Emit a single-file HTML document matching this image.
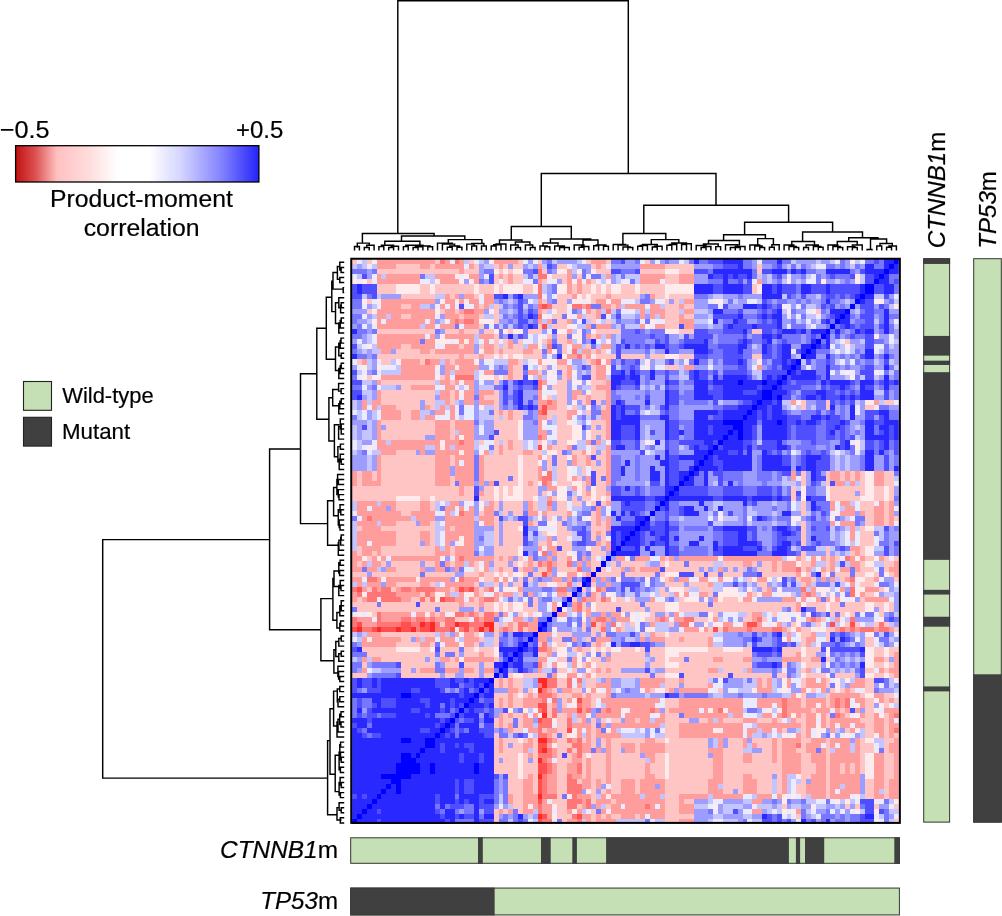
<!DOCTYPE html>
<html><head><meta charset="utf-8"><title>Correlation heatmap</title>
<style>
html,body{margin:0;padding:0;background:#fff;}
body{width:1002px;height:916px;overflow:hidden;}
svg text{font-family:"Liberation Sans",Arial,Helvetica,sans-serif;fill:#000;stroke:#000;stroke-width:0.2px;}
.i{font-style:italic;}
</style></head><body>
<svg width="1002" height="916" viewBox="0 0 1002 916" style="display:block">
<defs><linearGradient id="cb" x1="0" x2="1" y1="0" y2="0">
<stop offset="0" stop-color="#c21010"/><stop offset="0.08" stop-color="#dc5050"/><stop offset="0.17" stop-color="#ffc0c0"/><stop offset="0.30" stop-color="#ffdcdc"/>
<stop offset="0.42" stop-color="#ffffff"/><stop offset="0.55" stop-color="#ffffff"/><stop offset="0.68" stop-color="#d4d4ff"/><stop offset="0.85" stop-color="#8080ff"/><stop offset="1" stop-color="#2424f8"/>
</linearGradient></defs>
<rect width="1002" height="916" fill="#fff"/>
<svg x="352.1" y="258.5" width="546.70" height="565.60" viewBox="0 0 112 112" preserveAspectRatio="none" shape-rendering="crispEdges"><path fill="#ffc4c4" d="M0 0h1v1h-1zM3 0h1v1h-1zM17 0h1v1h-1zM24 0h1v1h-1zM34 0h1v1h-1zM38 0h1v1h-1zM48 0h1v1h-1zM52 0h1v1h-1zM60 0h1v1h-1zM9 1h5v1h-5zM16 1h1v1h-1zM25 1h1v1h-1zM29 1h1v1h-1zM31 1h1v1h-1zM33 1h2v1h-2zM42 1h2v1h-2zM49 1h1v1h-1zM51 1h1v1h-1zM64 1h6v1h-6zM83 1h1v1h-1zM5 2h17v1h-17zM23 2h3v1h-3zM30 2h1v1h-1zM32 2h1v1h-1zM39 2h1v1h-1zM50 2h3v1h-3zM59 2h5v1h-5zM67 2h3v1h-3zM83 2h1v1h-1zM29 3h1v1h-1zM31 3h1v1h-1zM33 3h2v1h-2zM41 3h3v1h-3zM46 3h1v1h-1zM64 3h3v1h-3zM3 4h1v1h-1zM29 4h1v1h-1zM31 4h1v1h-1zM33 4h2v1h-2zM39 4h1v1h-1zM43 4h1v1h-1zM49 4h1v1h-1zM64 4h3v1h-3zM5 5h4v1h-4zM14 5h2v1h-2zM17 5h8v1h-8zM26 5h3v1h-3zM30 5h1v1h-1zM35 5h2v1h-2zM45 5h1v1h-1zM47 5h2v1h-2zM50 5h1v1h-1zM52 5h1v1h-1zM55 5h3v1h-3zM59 5h5v1h-5zM82 5h1v1h-1zM5 6h4v1h-4zM14 6h2v1h-2zM17 6h8v1h-8zM26 6h3v1h-3zM30 6h1v1h-1zM35 6h2v1h-2zM45 6h1v1h-1zM47 6h2v1h-2zM50 6h1v1h-1zM52 6h1v1h-1zM55 6h3v1h-3zM59 6h5v1h-5zM82 6h1v1h-1zM10 7h7v1h-7zM20 7h1v1h-1zM25 7h1v1h-1zM42 7h3v1h-3zM47 7h1v1h-1zM49 7h3v1h-3zM53 7h6v1h-6zM62 7h2v1h-2zM65 7h5v1h-5zM3 8h1v1h-1zM39 8h1v1h-1zM42 8h2v1h-2zM49 8h1v1h-1zM64 8h1v1h-1zM66 8h1v1h-1zM10 9h2v1h-2zM26 9h1v1h-1zM29 9h1v1h-1zM41 9h3v1h-3zM53 9h1v1h-1zM64 9h3v1h-3zM68 9h2v1h-2zM3 10h1v1h-1zM18 10h1v1h-1zM21 10h1v1h-1zM29 10h1v1h-1zM39 10h1v1h-1zM42 10h2v1h-2zM49 10h1v1h-1zM64 10h3v1h-3zM95 10h1v1h-1zM10 11h2v1h-2zM22 11h1v1h-1zM26 11h1v1h-1zM29 11h1v1h-1zM41 11h2v1h-2zM48 11h2v1h-2zM64 11h3v1h-3zM68 11h2v1h-2zM29 12h1v1h-1zM42 12h2v1h-2zM49 12h1v1h-1zM52 12h1v1h-1zM64 12h3v1h-3zM26 13h1v1h-1zM38 13h1v1h-1zM41 13h3v1h-3zM64 13h3v1h-3zM5 14h12v1h-12zM19 14h3v1h-3zM23 14h3v1h-3zM27 14h2v1h-2zM32 14h1v1h-1zM36 14h3v1h-3zM50 14h5v1h-5zM67 14h3v1h-3zM82 14h2v1h-2zM29 15h1v1h-1zM40 15h1v1h-1zM42 15h2v1h-2zM49 15h1v1h-1zM29 16h1v1h-1zM31 16h1v1h-1zM34 16h1v1h-1zM39 16h1v1h-1zM42 16h2v1h-2zM101 16h1v1h-1zM10 17h2v1h-2zM22 17h1v1h-1zM26 17h1v1h-1zM29 17h1v1h-1zM31 17h1v1h-1zM33 17h2v1h-2zM43 17h1v1h-1zM48 17h1v1h-1zM9 18h5v1h-5zM16 18h1v1h-1zM29 18h1v1h-1zM31 18h4v1h-4zM37 18h2v1h-2zM43 18h1v1h-1zM49 18h1v1h-1zM51 18h1v1h-1zM5 19h17v1h-17zM23 19h3v1h-3zM27 19h2v1h-2zM30 19h1v1h-1zM32 19h1v1h-1zM35 19h4v1h-4zM47 19h1v1h-1zM50 19h4v1h-4zM55 19h5v1h-5zM61 19h3v1h-3zM67 19h3v1h-3zM82 19h2v1h-2zM1 20h1v1h-1zM6 20h2v1h-2zM14 20h1v1h-1zM20 20h1v1h-1zM34 20h1v1h-1zM48 20h1v1h-1zM33 21h2v1h-2zM39 21h1v1h-1zM42 21h2v1h-2zM49 21h1v1h-1zM64 21h3v1h-3zM33 22h2v1h-2zM38 22h1v1h-1zM43 22h1v1h-1zM49 22h1v1h-1zM3 23h1v1h-1zM18 23h1v1h-1zM29 23h1v1h-1zM31 23h1v1h-1zM33 23h2v1h-2zM43 23h1v1h-1zM49 23h1v1h-1zM6 24h11v1h-11zM20 24h1v1h-1zM29 24h1v1h-1zM42 24h2v1h-2zM49 24h3v1h-3zM10 25h2v1h-2zM41 25h3v1h-3zM49 25h1v1h-1zM6 26h11v1h-11zM20 26h1v1h-1zM29 26h1v1h-1zM42 26h2v1h-2zM49 26h3v1h-3zM6 27h11v1h-11zM20 27h1v1h-1zM27 27h3v1h-3zM40 27h1v1h-1zM42 27h2v1h-2zM46 27h2v1h-2zM49 27h3v1h-3zM6 28h8v1h-8zM15 28h2v1h-2zM20 28h1v1h-1zM29 28h1v1h-1zM42 28h2v1h-2zM47 28h1v1h-1zM50 28h1v1h-1zM92 28h1v1h-1zM97 28h1v1h-1zM109 28h2v1h-2zM9 29h5v1h-5zM16 29h1v1h-1zM29 29h1v1h-1zM42 29h2v1h-2zM45 29h1v1h-1zM51 29h1v1h-1zM92 29h1v1h-1zM97 29h1v1h-1zM105 29h2v1h-2zM10 30h2v1h-2zM29 30h1v1h-1zM31 30h1v1h-1zM33 30h2v1h-2zM40 30h4v1h-4zM48 30h1v1h-1zM10 31h2v1h-2zM29 31h1v1h-1zM31 31h1v1h-1zM33 31h2v1h-2zM40 31h1v1h-1zM42 31h2v1h-2zM6 32h11v1h-11zM20 32h1v1h-1zM29 32h5v1h-5zM42 32h2v1h-2zM49 32h3v1h-3zM7 33h10v1h-10zM20 33h1v1h-1zM29 33h5v1h-5zM42 33h3v1h-3zM49 33h1v1h-1zM51 33h1v1h-1zM6 34h11v1h-11zM20 34h1v1h-1zM30 34h4v1h-4zM42 34h3v1h-3zM49 34h3v1h-3zM6 35h9v1h-9zM20 35h1v1h-1zM29 35h5v1h-5zM42 35h3v1h-3zM49 35h1v1h-1zM51 35h1v1h-1zM26 36h1v1h-1zM29 36h1v1h-1zM31 36h1v1h-1zM33 36h2v1h-2zM38 36h1v1h-1zM42 36h2v1h-2zM29 37h1v1h-1zM31 37h1v1h-1zM33 37h2v1h-2zM41 37h3v1h-3zM49 37h1v1h-1zM9 38h4v1h-4zM29 38h1v1h-1zM31 38h4v1h-4zM37 38h2v1h-2zM42 38h1v1h-1zM45 38h2v1h-2zM49 38h1v1h-1zM51 38h1v1h-1zM6 39h11v1h-11zM20 39h1v1h-1zM27 39h7v1h-7zM35 39h3v1h-3zM40 39h1v1h-1zM42 39h2v1h-2zM46 39h2v1h-2zM50 39h2v1h-2zM6 40h11v1h-11zM20 40h1v1h-1zM27 40h7v1h-7zM35 40h3v1h-3zM40 40h1v1h-1zM42 40h2v1h-2zM46 40h2v1h-2zM49 40h1v1h-1zM51 40h1v1h-1zM6 41h11v1h-11zM27 41h7v1h-7zM35 41h3v1h-3zM40 41h1v1h-1zM42 41h2v1h-2zM47 41h1v1h-1zM49 41h3v1h-3zM1 42h1v1h-1zM4 42h1v1h-1zM6 42h11v1h-11zM27 42h7v1h-7zM35 42h3v1h-3zM42 42h2v1h-2zM47 42h1v1h-1zM50 42h2v1h-2zM92 42h1v1h-1zM97 42h1v1h-1zM100 42h1v1h-1zM102 42h1v1h-1zM104 42h1v1h-1zM109 42h2v1h-2zM1 43h1v1h-1zM4 43h1v1h-1zM6 43h11v1h-11zM20 43h1v1h-1zM27 43h5v1h-5zM33 43h1v1h-1zM35 43h3v1h-3zM42 43h2v1h-2zM46 43h1v1h-1zM50 43h1v1h-1zM92 43h1v1h-1zM97 43h1v1h-1zM100 43h1v1h-1zM102 43h1v1h-1zM104 43h1v1h-1zM109 43h2v1h-2zM1 44h1v1h-1zM6 44h11v1h-11zM20 44h1v1h-1zM30 44h4v1h-4zM35 44h1v1h-1zM37 44h1v1h-1zM42 44h3v1h-3zM47 44h1v1h-1zM50 44h2v1h-2zM92 44h1v1h-1zM97 44h1v1h-1zM104 44h1v1h-1zM109 44h2v1h-2zM0 45h22v1h-22zM23 45h2v1h-2zM27 45h2v1h-2zM30 45h1v1h-1zM32 45h1v1h-1zM35 45h3v1h-3zM47 45h1v1h-1zM50 45h2v1h-2zM90 45h1v1h-1zM98 45h7v1h-7zM107 45h2v1h-2zM110 45h1v1h-1zM0 46h22v1h-22zM23 46h2v1h-2zM27 46h2v1h-2zM30 46h1v1h-1zM32 46h1v1h-1zM35 46h3v1h-3zM39 46h1v1h-1zM47 46h1v1h-1zM50 46h2v1h-2zM90 46h1v1h-1zM98 46h5v1h-5zM104 46h1v1h-1zM107 46h2v1h-2zM110 46h1v1h-1zM0 47h9v1h-9zM14 47h2v1h-2zM17 47h8v1h-8zM26 47h3v1h-3zM30 47h1v1h-1zM35 47h2v1h-2zM41 47h1v1h-1zM45 47h1v1h-1zM47 47h2v1h-2zM50 47h1v1h-1zM52 47h1v1h-1zM90 47h1v1h-1zM98 47h6v1h-6zM107 47h2v1h-2zM110 47h1v1h-1zM9 48h5v1h-5zM16 48h1v1h-1zM29 48h1v1h-1zM31 48h4v1h-4zM37 48h1v1h-1zM42 48h2v1h-2zM45 48h2v1h-2zM49 48h1v1h-1zM51 48h1v1h-1zM92 48h1v1h-1zM104 48h3v1h-3zM109 48h1v1h-1zM9 49h5v1h-5zM16 49h1v1h-1zM29 49h1v1h-1zM31 49h4v1h-4zM37 49h1v1h-1zM42 49h2v1h-2zM92 49h1v1h-1zM104 49h3v1h-3zM109 49h1v1h-1zM10 50h2v1h-2zM26 50h1v1h-1zM31 50h1v1h-1zM33 50h2v1h-2zM40 50h4v1h-4zM49 50h1v1h-1zM92 50h1v1h-1zM105 50h2v1h-2zM109 50h1v1h-1zM29 51h1v1h-1zM40 51h1v1h-1zM43 51h1v1h-1zM49 51h1v1h-1zM105 51h2v1h-2zM109 51h1v1h-1zM111 51h1v1h-1zM9 52h4v1h-4zM16 52h1v1h-1zM29 52h1v1h-1zM31 52h4v1h-4zM37 52h1v1h-1zM42 52h1v1h-1zM49 52h1v1h-1zM51 52h1v1h-1zM92 52h1v1h-1zM105 52h2v1h-2zM109 52h1v1h-1zM1 53h1v1h-1zM6 53h11v1h-11zM20 53h1v1h-1zM29 53h1v1h-1zM31 53h3v1h-3zM42 53h2v1h-2zM49 53h3v1h-3zM92 53h1v1h-1zM104 53h1v1h-1zM9 54h5v1h-5zM16 54h1v1h-1zM29 54h1v1h-1zM31 54h4v1h-4zM39 54h1v1h-1zM42 54h3v1h-3zM49 54h1v1h-1zM51 54h1v1h-1zM92 54h1v1h-1zM104 54h3v1h-3zM9 55h5v1h-5zM16 55h1v1h-1zM29 55h1v1h-1zM31 55h4v1h-4zM42 55h2v1h-2zM49 55h1v1h-1zM51 55h1v1h-1zM92 55h1v1h-1zM104 55h3v1h-3zM9 56h5v1h-5zM16 56h1v1h-1zM29 56h1v1h-1zM31 56h4v1h-4zM38 56h2v1h-2zM42 56h3v1h-3zM51 56h1v1h-1zM92 56h1v1h-1zM104 56h3v1h-3zM1 57h1v1h-1zM6 57h11v1h-11zM20 57h1v1h-1zM29 57h5v1h-5zM43 57h2v1h-2zM49 57h2v1h-2zM97 57h1v1h-1zM104 57h1v1h-1zM1 58h1v1h-1zM4 58h1v1h-1zM6 58h11v1h-11zM20 58h1v1h-1zM29 58h5v1h-5zM42 58h2v1h-2zM49 58h3v1h-3zM92 58h1v1h-1zM97 58h1v1h-1zM102 58h1v1h-1zM104 58h1v1h-1zM3 59h1v1h-1zM29 59h1v1h-1zM31 59h1v1h-1zM34 59h1v1h-1zM42 59h2v1h-2zM49 59h1v1h-1zM64 59h1v1h-1zM92 59h1v1h-1zM97 59h1v1h-1zM99 59h1v1h-1zM105 59h2v1h-2zM109 59h1v1h-1zM111 59h1v1h-1zM1 60h1v1h-1zM6 60h1v1h-1zM8 60h6v1h-6zM15 60h2v1h-2zM20 60h1v1h-1zM25 60h1v1h-1zM29 60h3v1h-3zM33 60h1v1h-1zM35 60h1v1h-1zM37 60h1v1h-1zM42 60h2v1h-2zM49 60h2v1h-2zM53 60h1v1h-1zM55 60h5v1h-5zM63 60h1v1h-1zM65 60h3v1h-3zM69 60h5v1h-5zM76 60h4v1h-4zM82 60h1v1h-1zM84 60h2v1h-2zM87 60h1v1h-1zM92 60h2v1h-2zM97 60h1v1h-1zM104 60h1v1h-1zM109 60h2v1h-2zM9 61h5v1h-5zM25 61h1v1h-1zM29 61h1v1h-1zM31 61h2v1h-2zM34 61h1v1h-1zM38 61h2v1h-2zM42 61h4v1h-4zM49 61h1v1h-1zM51 61h1v1h-1zM53 61h2v1h-2zM58 61h1v1h-1zM64 61h7v1h-7zM72 61h1v1h-1zM77 61h1v1h-1zM79 61h1v1h-1zM83 61h3v1h-3zM87 61h1v1h-1zM92 61h1v1h-1zM97 61h1v1h-1zM104 61h3v1h-3zM109 61h1v1h-1zM0 62h3v1h-3zM4 62h10v1h-10zM15 62h6v1h-6zM23 62h3v1h-3zM27 62h2v1h-2zM30 62h1v1h-1zM32 62h1v1h-1zM35 62h1v1h-1zM37 62h2v1h-2zM47 62h1v1h-1zM50 62h5v1h-5zM56 62h6v1h-6zM63 62h1v1h-1zM70 62h2v1h-2zM73 62h2v1h-2zM76 62h4v1h-4zM84 62h7v1h-7zM93 62h1v1h-1zM96 62h1v1h-1zM99 62h3v1h-3zM103 62h2v1h-2zM107 62h1v1h-1zM110 62h1v1h-1zM27 63h2v1h-2zM34 63h1v1h-1zM36 63h1v1h-1zM64 63h1v1h-1zM81 63h1v1h-1zM91 63h1v1h-1zM94 63h1v1h-1zM100 63h1v1h-1zM105 63h2v1h-2zM111 63h1v1h-1zM9 64h5v1h-5zM16 64h1v1h-1zM25 64h1v1h-1zM29 64h1v1h-1zM31 64h1v1h-1zM33 64h2v1h-2zM38 64h2v1h-2zM42 64h2v1h-2zM46 64h1v1h-1zM49 64h1v1h-1zM64 64h4v1h-4zM69 64h4v1h-4zM83 64h2v1h-2zM92 64h1v1h-1zM104 64h3v1h-3zM3 65h1v1h-1zM8 65h1v1h-1zM20 65h1v1h-1zM26 65h1v1h-1zM47 65h1v1h-1zM63 65h1v1h-1zM68 65h1v1h-1zM71 65h3v1h-3zM84 65h1v1h-1zM108 65h1v1h-1zM14 66h1v1h-1zM26 66h1v1h-1zM30 66h1v1h-1zM34 66h1v1h-1zM44 66h1v1h-1zM50 66h1v1h-1zM63 66h2v1h-2zM73 66h1v1h-1zM82 66h1v1h-1zM105 66h2v1h-2zM1 67h1v1h-1zM12 67h2v1h-2zM15 67h1v1h-1zM25 67h1v1h-1zM37 67h1v1h-1zM45 67h1v1h-1zM50 67h1v1h-1zM54 67h2v1h-2zM57 67h1v1h-1zM67 67h1v1h-1zM76 67h3v1h-3zM104 67h1v1h-1zM0 68h5v1h-5zM6 68h7v1h-7zM14 68h8v1h-8zM23 68h3v1h-3zM27 68h2v1h-2zM30 68h1v1h-1zM32 68h1v1h-1zM35 68h1v1h-1zM37 68h1v1h-1zM47 68h1v1h-1zM50 68h9v1h-9zM60 68h4v1h-4zM67 68h6v1h-6zM74 68h17v1h-17zM93 68h4v1h-4zM98 68h2v1h-2zM101 68h4v1h-4zM107 68h2v1h-2zM110 68h1v1h-1zM1 69h16v1h-16zM18 69h4v1h-4zM25 69h1v1h-1zM27 69h2v1h-2zM30 69h1v1h-1zM32 69h1v1h-1zM35 69h3v1h-3zM47 69h1v1h-1zM50 69h4v1h-4zM55 69h5v1h-5zM61 69h3v1h-3zM67 69h21v1h-21zM90 69h1v1h-1zM95 69h2v1h-2zM98 69h7v1h-7zM108 69h1v1h-1zM110 69h1v1h-1zM4 70h1v1h-1zM17 70h1v1h-1zM26 70h1v1h-1zM34 70h1v1h-1zM36 70h1v1h-1zM61 70h1v1h-1zM64 70h1v1h-1zM74 70h1v1h-1zM81 70h1v1h-1zM86 70h1v1h-1zM98 70h1v1h-1zM100 70h1v1h-1zM102 70h1v1h-1zM108 70h1v1h-1zM21 71h3v1h-3zM60 71h2v1h-2zM70 71h3v1h-3zM80 71h2v1h-2zM84 71h1v1h-1zM96 71h1v1h-1zM18 72h1v1h-1zM29 72h1v1h-1zM31 72h1v1h-1zM33 72h1v1h-1zM47 72h1v1h-1zM50 72h1v1h-1zM55 72h1v1h-1zM57 72h1v1h-1zM65 72h1v1h-1zM90 72h1v1h-1zM95 72h1v1h-1zM101 72h1v1h-1zM103 72h1v1h-1zM107 72h1v1h-1zM109 72h1v1h-1zM29 73h1v1h-1zM33 73h1v1h-1zM35 73h1v1h-1zM47 73h1v1h-1zM49 73h2v1h-2zM55 73h1v1h-1zM73 73h1v1h-1zM75 73h1v1h-1zM89 73h1v1h-1zM92 73h2v1h-2zM97 73h2v1h-2zM111 73h1v1h-1zM6 74h11v1h-11zM25 74h1v1h-1zM29 74h1v1h-1zM42 74h3v1h-3zM49 74h1v1h-1zM51 74h1v1h-1zM59 74h1v1h-1zM62 74h2v1h-2zM65 74h9v1h-9zM92 74h2v1h-2zM97 74h1v1h-1zM10 75h2v1h-2zM26 75h1v1h-1zM29 75h1v1h-1zM41 75h2v1h-2zM48 75h1v1h-1zM64 75h3v1h-3zM68 75h5v1h-5zM92 75h1v1h-1zM97 75h1v1h-1zM105 75h2v1h-2zM9 76h5v1h-5zM16 76h1v1h-1zM25 76h1v1h-1zM29 76h1v1h-1zM38 76h1v1h-1zM42 76h2v1h-2zM49 76h1v1h-1zM51 76h1v1h-1zM64 76h9v1h-9zM92 76h1v1h-1zM105 76h2v1h-2zM2 77h7v1h-7zM14 77h2v1h-2zM18 77h4v1h-4zM23 77h2v1h-2zM26 77h3v1h-3zM41 77h1v1h-1zM45 77h1v1h-1zM47 77h2v1h-2zM50 77h1v1h-1zM52 77h1v1h-1zM55 77h3v1h-3zM59 77h1v1h-1zM61 77h3v1h-3zM73 77h3v1h-3zM80 77h2v1h-2zM88 77h4v1h-4zM93 77h3v1h-3zM107 77h2v1h-2zM110 77h2v1h-2zM3 78h14v1h-14zM18 78h1v1h-1zM21 78h1v1h-1zM23 78h3v1h-3zM27 78h2v1h-2zM38 78h2v1h-2zM47 78h1v1h-1zM51 78h1v1h-1zM53 78h7v1h-7zM61 78h3v1h-3zM67 78h15v1h-15zM88 78h3v1h-3zM93 78h2v1h-2zM107 78h2v1h-2zM110 78h1v1h-1zM6 79h9v1h-9zM16 79h1v1h-1zM20 79h1v1h-1zM29 79h1v1h-1zM42 79h2v1h-2zM49 79h2v1h-2zM53 79h7v1h-7zM62 79h2v1h-2zM65 79h3v1h-3zM69 79h5v1h-5zM76 79h4v1h-4zM92 79h2v1h-2zM97 79h1v1h-1zM109 79h1v1h-1zM2 80h1v1h-1zM10 80h7v1h-7zM19 80h3v1h-3zM23 80h3v1h-3zM27 80h2v1h-2zM39 80h1v1h-1zM47 80h1v1h-1zM50 80h10v1h-10zM61 80h3v1h-3zM67 80h15v1h-15zM88 80h1v1h-1zM93 80h3v1h-3zM107 80h2v1h-2zM110 80h1v1h-1zM10 81h2v1h-2zM13 81h1v1h-1zM25 81h1v1h-1zM42 81h2v1h-2zM45 81h1v1h-1zM49 81h1v1h-1zM51 81h1v1h-1zM53 81h2v1h-2zM64 81h9v1h-9zM76 81h4v1h-4zM92 81h1v1h-1zM105 81h2v1h-2zM109 81h1v1h-1zM0 82h3v1h-3zM10 82h8v1h-8zM19 82h2v1h-2zM23 82h3v1h-3zM27 82h2v1h-2zM32 82h1v1h-1zM35 82h5v1h-5zM47 82h1v1h-1zM50 82h11v1h-11zM62 82h2v1h-2zM68 82h9v1h-9zM78 82h8v1h-8zM87 82h2v1h-2zM93 82h4v1h-4zM99 82h4v1h-4zM107 82h2v1h-2zM110 82h1v1h-1zM29 83h1v1h-1zM31 83h1v1h-1zM33 83h2v1h-2zM42 83h2v1h-2zM48 83h2v1h-2zM64 83h3v1h-3zM68 83h5v1h-5zM84 83h1v1h-1zM92 83h1v1h-1zM97 83h1v1h-1zM105 83h2v1h-2zM29 84h1v1h-1zM31 84h1v1h-1zM33 84h2v1h-2zM42 84h2v1h-2zM48 84h2v1h-2zM64 84h3v1h-3zM68 84h5v1h-5zM84 84h1v1h-1zM92 84h1v1h-1zM97 84h1v1h-1zM105 84h2v1h-2zM34 85h1v1h-1zM36 85h1v1h-1zM41 85h1v1h-1zM45 85h2v1h-2zM61 85h1v1h-1zM64 85h1v1h-1zM75 85h1v1h-1zM94 85h1v1h-1zM98 85h1v1h-1zM100 85h1v1h-1zM102 85h1v1h-1zM105 85h2v1h-2zM29 86h3v1h-3zM33 86h1v1h-1zM35 86h1v1h-1zM37 86h1v1h-1zM42 86h3v1h-3zM47 86h1v1h-1zM49 86h3v1h-3zM92 86h1v1h-1zM97 86h1v1h-1zM104 86h1v1h-1zM109 86h2v1h-2zM29 87h1v1h-1zM31 87h1v1h-1zM33 87h2v1h-2zM43 87h1v1h-1zM49 87h1v1h-1zM64 87h3v1h-3zM92 87h1v1h-1zM97 87h1v1h-1zM105 87h2v1h-2zM109 87h1v1h-1zM111 87h1v1h-1zM29 88h1v1h-1zM31 88h1v1h-1zM33 88h2v1h-2zM40 88h1v1h-1zM43 88h1v1h-1zM49 88h1v1h-1zM64 88h3v1h-3zM92 88h1v1h-1zM97 88h1v1h-1zM105 88h2v1h-2zM109 88h1v1h-1zM40 89h1v1h-1zM64 89h1v1h-1zM94 89h1v1h-1zM100 89h1v1h-1zM105 89h2v1h-2zM31 90h1v1h-1zM33 90h2v1h-2zM40 90h1v1h-1zM42 90h2v1h-2zM64 90h3v1h-3zM92 90h1v1h-1zM97 90h1v1h-1zM101 90h1v1h-1zM105 90h2v1h-2zM109 90h1v1h-1zM29 91h1v1h-1zM31 91h2v1h-2zM34 91h1v1h-1zM42 91h2v1h-2zM46 91h1v1h-1zM49 91h1v1h-1zM51 91h1v1h-1zM53 91h2v1h-2zM58 91h1v1h-1zM64 91h5v1h-5zM71 91h2v1h-2zM76 91h4v1h-4zM83 91h3v1h-3zM87 91h1v1h-1zM91 91h2v1h-2zM97 91h1v1h-1zM104 91h3v1h-3zM109 91h1v1h-1zM29 92h1v1h-1zM31 92h1v1h-1zM34 92h1v1h-1zM42 92h2v1h-2zM49 92h1v1h-1zM64 92h3v1h-3zM92 92h1v1h-1zM97 92h1v1h-1zM105 92h2v1h-2zM109 92h1v1h-1zM33 93h2v1h-2zM39 93h1v1h-1zM42 93h2v1h-2zM49 93h1v1h-1zM64 93h3v1h-3zM88 93h1v1h-1zM92 93h1v1h-1zM101 93h1v1h-1zM105 93h2v1h-2zM109 93h1v1h-1zM29 94h1v1h-1zM41 94h1v1h-1zM43 94h1v1h-1zM49 94h1v1h-1zM64 94h3v1h-3zM92 94h1v1h-1zM105 94h2v1h-2zM109 94h1v1h-1zM111 94h1v1h-1zM29 95h1v1h-1zM31 95h3v1h-3zM35 95h1v1h-1zM37 95h1v1h-1zM42 95h2v1h-2zM47 95h1v1h-1zM49 95h1v1h-1zM51 95h1v1h-1zM53 95h7v1h-7zM62 95h2v1h-2zM65 95h8v1h-8zM77 95h3v1h-3zM82 95h4v1h-4zM87 95h1v1h-1zM92 95h2v1h-2zM97 95h1v1h-1zM104 95h1v1h-1zM109 95h2v1h-2zM29 96h1v1h-1zM31 96h1v1h-1zM33 96h2v1h-2zM37 96h1v1h-1zM42 96h3v1h-3zM49 96h1v1h-1zM51 96h1v1h-1zM53 96h2v1h-2zM58 96h1v1h-1zM64 96h9v1h-9zM77 96h3v1h-3zM83 96h3v1h-3zM87 96h1v1h-1zM92 96h1v1h-1zM97 96h1v1h-1zM104 96h3v1h-3zM109 96h1v1h-1zM29 97h1v1h-1zM31 97h4v1h-4zM37 97h1v1h-1zM42 97h2v1h-2zM45 97h1v1h-1zM53 97h2v1h-2zM58 97h1v1h-1zM64 97h9v1h-9zM76 97h4v1h-4zM84 97h2v1h-2zM87 97h1v1h-1zM91 97h2v1h-2zM97 97h1v1h-1zM104 97h3v1h-3zM109 97h1v1h-1zM29 98h5v1h-5zM35 98h1v1h-1zM37 98h1v1h-1zM42 98h1v1h-1zM44 98h1v1h-1zM47 98h1v1h-1zM49 98h3v1h-3zM53 98h6v1h-6zM62 98h2v1h-2zM65 98h8v1h-8zM76 98h4v1h-4zM82 98h4v1h-4zM87 98h1v1h-1zM92 98h2v1h-2zM97 98h1v1h-1zM104 98h1v1h-1zM109 98h2v1h-2zM29 99h1v1h-1zM31 99h3v1h-3zM35 99h1v1h-1zM37 99h1v1h-1zM42 99h3v1h-3zM47 99h1v1h-1zM49 99h3v1h-3zM53 99h7v1h-7zM62 99h2v1h-2zM65 99h9v1h-9zM76 99h4v1h-4zM82 99h4v1h-4zM87 99h1v1h-1zM92 99h2v1h-2zM97 99h1v1h-1zM104 99h1v1h-1zM109 99h2v1h-2zM29 100h5v1h-5zM35 100h3v1h-3zM42 100h2v1h-2zM47 100h1v1h-1zM49 100h3v1h-3zM53 100h7v1h-7zM61 100h3v1h-3zM65 100h9v1h-9zM76 100h12v1h-12zM92 100h3v1h-3zM97 100h1v1h-1zM100 100h1v1h-1zM102 100h1v1h-1zM104 100h1v1h-1zM109 100h2v1h-2zM29 101h5v1h-5zM35 101h3v1h-3zM42 101h2v1h-2zM47 101h1v1h-1zM49 101h3v1h-3zM53 101h7v1h-7zM61 101h3v1h-3zM65 101h9v1h-9zM76 101h12v1h-12zM92 101h3v1h-3zM97 101h1v1h-1zM100 101h1v1h-1zM102 101h1v1h-1zM104 101h1v1h-1zM109 101h2v1h-2zM32 102h2v1h-2zM35 102h1v1h-1zM37 102h1v1h-1zM42 102h2v1h-2zM47 102h1v1h-1zM49 102h3v1h-3zM53 102h7v1h-7zM62 102h2v1h-2zM65 102h9v1h-9zM76 102h4v1h-4zM82 102h4v1h-4zM87 102h1v1h-1zM92 102h2v1h-2zM97 102h1v1h-1zM109 102h2v1h-2zM32 103h3v1h-3zM37 103h1v1h-1zM42 103h2v1h-2zM46 103h1v1h-1zM49 103h1v1h-1zM51 103h1v1h-1zM53 103h2v1h-2zM58 103h1v1h-1zM64 103h9v1h-9zM76 103h4v1h-4zM83 103h3v1h-3zM87 103h1v1h-1zM92 103h1v1h-1zM97 103h1v1h-1zM105 103h2v1h-2zM109 103h1v1h-1zM32 104h3v1h-3zM37 104h1v1h-1zM42 104h2v1h-2zM49 104h1v1h-1zM53 104h2v1h-2zM58 104h1v1h-1zM64 104h9v1h-9zM76 104h4v1h-4zM83 104h3v1h-3zM87 104h1v1h-1zM91 104h2v1h-2zM97 104h1v1h-1zM105 104h2v1h-2zM109 104h1v1h-1zM32 105h3v1h-3zM37 105h1v1h-1zM42 105h2v1h-2zM49 105h1v1h-1zM51 105h1v1h-1zM53 105h2v1h-2zM58 105h1v1h-1zM64 105h9v1h-9zM76 105h2v1h-2zM79 105h1v1h-1zM83 105h3v1h-3zM87 105h1v1h-1zM91 105h2v1h-2zM97 105h1v1h-1zM105 105h2v1h-2zM109 105h1v1h-1zM33 106h2v1h-2zM42 106h1v1h-1zM49 106h1v1h-1zM64 106h3v1h-3zM92 106h1v1h-1zM97 106h1v1h-1zM105 106h2v1h-2zM109 106h1v1h-1zM33 107h2v1h-2zM41 107h3v1h-3zM49 107h1v1h-1zM53 107h1v1h-1zM64 107h3v1h-3zM68 107h2v1h-2zM33 108h2v1h-2zM42 108h2v1h-2zM46 108h1v1h-1zM52 108h1v1h-1zM64 108h3v1h-3zM88 108h1v1h-1zM101 108h1v1h-1zM103 108h1v1h-1zM107 108h1v1h-1zM111 108h1v1h-1zM29 109h1v1h-1zM31 109h1v1h-1zM34 109h1v1h-1zM42 109h2v1h-2zM49 109h1v1h-1zM64 109h3v1h-3zM29 110h1v1h-1zM42 110h3v1h-3zM49 110h1v1h-1zM51 110h1v1h-1zM53 110h2v1h-2zM58 110h1v1h-1zM64 110h6v1h-6zM91 110h1v1h-1zM29 111h1v1h-1zM43 111h1v1h-1zM49 111h1v1h-1zM64 111h3v1h-3zM111 111h1v1h-1z"/><path fill="#ebebff" d="M1 0h1v1h-1zM20 0h1v1h-1zM25 0h1v1h-1zM35 0h1v1h-1zM37 0h1v1h-1zM47 0h1v1h-1zM59 0h1v1h-1zM62 0h1v1h-1zM67 0h1v1h-1zM83 0h1v1h-1zM99 0h1v1h-1zM104 0h1v1h-1zM3 1h1v1h-1zM23 1h1v1h-1zM44 1h1v1h-1zM52 1h1v1h-1zM95 1h2v1h-2zM0 3h1v1h-1zM4 3h1v1h-1zM22 3h1v1h-1zM27 3h1v1h-1zM48 3h1v1h-1zM89 3h1v1h-1zM94 3h1v1h-1zM1 4h1v1h-1zM4 4h1v1h-1zM14 4h2v1h-2zM30 4h1v1h-1zM35 4h2v1h-2zM40 4h2v1h-2zM47 4h1v1h-1zM50 4h1v1h-1zM55 4h2v1h-2zM63 4h1v1h-1zM82 4h1v1h-1zM93 4h2v1h-2zM26 7h1v1h-1zM39 7h1v1h-1zM41 7h1v1h-1zM111 7h1v1h-1zM4 8h1v1h-1zM26 8h1v1h-1zM36 8h1v1h-1zM47 8h1v1h-1zM55 8h3v1h-3zM62 8h2v1h-2zM73 8h1v1h-1zM81 8h2v1h-2zM2 9h1v1h-1zM5 9h1v1h-1zM17 9h1v1h-1zM19 9h1v1h-1zM21 9h1v1h-1zM23 9h2v1h-2zM60 9h1v1h-1zM75 9h1v1h-1zM89 9h1v1h-1zM91 9h1v1h-1zM44 10h1v1h-1zM47 10h1v1h-1zM55 10h3v1h-3zM93 10h1v1h-1zM2 11h1v1h-1zM17 11h1v1h-1zM40 11h1v1h-1zM45 11h1v1h-1zM52 11h1v1h-1zM89 11h1v1h-1zM91 11h1v1h-1zM95 11h1v1h-1zM6 12h1v1h-1zM15 12h1v1h-1zM46 12h1v1h-1zM50 12h1v1h-1zM59 12h1v1h-1zM62 12h2v1h-2zM73 12h1v1h-1zM93 12h1v1h-1zM111 12h1v1h-1zM2 13h1v1h-1zM4 13h1v1h-1zM17 13h1v1h-1zM22 13h1v1h-1zM28 13h1v1h-1zM61 13h1v1h-1zM89 13h1v1h-1zM94 13h1v1h-1zM40 14h1v1h-1zM4 15h1v1h-1zM15 15h1v1h-1zM36 15h1v1h-1zM39 15h1v1h-1zM110 15h1v1h-1zM1 16h1v1h-1zM4 16h1v1h-1zM20 16h1v1h-1zM26 16h1v1h-1zM28 16h1v1h-1zM30 16h1v1h-1zM35 16h2v1h-2zM50 16h1v1h-1zM100 16h1v1h-1zM110 16h1v1h-1zM2 17h1v1h-1zM17 17h2v1h-2zM98 17h1v1h-1zM107 17h2v1h-2zM44 18h1v1h-1zM52 18h1v1h-1zM90 18h1v1h-1zM99 18h1v1h-1zM101 18h1v1h-1zM107 18h1v1h-1zM40 19h1v1h-1zM0 20h1v1h-1zM5 20h1v1h-1zM27 20h2v1h-2zM36 20h1v1h-1zM44 20h1v1h-1zM68 20h1v1h-1zM100 20h1v1h-1zM102 20h1v1h-1zM1 21h1v1h-1zM6 21h3v1h-3zM28 21h1v1h-1zM36 21h1v1h-1zM41 21h1v1h-1zM59 21h1v1h-1zM62 21h2v1h-2zM73 21h1v1h-1zM82 21h1v1h-1zM93 21h1v1h-1zM2 22h1v1h-1zM5 22h1v1h-1zM17 22h1v1h-1zM26 22h1v1h-1zM41 22h1v1h-1zM98 22h1v1h-1zM100 22h1v1h-1zM102 22h1v1h-1zM108 22h1v1h-1zM1 23h1v1h-1zM20 23h1v1h-1zM30 23h1v1h-1zM45 23h1v1h-1zM26 24h1v1h-1zM40 24h2v1h-2zM2 25h1v1h-1zM5 25h1v1h-1zM17 25h2v1h-2zM21 25h1v1h-1zM23 25h1v1h-1zM45 25h1v1h-1zM39 26h3v1h-3zM22 27h1v1h-1zM111 28h1v1h-1zM3 29h1v1h-1zM21 29h1v1h-1zM23 29h2v1h-2zM44 29h1v1h-1zM90 29h1v1h-1zM103 29h1v1h-1zM107 29h1v1h-1zM0 30h1v1h-1zM2 30h1v1h-1zM5 30h1v1h-1zM19 30h1v1h-1zM21 30h1v1h-1zM23 30h2v1h-2zM60 30h1v1h-1zM103 30h1v1h-1zM2 31h1v1h-1zM5 31h1v1h-1zM17 31h3v1h-3zM21 31h1v1h-1zM23 31h2v1h-2zM45 31h1v1h-1zM45 32h1v1h-1zM48 32h1v1h-1zM26 33h1v1h-1zM39 33h3v1h-3zM26 34h1v1h-1zM41 34h1v1h-1zM40 35h2v1h-2zM0 36h1v1h-1zM4 36h1v1h-1zM27 36h2v1h-2zM36 36h1v1h-1zM61 36h1v1h-1zM102 36h1v1h-1zM0 37h1v1h-1zM2 37h1v1h-1zM4 37h1v1h-1zM26 37h2v1h-2zM36 37h1v1h-1zM48 37h1v1h-1zM3 38h1v1h-1zM60 38h1v1h-1zM90 38h1v1h-1zM99 38h1v1h-1zM103 38h1v1h-1zM22 40h1v1h-1zM45 41h1v1h-1zM48 41h1v1h-1zM45 42h1v1h-1zM48 42h1v1h-1zM91 43h1v1h-1zM38 44h1v1h-1zM41 44h1v1h-1zM111 44h1v1h-1zM40 46h1v1h-1zM18 48h1v1h-1zM23 48h2v1h-2zM44 48h1v1h-1zM90 48h1v1h-1zM99 48h1v1h-1zM103 48h1v1h-1zM107 48h1v1h-1zM3 49h1v1h-1zM21 49h1v1h-1zM23 49h1v1h-1zM44 49h1v1h-1zM52 49h1v1h-1zM90 49h1v1h-1zM99 49h1v1h-1zM103 49h1v1h-1zM111 49h1v1h-1zM0 50h1v1h-1zM17 50h2v1h-2zM21 50h1v1h-1zM45 50h1v1h-1zM52 50h1v1h-1zM75 50h1v1h-1zM98 50h1v1h-1zM1 51h1v1h-1zM41 51h1v1h-1zM47 51h1v1h-1zM73 51h1v1h-1zM81 51h1v1h-1zM102 51h1v1h-1zM18 52h1v1h-1zM90 52h1v1h-1zM99 52h1v1h-1zM111 52h1v1h-1zM38 53h4v1h-4zM18 54h1v1h-1zM101 54h1v1h-1zM103 54h1v1h-1zM18 55h1v1h-1zM44 55h1v1h-1zM52 55h1v1h-1zM101 55h1v1h-1zM103 55h1v1h-1zM107 55h1v1h-1zM3 56h1v1h-1zM18 56h1v1h-1zM21 56h1v1h-1zM101 56h1v1h-1zM103 56h1v1h-1zM107 56h1v1h-1zM26 57h1v1h-1zM39 57h1v1h-1zM45 58h1v1h-1zM7 59h1v1h-1zM20 59h1v1h-1zM35 59h1v1h-1zM50 59h1v1h-1zM56 59h1v1h-1zM61 59h2v1h-2zM93 59h1v1h-1zM100 59h1v1h-1zM110 59h1v1h-1zM26 60h1v1h-1zM23 61h2v1h-2zM52 61h1v1h-1zM95 61h1v1h-1zM99 61h1v1h-1zM107 61h1v1h-1zM2 63h1v1h-1zM69 63h2v1h-2zM74 63h1v1h-1zM79 63h1v1h-1zM108 63h1v1h-1zM18 64h1v1h-1zM60 64h1v1h-1zM101 64h1v1h-1zM103 64h1v1h-1zM107 64h1v1h-1zM111 64h1v1h-1zM99 65h1v1h-1zM27 66h2v1h-2zM39 66h1v1h-1zM41 66h1v1h-1zM53 66h1v1h-1zM61 66h1v1h-1zM69 66h2v1h-2zM79 66h2v1h-2zM86 66h1v1h-1zM88 66h1v1h-1zM100 66h1v1h-1zM23 67h1v1h-1zM30 67h1v1h-1zM35 67h1v1h-1zM56 67h1v1h-1zM62 67h2v1h-2zM82 67h1v1h-1zM91 67h1v1h-1zM93 67h1v1h-1zM101 67h1v1h-1zM110 67h1v1h-1zM40 68h1v1h-1zM40 69h1v1h-1zM0 70h1v1h-1zM2 70h1v1h-1zM12 70h1v1h-1zM19 70h1v1h-1zM32 70h1v1h-1zM37 70h1v1h-1zM45 70h1v1h-1zM58 70h1v1h-1zM60 70h1v1h-1zM67 70h1v1h-1zM76 70h3v1h-3zM85 70h1v1h-1zM87 70h1v1h-1zM89 70h2v1h-2zM104 70h1v1h-1zM107 70h1v1h-1zM4 71h1v1h-1zM24 71h1v1h-1zM31 71h2v1h-2zM42 71h2v1h-2zM58 71h1v1h-1zM65 71h1v1h-1zM76 71h1v1h-1zM78 71h1v1h-1zM85 71h1v1h-1zM87 71h1v1h-1zM92 71h1v1h-1zM97 71h1v1h-1zM100 71h1v1h-1zM107 71h1v1h-1zM45 72h1v1h-1zM54 72h1v1h-1zM58 72h1v1h-1zM78 72h1v1h-1zM85 72h1v1h-1zM96 72h1v1h-1zM104 72h1v1h-1zM58 73h1v1h-1zM67 73h1v1h-1zM26 74h1v1h-1zM41 74h1v1h-1zM111 74h1v1h-1zM0 75h1v1h-1zM17 75h1v1h-1zM21 75h1v1h-1zM74 75h2v1h-2zM90 75h2v1h-2zM95 75h2v1h-2zM103 75h1v1h-1zM107 75h1v1h-1zM18 76h1v1h-1zM44 76h1v1h-1zM52 76h1v1h-1zM95 76h1v1h-1zM107 76h1v1h-1zM111 76h1v1h-1zM40 79h2v1h-2zM40 80h1v1h-1zM3 81h1v1h-1zM44 81h1v1h-1zM88 81h1v1h-1zM95 81h1v1h-1zM107 81h1v1h-1zM45 83h1v1h-1zM75 83h1v1h-1zM90 83h2v1h-2zM95 83h1v1h-1zM98 83h1v1h-1zM45 84h1v1h-1zM74 84h2v1h-2zM91 84h1v1h-1zM108 84h1v1h-1zM37 85h1v1h-1zM51 85h1v1h-1zM54 85h1v1h-1zM74 85h1v1h-1zM77 85h2v1h-2zM87 85h1v1h-1zM89 85h1v1h-1zM95 85h1v1h-1zM103 85h2v1h-2zM111 86h1v1h-1zM40 87h1v1h-1zM50 87h1v1h-1zM63 87h1v1h-1zM80 87h3v1h-3zM102 87h1v1h-1zM44 88h1v1h-1zM50 88h1v1h-1zM62 88h2v1h-2zM80 88h3v1h-3zM86 88h1v1h-1zM102 88h1v1h-1zM110 88h1v1h-1zM71 89h1v1h-1zM84 89h1v1h-1zM98 89h1v1h-1zM108 89h1v1h-1zM36 90h1v1h-1zM55 90h1v1h-1zM61 90h2v1h-2zM80 90h3v1h-3zM86 90h1v1h-1zM102 90h1v1h-1zM52 91h1v1h-1zM88 91h1v1h-1zM95 91h1v1h-1zM111 91h1v1h-1zM41 92h1v1h-1zM80 92h2v1h-2zM102 92h1v1h-1zM35 93h1v1h-1zM47 93h1v1h-1zM55 93h3v1h-3zM59 93h1v1h-1zM61 93h1v1h-1zM63 93h1v1h-1zM80 93h1v1h-1zM86 93h1v1h-1zM94 93h1v1h-1zM36 94h1v1h-1zM61 94h1v1h-1zM80 94h1v1h-1zM86 94h1v1h-1zM89 94h1v1h-1zM94 94h1v1h-1zM98 94h1v1h-1zM100 94h1v1h-1zM102 94h1v1h-1zM96 96h1v1h-1zM99 96h1v1h-1zM107 96h1v1h-1zM107 97h1v1h-1zM41 99h1v1h-1zM90 103h1v1h-1zM52 104h1v1h-1zM90 104h1v1h-1zM90 105h1v1h-1zM99 105h1v1h-1zM80 106h2v1h-2zM86 106h1v1h-1zM89 106h1v1h-1zM91 106h1v1h-1zM102 106h1v1h-1zM40 107h1v1h-1zM74 107h2v1h-2zM95 107h2v1h-2zM98 107h1v1h-1zM103 107h1v1h-1zM107 107h2v1h-2zM30 108h1v1h-1zM55 108h1v1h-1zM62 108h1v1h-1zM73 108h1v1h-1zM82 108h1v1h-1zM110 108h1v1h-1zM41 109h1v1h-1zM48 109h1v1h-1zM74 109h1v1h-1zM80 109h2v1h-2zM86 109h1v1h-1zM89 109h1v1h-1zM94 109h1v1h-1zM98 109h1v1h-1zM100 109h1v1h-1zM102 109h1v1h-1zM60 110h1v1h-1zM88 110h1v1h-1zM90 110h1v1h-1zM95 110h1v1h-1zM107 110h1v1h-1zM111 110h1v1h-1zM36 111h1v1h-1zM41 111h1v1h-1zM61 111h1v1h-1zM74 111h2v1h-2zM81 111h1v1h-1zM91 111h1v1h-1zM108 111h1v1h-1z"/><path fill="#c4c4ff" d="M2 0h1v1h-1zM23 0h1v1h-1zM26 0h1v1h-1zM41 0h1v1h-1zM46 0h1v1h-1zM68 0h1v1h-1zM90 0h1v1h-1zM95 0h1v1h-1zM98 0h1v1h-1zM103 0h1v1h-1zM0 1h1v1h-1zM2 1h1v1h-1zM4 1h1v1h-1zM27 1h2v1h-2zM36 1h1v1h-1zM39 1h1v1h-1zM45 1h1v1h-1zM89 1h1v1h-1zM91 1h1v1h-1zM94 1h1v1h-1zM102 1h1v1h-1zM45 2h1v1h-1zM1 3h1v1h-1zM6 3h1v1h-1zM15 3h2v1h-2zM35 3h1v1h-1zM37 3h1v1h-1zM51 3h1v1h-1zM54 3h1v1h-1zM56 3h3v1h-3zM83 3h1v1h-1zM85 3h1v1h-1zM93 3h1v1h-1zM104 3h1v1h-1zM16 4h1v1h-1zM51 4h1v1h-1zM54 4h1v1h-1zM58 4h1v1h-1zM85 4h1v1h-1zM88 4h1v1h-1zM91 4h1v1h-1zM99 4h1v1h-1zM104 4h1v1h-1zM39 5h1v1h-1zM39 6h1v1h-1zM2 7h1v1h-1zM5 7h1v1h-1zM17 7h2v1h-2zM74 7h2v1h-2zM88 7h1v1h-1zM95 7h1v1h-1zM107 7h2v1h-2zM32 8h1v1h-1zM37 8h1v1h-1zM58 8h1v1h-1zM67 8h1v1h-1zM76 8h1v1h-1zM78 8h1v1h-1zM83 8h1v1h-1zM101 8h1v1h-1zM111 8h1v1h-1zM4 9h1v1h-1zM14 9h2v1h-2zM28 9h1v1h-1zM30 9h1v1h-1zM35 9h1v1h-1zM55 9h1v1h-1zM63 9h1v1h-1zM93 9h2v1h-2zM110 9h1v1h-1zM32 10h1v1h-1zM40 10h1v1h-1zM51 10h1v1h-1zM53 10h1v1h-1zM58 10h1v1h-1zM60 10h1v1h-1zM67 10h1v1h-1zM70 10h3v1h-3zM88 10h1v1h-1zM103 10h1v1h-1zM4 11h1v1h-1zM7 11h1v1h-1zM27 11h2v1h-2zM30 11h1v1h-1zM47 11h1v1h-1zM55 11h3v1h-3zM62 11h1v1h-1zM73 11h1v1h-1zM93 11h2v1h-2zM3 12h1v1h-1zM18 12h1v1h-1zM39 12h1v1h-1zM48 12h1v1h-1zM51 12h1v1h-1zM53 12h1v1h-1zM70 12h3v1h-3zM91 12h1v1h-1zM95 12h1v1h-1zM107 12h1v1h-1zM14 13h1v1h-1zM30 13h1v1h-1zM32 13h1v1h-1zM40 13h1v1h-1zM46 13h2v1h-2zM54 13h1v1h-1zM56 13h3v1h-3zM73 13h1v1h-1zM93 13h1v1h-1zM111 13h1v1h-1zM45 14h1v1h-1zM3 15h1v1h-1zM25 15h1v1h-1zM37 15h1v1h-1zM51 15h1v1h-1zM54 15h1v1h-1zM67 15h1v1h-1zM3 16h1v1h-1zM25 16h1v1h-1zM37 16h1v1h-1zM45 16h1v1h-1zM51 16h1v1h-1zM54 16h1v1h-1zM99 16h1v1h-1zM104 16h1v1h-1zM111 16h1v1h-1zM1 17h1v1h-1zM4 17h1v1h-1zM30 17h1v1h-1zM35 17h1v1h-1zM39 17h1v1h-1zM47 17h1v1h-1zM50 17h1v1h-1zM82 17h1v1h-1zM100 17h1v1h-1zM102 17h1v1h-1zM110 17h1v1h-1zM2 18h1v1h-1zM4 18h2v1h-2zM46 18h1v1h-1zM61 18h1v1h-1zM98 18h1v1h-1zM100 18h1v1h-1zM102 18h1v1h-1zM108 18h1v1h-1zM91 19h1v1h-1zM3 20h1v1h-1zM8 20h1v1h-1zM18 20h1v1h-1zM29 20h3v1h-3zM35 20h1v1h-1zM47 20h1v1h-1zM59 20h1v1h-1zM62 20h2v1h-2zM66 20h1v1h-1zM73 20h1v1h-1zM82 20h1v1h-1zM92 20h1v1h-1zM99 20h1v1h-1zM107 20h1v1h-1zM110 20h1v1h-1zM3 21h1v1h-1zM9 21h1v1h-1zM37 21h1v1h-1zM45 21h1v1h-1zM54 21h1v1h-1zM67 21h1v1h-1zM111 21h1v1h-1zM1 22h1v1h-1zM6 22h4v1h-4zM20 22h1v1h-1zM25 22h1v1h-1zM47 22h1v1h-1zM67 22h1v1h-1zM82 22h2v1h-2zM110 22h1v1h-1zM25 23h1v1h-1zM37 23h1v1h-1zM39 23h1v1h-1zM52 23h1v1h-1zM67 23h2v1h-2zM83 23h1v1h-1zM101 23h1v1h-1zM104 23h1v1h-1zM107 23h1v1h-1zM2 24h2v1h-2zM17 24h1v1h-1zM6 25h3v1h-3zM22 25h1v1h-1zM26 25h3v1h-3zM47 25h2v1h-2zM59 25h1v1h-1zM61 25h1v1h-1zM63 25h1v1h-1zM2 26h2v1h-2zM17 26h1v1h-1zM107 26h2v1h-2zM3 27h1v1h-1zM41 27h1v1h-1zM0 28h1v1h-1zM3 28h1v1h-1zM17 28h2v1h-2zM21 28h1v1h-1zM75 28h1v1h-1zM88 28h2v1h-2zM103 28h1v1h-1zM108 28h1v1h-1zM0 29h1v1h-1zM5 29h1v1h-1zM17 29h1v1h-1zM19 29h1v1h-1zM27 29h2v1h-2zM46 29h1v1h-1zM61 29h1v1h-1zM89 29h1v1h-1zM91 29h1v1h-1zM94 29h1v1h-1zM1 30h1v1h-1zM4 30h1v1h-1zM14 30h2v1h-2zM26 30h2v1h-2zM35 30h1v1h-1zM47 30h1v1h-1zM59 30h1v1h-1zM61 30h2v1h-2zM1 31h1v1h-1zM4 31h1v1h-1zM14 31h1v1h-1zM22 31h1v1h-1zM26 31h3v1h-3zM30 31h1v1h-1zM41 31h1v1h-1zM48 31h1v1h-1zM50 31h1v1h-1zM3 32h1v1h-1zM26 32h1v1h-1zM41 32h1v1h-1zM46 32h1v1h-1zM0 33h1v1h-1zM3 33h1v1h-1zM60 33h1v1h-1zM103 33h1v1h-1zM0 34h1v1h-1zM2 34h2v1h-2zM21 34h1v1h-1zM60 34h1v1h-1zM0 35h1v1h-1zM2 35h2v1h-2zM60 35h1v1h-1zM103 35h1v1h-1zM1 36h1v1h-1zM7 36h1v1h-1zM25 36h1v1h-1zM30 36h1v1h-1zM35 36h1v1h-1zM37 36h1v1h-1zM40 36h1v1h-1zM46 36h2v1h-2zM51 36h1v1h-1zM59 36h1v1h-1zM63 36h1v1h-1zM83 36h1v1h-1zM104 36h1v1h-1zM1 37h1v1h-1zM15 37h2v1h-2zM20 37h1v1h-1zM25 37h1v1h-1zM35 37h1v1h-1zM37 37h1v1h-1zM46 37h2v1h-2zM50 37h2v1h-2zM59 37h1v1h-1zM62 37h2v1h-2zM67 37h1v1h-1zM104 37h1v1h-1zM0 38h1v1h-1zM4 38h2v1h-2zM28 38h1v1h-1zM39 38h1v1h-1zM61 38h1v1h-1zM91 38h1v1h-1zM98 38h1v1h-1zM100 38h1v1h-1zM3 39h1v1h-1zM99 39h1v1h-1zM101 39h1v1h-1zM3 40h1v1h-1zM99 40h1v1h-1zM101 40h1v1h-1zM3 41h1v1h-1zM41 41h1v1h-1zM46 41h1v1h-1zM99 41h1v1h-1zM101 41h1v1h-1zM41 42h1v1h-1zM46 42h1v1h-1zM41 43h1v1h-1zM88 43h1v1h-1zM111 43h1v1h-1zM60 44h1v1h-1zM74 44h1v1h-1zM88 44h3v1h-3zM96 44h1v1h-1zM101 44h1v1h-1zM103 44h1v1h-1zM44 45h1v1h-1zM91 45h1v1h-1zM45 46h1v1h-1zM38 47h2v1h-2zM0 48h1v1h-1zM5 48h1v1h-1zM17 48h1v1h-1zM19 48h1v1h-1zM27 48h1v1h-1zM38 48h2v1h-2zM74 48h2v1h-2zM86 48h1v1h-1zM91 48h1v1h-1zM102 48h1v1h-1zM0 49h1v1h-1zM17 49h1v1h-1zM38 49h2v1h-2zM45 49h2v1h-2zM74 49h1v1h-1zM81 49h1v1h-1zM91 49h1v1h-1zM100 49h1v1h-1zM20 50h1v1h-1zM30 50h1v1h-1zM73 50h1v1h-1zM81 50h2v1h-2zM86 50h1v1h-1zM93 50h1v1h-1zM12 51h1v1h-1zM25 51h1v1h-1zM32 51h1v1h-1zM37 51h1v1h-1zM45 51h1v1h-1zM51 51h1v1h-1zM67 51h1v1h-1zM76 51h3v1h-3zM101 51h1v1h-1zM0 52h1v1h-1zM5 52h1v1h-1zM17 52h1v1h-1zM45 52h1v1h-1zM74 52h2v1h-2zM81 52h1v1h-1zM86 52h1v1h-1zM91 52h1v1h-1zM0 53h1v1h-1zM17 53h2v1h-2zM98 53h1v1h-1zM101 53h1v1h-1zM103 53h1v1h-1zM107 53h2v1h-2zM0 54h1v1h-1zM17 54h1v1h-1zM27 54h2v1h-2zM36 54h1v1h-1zM38 54h1v1h-1zM45 54h1v1h-1zM98 54h1v1h-1zM100 54h1v1h-1zM108 54h1v1h-1zM0 55h1v1h-1zM17 55h1v1h-1zM27 55h2v1h-2zM36 55h1v1h-1zM38 55h2v1h-2zM45 55h2v1h-2zM98 55h1v1h-1zM100 55h1v1h-1zM108 55h1v1h-1zM0 56h1v1h-1zM17 56h1v1h-1zM27 56h2v1h-2zM100 56h1v1h-1zM102 56h1v1h-1zM0 57h1v1h-1zM18 57h1v1h-1zM90 57h1v1h-1zM95 57h2v1h-2zM98 57h1v1h-1zM107 57h2v1h-2zM26 58h1v1h-1zM99 58h1v1h-1zM101 58h1v1h-1zM51 59h1v1h-1zM88 59h1v1h-1zM3 60h1v1h-1zM23 60h1v1h-1zM52 60h1v1h-1zM60 60h1v1h-1zM74 60h2v1h-2zM95 60h2v1h-2zM99 60h1v1h-1zM101 60h1v1h-1zM107 60h2v1h-2zM5 61h1v1h-1zM28 61h1v1h-1zM74 61h1v1h-1zM80 61h1v1h-1zM94 61h1v1h-1zM80 63h1v1h-1zM86 63h1v1h-1zM99 63h1v1h-1zM0 64h1v1h-1zM2 64h1v1h-1zM17 64h1v1h-1zM27 64h2v1h-2zM36 64h1v1h-1zM45 64h1v1h-1zM74 64h2v1h-2zM81 64h1v1h-1zM86 64h1v1h-1zM89 64h1v1h-1zM91 64h1v1h-1zM94 64h1v1h-1zM98 64h1v1h-1zM100 64h1v1h-1zM56 65h1v1h-1zM62 65h1v1h-1zM69 65h2v1h-2zM74 65h2v1h-2zM79 65h1v1h-1zM82 65h1v1h-1zM93 65h1v1h-1zM98 65h1v1h-1zM111 65h1v1h-1zM20 66h2v1h-2zM33 66h1v1h-1zM38 66h1v1h-1zM47 66h1v1h-1zM56 66h2v1h-2zM59 66h2v1h-2zM62 66h1v1h-1zM65 66h1v1h-1zM90 66h1v1h-1zM95 66h1v1h-1zM97 66h1v1h-1zM109 66h2v1h-2zM31 67h1v1h-1zM33 67h1v1h-1zM41 67h2v1h-2zM66 67h1v1h-1zM44 69h1v1h-1zM44 70h1v1h-1zM68 70h3v1h-3zM79 70h2v1h-2zM84 70h1v1h-1zM111 70h1v1h-1zM30 71h1v1h-1zM35 71h1v1h-1zM75 71h1v1h-1zM98 71h1v1h-1zM101 71h1v1h-1zM30 72h1v1h-1zM56 72h1v1h-1zM62 72h3v1h-3zM73 72h1v1h-1zM88 72h1v1h-1zM94 72h1v1h-1zM99 72h1v1h-1zM105 72h2v1h-2zM110 72h1v1h-1zM45 73h1v1h-1zM56 73h2v1h-2zM62 73h3v1h-3zM0 74h1v1h-1zM2 74h1v1h-1zM17 74h1v1h-1zM19 74h1v1h-1zM60 74h1v1h-1zM74 74h2v1h-2zM88 74h1v1h-1zM90 74h1v1h-1zM95 74h2v1h-2zM103 74h1v1h-1zM108 74h1v1h-1zM1 75h1v1h-1zM14 75h1v1h-1zM22 75h1v1h-1zM27 75h2v1h-2zM47 75h1v1h-1zM56 75h2v1h-2zM110 75h1v1h-1zM27 76h2v1h-2zM40 76h1v1h-1zM74 76h2v1h-2zM81 76h1v1h-1zM91 76h1v1h-1zM94 76h1v1h-1zM102 76h1v1h-1zM108 76h1v1h-1zM44 78h2v1h-2zM0 79h1v1h-1zM3 79h1v1h-1zM17 79h1v1h-1zM60 79h1v1h-1zM98 79h1v1h-1zM101 79h1v1h-1zM103 79h1v1h-1zM44 80h1v1h-1zM91 80h1v1h-1zM4 81h2v1h-2zM39 81h2v1h-2zM61 81h1v1h-1zM75 81h1v1h-1zM80 81h1v1h-1zM91 81h1v1h-1zM94 81h1v1h-1zM98 81h1v1h-1zM100 81h1v1h-1zM102 81h1v1h-1zM91 82h1v1h-1zM35 83h2v1h-2zM47 83h1v1h-1zM50 83h1v1h-1zM55 83h3v1h-3zM73 83h1v1h-1zM80 83h1v1h-1zM82 83h1v1h-1zM86 83h1v1h-1zM100 83h1v1h-1zM102 83h1v1h-1zM110 83h1v1h-1zM35 84h2v1h-2zM47 84h1v1h-1zM55 84h3v1h-3zM63 84h1v1h-1zM80 84h3v1h-3zM86 84h1v1h-1zM100 84h1v1h-1zM110 84h1v1h-1zM53 85h1v1h-1zM79 85h3v1h-3zM86 85h1v1h-1zM111 85h1v1h-1zM60 86h1v1h-1zM74 86h2v1h-2zM88 86h2v1h-2zM95 86h2v1h-2zM51 88h1v1h-1zM111 88h1v1h-1zM36 89h1v1h-1zM80 89h1v1h-1zM86 89h1v1h-1zM45 90h1v1h-1zM77 90h1v1h-1zM83 90h1v1h-1zM45 91h1v1h-1zM61 91h1v1h-1zM74 91h1v1h-1zM89 91h1v1h-1zM37 92h1v1h-1zM63 92h1v1h-1zM82 92h1v1h-1zM54 93h1v1h-1zM58 93h1v1h-1zM83 93h1v1h-1zM91 93h1v1h-1zM99 93h1v1h-1zM104 93h1v1h-1zM32 94h1v1h-1zM37 94h1v1h-1zM47 94h1v1h-1zM55 94h5v1h-5zM62 94h2v1h-2zM82 94h2v1h-2zM85 94h1v1h-1zM87 94h1v1h-1zM104 94h1v1h-1zM74 95h1v1h-1zM107 95h2v1h-2zM74 96h1v1h-1zM81 96h1v1h-1zM102 96h1v1h-1zM108 96h1v1h-1zM36 97h1v1h-1zM80 97h2v1h-2zM98 97h1v1h-1zM102 97h1v1h-1zM60 99h1v1h-1zM89 102h2v1h-2zM86 103h1v1h-1zM89 103h1v1h-1zM91 103h1v1h-1zM75 104h1v1h-1zM86 104h1v1h-1zM89 104h1v1h-1zM100 104h1v1h-1zM86 105h1v1h-1zM89 105h1v1h-1zM108 105h1v1h-1zM30 106h1v1h-1zM50 106h1v1h-1zM59 106h1v1h-1zM63 106h1v1h-1zM73 106h1v1h-1zM82 106h1v1h-1zM93 106h1v1h-1zM104 106h1v1h-1zM30 107h1v1h-1zM73 107h1v1h-1zM80 107h2v1h-2zM93 107h2v1h-2zM100 107h1v1h-1zM102 107h1v1h-1zM110 107h1v1h-1zM32 108h1v1h-1zM51 108h1v1h-1zM70 108h3v1h-3zM76 108h4v1h-4zM83 108h3v1h-3zM87 108h1v1h-1zM90 108h2v1h-2zM95 108h2v1h-2zM99 108h1v1h-1zM37 109h1v1h-1zM47 109h1v1h-1zM76 109h2v1h-2zM85 109h1v1h-1zM87 109h1v1h-1zM93 109h1v1h-1zM104 109h1v1h-1zM110 109h2v1h-2zM36 110h1v1h-1zM74 110h2v1h-2zM80 110h2v1h-2zM89 110h1v1h-1zM94 110h1v1h-1zM108 110h1v1h-1zM32 111h1v1h-1zM37 111h1v1h-1zM47 111h1v1h-1zM54 111h6v1h-6zM62 111h2v1h-2zM73 111h1v1h-1zM76 111h3v1h-3zM82 111h2v1h-2zM110 111h1v1h-1z"/><path fill="#ffebeb" d="M4 0h1v1h-1zM28 0h1v1h-1zM102 0h1v1h-1zM29 2h1v1h-1zM31 2h1v1h-1zM33 2h2v1h-2zM42 2h2v1h-2zM46 2h1v1h-1zM49 2h1v1h-1zM64 2h3v1h-3zM21 3h1v1h-1zM23 3h1v1h-1zM40 3h1v1h-1zM103 3h1v1h-1zM0 4h1v1h-1zM2 4h1v1h-1zM17 4h1v1h-1zM22 4h1v1h-1zM24 4h1v1h-1zM45 4h1v1h-1zM52 4h1v1h-1zM89 4h1v1h-1zM96 4h1v1h-1zM103 4h1v1h-1zM9 5h5v1h-5zM16 5h1v1h-1zM25 5h1v1h-1zM29 5h1v1h-1zM31 5h4v1h-4zM37 5h1v1h-1zM42 5h2v1h-2zM49 5h1v1h-1zM51 5h1v1h-1zM53 5h2v1h-2zM58 5h1v1h-1zM64 5h6v1h-6zM83 5h1v1h-1zM9 6h5v1h-5zM16 6h1v1h-1zM25 6h1v1h-1zM29 6h1v1h-1zM31 6h4v1h-4zM37 6h1v1h-1zM42 6h2v1h-2zM49 6h1v1h-1zM51 6h1v1h-1zM53 6h2v1h-2zM58 6h1v1h-1zM64 6h6v1h-6zM83 6h1v1h-1zM46 7h1v1h-1zM48 7h1v1h-1zM64 7h1v1h-1zM2 8h1v1h-1zM5 8h1v1h-1zM18 8h1v1h-1zM21 8h1v1h-1zM23 8h1v1h-1zM45 8h2v1h-2zM48 8h1v1h-1zM52 8h1v1h-1zM74 8h2v1h-2zM107 8h2v1h-2zM44 9h1v1h-1zM88 9h1v1h-1zM111 9h1v1h-1zM4 10h1v1h-1zM17 10h1v1h-1zM28 10h1v1h-1zM41 10h1v1h-1zM89 10h1v1h-1zM94 10h1v1h-1zM39 11h1v1h-1zM44 11h1v1h-1zM4 12h1v1h-1zM19 12h1v1h-1zM26 12h3v1h-3zM61 12h1v1h-1zM44 13h2v1h-2zM60 13h1v1h-1zM29 14h1v1h-1zM31 14h1v1h-1zM33 14h2v1h-2zM42 14h2v1h-2zM46 14h1v1h-1zM49 14h1v1h-1zM64 14h3v1h-3zM18 15h1v1h-1zM38 15h1v1h-1zM45 15h2v1h-2zM107 15h1v1h-1zM17 16h3v1h-3zM21 16h1v1h-1zM23 16h1v1h-1zM38 16h1v1h-1zM46 16h1v1h-1zM52 16h1v1h-1zM3 17h1v1h-1zM38 17h1v1h-1zM44 17h1v1h-1zM101 17h1v1h-1zM26 18h1v1h-1zM41 18h1v1h-1zM29 19h1v1h-1zM31 19h1v1h-1zM33 19h2v1h-2zM43 19h1v1h-1zM49 19h1v1h-1zM64 19h3v1h-3zM9 20h1v1h-1zM25 20h1v1h-1zM37 20h1v1h-1zM39 20h3v1h-3zM51 20h1v1h-1zM60 20h1v1h-1zM83 20h1v1h-1zM2 21h1v1h-1zM5 21h1v1h-1zM17 21h1v1h-1zM21 21h1v1h-1zM38 21h1v1h-1zM52 21h1v1h-1zM60 21h1v1h-1zM40 22h1v1h-1zM45 22h1v1h-1zM52 22h1v1h-1zM101 22h1v1h-1zM107 22h1v1h-1zM2 23h1v1h-1zM4 23h2v1h-2zM17 23h1v1h-1zM26 23h3v1h-3zM36 23h1v1h-1zM40 23h2v1h-2zM102 23h1v1h-1zM22 24h1v1h-1zM45 24h2v1h-2zM48 24h1v1h-1zM39 25h1v1h-1zM22 26h1v1h-1zM48 26h1v1h-1zM39 27h1v1h-1zM45 28h1v1h-1zM91 28h1v1h-1zM105 28h2v1h-2zM26 29h1v1h-1zM48 29h1v1h-1zM46 30h1v1h-1zM34 32h1v1h-1zM39 32h1v1h-1zM44 32h1v1h-1zM34 33h1v1h-1zM45 33h2v1h-2zM34 34h1v1h-1zM45 34h2v1h-2zM48 34h1v1h-1zM22 35h1v1h-1zM34 35h1v1h-1zM45 35h2v1h-2zM48 35h1v1h-1zM18 36h1v1h-1zM39 36h1v1h-1zM44 36h2v1h-2zM52 36h1v1h-1zM60 36h1v1h-1zM103 36h1v1h-1zM3 37h1v1h-1zM18 37h1v1h-1zM39 37h1v1h-1zM103 37h1v1h-1zM22 38h1v1h-1zM26 38h1v1h-1zM40 38h2v1h-2zM48 38h1v1h-1zM34 39h1v1h-1zM39 39h1v1h-1zM44 39h1v1h-1zM34 40h1v1h-1zM38 40h1v1h-1zM34 41h1v1h-1zM44 41h1v1h-1zM34 42h1v1h-1zM39 42h1v1h-1zM44 42h1v1h-1zM105 42h2v1h-2zM34 43h1v1h-1zM44 43h1v1h-1zM105 43h2v1h-2zM34 44h1v1h-1zM45 44h2v1h-2zM105 44h2v1h-2zM29 45h1v1h-1zM31 45h1v1h-1zM33 45h2v1h-2zM42 45h2v1h-2zM46 45h1v1h-1zM49 45h1v1h-1zM92 45h1v1h-1zM97 45h1v1h-1zM105 45h2v1h-2zM109 45h1v1h-1zM29 46h1v1h-1zM31 46h1v1h-1zM33 46h2v1h-2zM42 46h2v1h-2zM46 46h1v1h-1zM49 46h1v1h-1zM92 46h1v1h-1zM97 46h1v1h-1zM105 46h2v1h-2zM109 46h1v1h-1zM9 47h5v1h-5zM16 47h1v1h-1zM29 47h1v1h-1zM31 47h4v1h-4zM37 47h1v1h-1zM42 47h2v1h-2zM49 47h1v1h-1zM51 47h1v1h-1zM92 47h1v1h-1zM97 47h1v1h-1zM104 47h3v1h-3zM109 47h1v1h-1zM26 48h1v1h-1zM48 48h1v1h-1zM26 49h1v1h-1zM38 50h1v1h-1zM99 50h1v1h-1zM38 51h1v1h-1zM48 51h1v1h-1zM75 51h1v1h-1zM90 51h2v1h-2zM98 51h1v1h-1zM26 52h1v1h-1zM40 52h2v1h-2zM34 53h1v1h-1zM105 53h2v1h-2zM40 54h2v1h-2zM22 55h1v1h-1zM22 56h1v1h-1zM41 56h1v1h-1zM34 57h1v1h-1zM48 57h1v1h-1zM105 57h2v1h-2zM34 58h1v1h-1zM38 58h1v1h-1zM44 58h1v1h-1zM105 58h2v1h-2zM2 59h1v1h-1zM5 59h1v1h-1zM18 59h1v1h-1zM45 59h1v1h-1zM75 59h1v1h-1zM89 59h2v1h-2zM95 59h1v1h-1zM103 59h1v1h-1zM107 59h1v1h-1zM34 60h1v1h-1zM64 60h1v1h-1zM91 60h1v1h-1zM105 60h2v1h-2zM26 61h1v1h-1zM29 62h1v1h-1zM31 62h1v1h-1zM33 62h2v1h-2zM42 62h2v1h-2zM46 62h1v1h-1zM64 62h3v1h-3zM92 62h1v1h-1zM97 62h1v1h-1zM105 62h2v1h-2zM109 62h1v1h-1zM6 63h1v1h-1zM13 63h1v1h-1zM21 63h1v1h-1zM26 63h1v1h-1zM30 63h1v1h-1zM32 63h1v1h-1zM54 63h1v1h-1zM60 63h1v1h-1zM63 63h1v1h-1zM73 63h1v1h-1zM76 63h2v1h-2zM82 63h1v1h-1zM85 63h1v1h-1zM87 63h1v1h-1zM103 63h2v1h-2zM40 64h2v1h-2zM29 65h1v1h-1zM31 65h3v1h-3zM49 65h1v1h-1zM65 65h3v1h-3zM76 65h3v1h-3zM81 65h1v1h-1zM87 65h1v1h-1zM95 65h3v1h-3zM103 65h2v1h-2zM109 65h1v1h-1zM2 66h1v1h-1zM17 66h2v1h-2zM23 66h2v1h-2zM52 66h1v1h-1zM67 66h1v1h-1zM75 66h4v1h-4zM83 66h1v1h-1zM87 66h1v1h-1zM89 66h1v1h-1zM96 66h1v1h-1zM98 66h1v1h-1zM103 66h1v1h-1zM107 66h1v1h-1zM5 67h1v1h-1zM17 67h1v1h-1zM53 67h1v1h-1zM68 67h3v1h-3zM72 67h1v1h-1zM75 67h1v1h-1zM79 67h1v1h-1zM94 67h1v1h-1zM98 67h1v1h-1zM100 67h1v1h-1zM102 67h1v1h-1zM29 68h1v1h-1zM31 68h1v1h-1zM33 68h2v1h-2zM42 68h1v1h-1zM49 68h1v1h-1zM64 68h3v1h-3zM92 68h1v1h-1zM97 68h1v1h-1zM105 68h2v1h-2zM109 68h1v1h-1zM29 69h1v1h-1zM31 69h1v1h-1zM33 69h2v1h-2zM43 69h1v1h-1zM49 69h1v1h-1zM64 69h3v1h-3zM97 69h1v1h-1zM105 69h2v1h-2zM109 69h1v1h-1zM1 70h1v1h-1zM3 70h1v1h-1zM15 70h1v1h-1zM20 70h1v1h-1zM35 70h1v1h-1zM38 70h1v1h-1zM47 70h1v1h-1zM55 70h1v1h-1zM57 70h1v1h-1zM59 70h1v1h-1zM73 70h1v1h-1zM88 70h1v1h-1zM91 70h1v1h-1zM93 70h1v1h-1zM101 70h1v1h-1zM47 71h1v1h-1zM57 71h1v1h-1zM59 71h1v1h-1zM73 71h1v1h-1zM88 71h2v1h-2zM91 71h1v1h-1zM108 71h1v1h-1zM69 72h1v1h-1zM72 72h1v1h-1zM74 72h2v1h-2zM79 72h1v1h-1zM84 72h1v1h-1zM86 72h1v1h-1zM91 72h1v1h-1zM100 72h1v1h-1zM21 73h1v1h-1zM41 73h1v1h-1zM53 73h1v1h-1zM60 73h2v1h-2zM71 73h1v1h-1zM90 73h1v1h-1zM94 73h3v1h-3zM22 74h1v1h-1zM64 74h1v1h-1zM91 74h1v1h-1zM105 74h2v1h-2zM3 75h1v1h-1zM88 75h1v1h-1zM22 76h1v1h-1zM41 76h1v1h-1zM9 77h5v1h-5zM16 77h1v1h-1zM25 77h1v1h-1zM29 77h1v1h-1zM42 77h2v1h-2zM49 77h1v1h-1zM51 77h1v1h-1zM53 77h2v1h-2zM58 77h1v1h-1zM64 77h9v1h-9zM76 77h4v1h-4zM92 77h1v1h-1zM97 77h1v1h-1zM105 77h2v1h-2zM109 77h1v1h-1zM29 78h1v1h-1zM42 78h2v1h-2zM46 78h1v1h-1zM49 78h1v1h-1zM64 78h3v1h-3zM92 78h1v1h-1zM97 78h1v1h-1zM105 78h2v1h-2zM109 78h1v1h-1zM22 79h1v1h-1zM46 79h1v1h-1zM48 79h1v1h-1zM64 79h1v1h-1zM105 79h2v1h-2zM42 80h2v1h-2zM46 80h1v1h-1zM49 80h1v1h-1zM64 80h3v1h-3zM92 80h1v1h-1zM97 80h1v1h-1zM105 80h2v1h-2zM109 80h1v1h-1zM48 81h1v1h-1zM33 82h2v1h-2zM42 82h2v1h-2zM46 82h1v1h-1zM49 82h1v1h-1zM64 82h3v1h-3zM92 82h1v1h-1zM97 82h1v1h-1zM105 82h2v1h-2zM109 82h1v1h-1zM88 83h1v1h-1zM99 83h1v1h-1zM101 83h1v1h-1zM111 83h1v1h-1zM88 84h1v1h-1zM99 84h1v1h-1zM48 85h1v1h-1zM50 85h1v1h-1zM59 85h1v1h-1zM62 85h2v1h-2zM73 85h1v1h-1zM82 85h1v1h-1zM88 85h1v1h-1zM93 85h1v1h-1zM99 85h1v1h-1zM34 86h1v1h-1zM91 86h1v1h-1zM105 86h2v1h-2zM45 87h1v1h-1zM107 87h1v1h-1zM45 88h1v1h-1zM95 88h1v1h-1zM103 88h1v1h-1zM108 88h1v1h-1zM32 89h1v1h-1zM35 89h1v1h-1zM37 89h1v1h-1zM55 89h2v1h-2zM73 89h1v1h-1zM76 89h1v1h-1zM85 89h1v1h-1zM87 89h1v1h-1zM107 89h1v1h-1zM38 90h1v1h-1zM48 90h1v1h-1zM90 90h1v1h-1zM95 90h1v1h-1zM103 90h1v1h-1zM108 90h1v1h-1zM41 91h1v1h-1zM95 92h1v1h-1zM99 92h1v1h-1zM45 93h1v1h-1zM52 93h1v1h-1zM74 93h2v1h-2zM95 93h2v1h-2zM103 93h1v1h-1zM44 94h2v1h-2zM88 94h1v1h-1zM90 94h1v1h-1zM95 94h1v1h-1zM101 94h1v1h-1zM107 94h1v1h-1zM34 95h1v1h-1zM64 95h1v1h-1zM105 95h2v1h-2zM41 96h1v1h-1zM34 98h1v1h-1zM48 98h1v1h-1zM64 98h1v1h-1zM105 98h2v1h-2zM34 99h1v1h-1zM64 99h1v1h-1zM105 99h2v1h-2zM34 100h1v1h-1zM64 100h1v1h-1zM105 100h2v1h-2zM34 101h1v1h-1zM64 101h1v1h-1zM105 101h2v1h-2zM34 102h1v1h-1zM64 102h1v1h-1zM91 102h1v1h-1zM105 102h2v1h-2zM48 105h1v1h-1zM44 106h1v1h-1zM52 106h1v1h-1zM88 106h1v1h-1zM90 106h1v1h-1zM103 106h1v1h-1zM88 107h1v1h-1zM99 107h1v1h-1zM101 107h1v1h-1zM111 107h1v1h-1zM36 108h1v1h-1zM41 108h1v1h-1zM74 108h1v1h-1zM94 108h1v1h-1zM45 109h1v1h-1zM52 109h1v1h-1zM88 109h1v1h-1zM90 109h1v1h-1zM103 109h1v1h-1zM107 109h1v1h-1zM41 110h1v1h-1zM107 111h1v1h-1z"/><path fill="#ff9d9d" d="M5 0h12v1h-12zM19 0h1v1h-1zM22 0h1v1h-1zM29 0h5v1h-5zM49 0h3v1h-3zM5 1h4v1h-4zM14 1h2v1h-2zM17 1h6v1h-6zM24 1h1v1h-1zM30 1h1v1h-1zM38 1h1v1h-1zM50 1h1v1h-1zM59 1h5v1h-5zM22 2h1v1h-1zM44 2h1v1h-1zM5 3h1v1h-1zM7 3h7v1h-7zM17 3h4v1h-4zM24 3h2v1h-2zM30 3h1v1h-1zM32 3h1v1h-1zM44 3h1v1h-1zM52 3h1v1h-1zM59 3h5v1h-5zM67 3h3v1h-3zM5 4h9v1h-9zM18 4h4v1h-4zM25 4h1v1h-1zM32 4h1v1h-1zM38 4h1v1h-1zM44 4h1v1h-1zM46 4h1v1h-1zM48 4h1v1h-1zM59 4h4v1h-4zM67 4h3v1h-3zM83 4h1v1h-1zM44 5h1v1h-1zM46 5h1v1h-1zM44 6h1v1h-1zM46 6h1v1h-1zM19 7h1v1h-1zM21 7h1v1h-1zM23 7h2v1h-2zM27 7h2v1h-2zM45 7h1v1h-1zM52 7h1v1h-1zM61 7h1v1h-1zM6 8h11v1h-11zM19 8h2v1h-2zM22 8h1v1h-1zM24 8h2v1h-2zM27 8h2v1h-2zM38 8h1v1h-1zM50 8h2v1h-2zM53 8h2v1h-2zM68 8h2v1h-2zM6 9h4v1h-4zM12 9h2v1h-2zM18 9h1v1h-1zM20 9h1v1h-1zM25 9h1v1h-1zM27 9h1v1h-1zM47 9h1v1h-1zM51 9h2v1h-2zM54 9h1v1h-1zM56 9h4v1h-4zM61 9h2v1h-2zM67 9h1v1h-1zM5 10h12v1h-12zM19 10h2v1h-2zM22 10h1v1h-1zM25 10h2v1h-2zM38 10h1v1h-1zM48 10h1v1h-1zM50 10h1v1h-1zM59 10h1v1h-1zM61 10h3v1h-3zM68 10h2v1h-2zM5 11h2v1h-2zM8 11h2v1h-2zM12 11h5v1h-5zM19 11h3v1h-3zM23 11h3v1h-3zM46 11h1v1h-1zM50 11h1v1h-1zM59 11h1v1h-1zM61 11h1v1h-1zM63 11h1v1h-1zM67 11h1v1h-1zM5 12h1v1h-1zM7 12h8v1h-8zM16 12h1v1h-1zM20 12h1v1h-1zM22 12h1v1h-1zM25 12h1v1h-1zM38 12h1v1h-1zM40 12h1v1h-1zM44 12h1v1h-1zM67 12h3v1h-3zM5 13h9v1h-9zM15 13h2v1h-2zM18 13h3v1h-3zM23 13h3v1h-3zM48 13h1v1h-1zM50 13h3v1h-3zM59 13h1v1h-1zM62 13h2v1h-2zM68 13h2v1h-2zM22 14h1v1h-1zM44 14h1v1h-1zM5 15h10v1h-10zM16 15h1v1h-1zM19 15h6v1h-6zM26 15h3v1h-3zM48 15h1v1h-1zM50 15h1v1h-1zM52 15h1v1h-1zM5 16h9v1h-9zM15 16h2v1h-2zM22 16h1v1h-1zM24 16h1v1h-1zM27 16h1v1h-1zM32 16h1v1h-1zM40 16h1v1h-1zM44 16h1v1h-1zM5 17h5v1h-5zM12 17h5v1h-5zM19 17h3v1h-3zM23 17h2v1h-2zM27 17h2v1h-2zM32 17h1v1h-1zM36 17h2v1h-2zM45 17h2v1h-2zM51 17h2v1h-2zM6 18h2v1h-2zM14 18h2v1h-2zM17 18h8v1h-8zM27 18h2v1h-2zM30 18h1v1h-1zM35 18h2v1h-2zM40 18h1v1h-1zM47 18h2v1h-2zM50 18h1v1h-1zM22 19h1v1h-1zM26 19h1v1h-1zM44 19h2v1h-2zM48 19h1v1h-1zM2 20h1v1h-1zM10 20h4v1h-4zM16 20h2v1h-2zM19 20h1v1h-1zM21 20h4v1h-4zM32 20h2v1h-2zM38 20h1v1h-1zM42 20h2v1h-2zM49 20h1v1h-1zM52 20h1v1h-1zM10 21h7v1h-7zM19 21h2v1h-2zM22 21h4v1h-4zM32 21h1v1h-1zM44 21h1v1h-1zM50 21h2v1h-2zM68 21h2v1h-2zM83 21h1v1h-1zM10 22h7v1h-7zM19 22h1v1h-1zM21 22h4v1h-4zM27 22h2v1h-2zM32 22h1v1h-1zM36 22h2v1h-2zM44 22h1v1h-1zM50 22h2v1h-2zM6 23h11v1h-11zM19 23h1v1h-1zM32 23h1v1h-1zM38 23h1v1h-1zM44 23h1v1h-1zM50 23h2v1h-2zM5 24h1v1h-1zM18 24h2v1h-2zM21 24h1v1h-1zM23 24h2v1h-2zM39 24h1v1h-1zM52 24h1v1h-1zM12 25h5v1h-5zM19 25h2v1h-2zM24 25h1v1h-1zM50 25h3v1h-3zM5 26h1v1h-1zM18 26h2v1h-2zM21 26h1v1h-1zM23 26h2v1h-2zM26 26h3v1h-3zM38 26h1v1h-1zM45 26h2v1h-2zM52 26h1v1h-1zM5 27h1v1h-1zM18 27h2v1h-2zM21 27h1v1h-1zM23 27h2v1h-2zM26 27h1v1h-1zM38 27h1v1h-1zM45 27h1v1h-1zM48 27h1v1h-1zM52 27h1v1h-1zM2 28h1v1h-1zM4 28h2v1h-2zM19 28h1v1h-1zM23 28h2v1h-2zM26 28h3v1h-3zM38 28h2v1h-2zM41 28h1v1h-1zM48 28h1v1h-1zM52 28h1v1h-1zM90 28h1v1h-1zM107 28h1v1h-1zM2 29h1v1h-1zM4 29h1v1h-1zM6 29h3v1h-3zM15 29h1v1h-1zM18 29h1v1h-1zM20 29h1v1h-1zM38 29h1v1h-1zM40 29h2v1h-2zM52 29h1v1h-1zM6 30h4v1h-4zM12 30h2v1h-2zM17 30h2v1h-2zM20 30h1v1h-1zM30 30h1v1h-1zM32 30h1v1h-1zM44 30h2v1h-2zM51 30h2v1h-2zM6 31h4v1h-4zM12 31h2v1h-2zM15 31h2v1h-2zM20 31h1v1h-1zM32 31h1v1h-1zM38 31h2v1h-2zM44 31h1v1h-1zM51 31h2v1h-2zM5 32h1v1h-1zM17 32h3v1h-3zM21 32h4v1h-4zM38 32h1v1h-1zM52 32h1v1h-1zM5 33h1v1h-1zM17 33h3v1h-3zM21 33h4v1h-4zM38 33h1v1h-1zM52 33h1v1h-1zM5 34h1v1h-1zM17 34h3v1h-3zM22 34h3v1h-3zM38 34h2v1h-2zM52 34h1v1h-1zM5 35h1v1h-1zM17 35h3v1h-3zM21 35h1v1h-1zM23 35h2v1h-2zM39 35h1v1h-1zM52 35h1v1h-1zM5 36h2v1h-2zM8 36h10v1h-10zM19 36h3v1h-3zM23 36h2v1h-2zM32 36h1v1h-1zM48 36h1v1h-1zM50 36h1v1h-1zM5 37h10v1h-10zM17 37h1v1h-1zM19 37h1v1h-1zM21 37h4v1h-4zM30 37h1v1h-1zM32 37h1v1h-1zM40 37h1v1h-1zM44 37h1v1h-1zM52 37h1v1h-1zM6 38h3v1h-3zM14 38h1v1h-1zM17 38h5v1h-5zM23 38h2v1h-2zM27 38h1v1h-1zM30 38h1v1h-1zM35 38h2v1h-2zM47 38h1v1h-1zM52 38h1v1h-1zM5 39h1v1h-1zM17 39h3v1h-3zM21 39h4v1h-4zM26 39h1v1h-1zM38 39h1v1h-1zM45 39h1v1h-1zM48 39h1v1h-1zM52 39h1v1h-1zM5 40h1v1h-1zM17 40h3v1h-3zM21 40h1v1h-1zM23 40h2v1h-2zM26 40h1v1h-1zM45 40h1v1h-1zM48 40h1v1h-1zM52 40h1v1h-1zM5 41h1v1h-1zM17 41h3v1h-3zM21 41h4v1h-4zM26 41h1v1h-1zM38 41h1v1h-1zM52 41h1v1h-1zM0 42h1v1h-1zM2 42h2v1h-2zM5 42h1v1h-1zM17 42h3v1h-3zM21 42h4v1h-4zM26 42h1v1h-1zM38 42h1v1h-1zM52 42h1v1h-1zM90 42h1v1h-1zM98 42h2v1h-2zM101 42h1v1h-1zM103 42h1v1h-1zM107 42h2v1h-2zM0 43h1v1h-1zM2 43h2v1h-2zM5 43h1v1h-1zM17 43h3v1h-3zM21 43h4v1h-4zM26 43h1v1h-1zM38 43h1v1h-1zM45 43h1v1h-1zM48 43h1v1h-1zM52 43h1v1h-1zM90 43h1v1h-1zM98 43h2v1h-2zM101 43h1v1h-1zM103 43h1v1h-1zM107 43h2v1h-2zM0 44h1v1h-1zM2 44h4v1h-4zM17 44h3v1h-3zM22 44h3v1h-3zM26 44h1v1h-1zM28 44h1v1h-1zM36 44h1v1h-1zM40 44h1v1h-1zM48 44h1v1h-1zM52 44h1v1h-1zM99 44h2v1h-2zM102 44h1v1h-1zM107 44h2v1h-2zM22 45h1v1h-1zM40 45h2v1h-2zM45 45h1v1h-1zM22 46h1v1h-1zM26 46h1v1h-1zM48 46h1v1h-1zM52 46h1v1h-1zM40 47h1v1h-1zM1 48h4v1h-4zM6 48h3v1h-3zM14 48h2v1h-2zM20 48h2v1h-2zM28 48h1v1h-1zM36 48h1v1h-1zM52 48h1v1h-1zM98 48h1v1h-1zM100 48h2v1h-2zM108 48h1v1h-1zM110 48h1v1h-1zM1 49h2v1h-2zM4 49h3v1h-3zM8 49h1v1h-1zM14 49h2v1h-2zM19 49h2v1h-2zM22 49h1v1h-1zM24 49h1v1h-1zM27 49h2v1h-2zM36 49h1v1h-1zM40 49h1v1h-1zM50 49h1v1h-1zM98 49h1v1h-1zM101 49h2v1h-2zM107 49h2v1h-2zM110 49h1v1h-1zM1 50h9v1h-9zM12 50h5v1h-5zM19 50h1v1h-1zM23 50h2v1h-2zM27 50h2v1h-2zM36 50h2v1h-2zM39 50h1v1h-1zM44 50h1v1h-1zM50 50h1v1h-1zM100 50h3v1h-3zM104 50h1v1h-1zM107 50h2v1h-2zM110 50h1v1h-1zM2 51h1v1h-1zM4 51h8v1h-8zM13 51h4v1h-4zM19 51h6v1h-6zM26 51h3v1h-3zM50 51h1v1h-1zM52 51h1v1h-1zM107 51h2v1h-2zM110 51h1v1h-1zM1 52h4v1h-4zM6 52h3v1h-3zM14 52h2v1h-2zM19 52h6v1h-6zM27 52h2v1h-2zM36 52h1v1h-1zM50 52h1v1h-1zM52 52h1v1h-1zM98 52h1v1h-1zM100 52h3v1h-3zM107 52h2v1h-2zM110 52h1v1h-1zM2 53h4v1h-4zM19 53h1v1h-1zM21 53h4v1h-4zM52 53h1v1h-1zM102 53h1v1h-1zM1 54h8v1h-8zM14 54h2v1h-2zM19 54h6v1h-6zM50 54h1v1h-1zM102 54h1v1h-1zM1 55h8v1h-8zM14 55h2v1h-2zM19 55h3v1h-3zM23 55h2v1h-2zM40 55h1v1h-1zM102 55h1v1h-1zM1 56h2v1h-2zM4 56h5v1h-5zM15 56h1v1h-1zM19 56h1v1h-1zM23 56h2v1h-2zM40 56h1v1h-1zM50 56h1v1h-1zM52 56h1v1h-1zM2 57h4v1h-4zM17 57h1v1h-1zM19 57h1v1h-1zM21 57h4v1h-4zM38 57h1v1h-1zM40 57h2v1h-2zM52 57h1v1h-1zM102 57h2v1h-2zM0 58h1v1h-1zM2 58h2v1h-2zM5 58h1v1h-1zM17 58h3v1h-3zM21 58h4v1h-4zM41 58h1v1h-1zM103 58h1v1h-1zM0 59h2v1h-2zM4 59h1v1h-1zM6 59h1v1h-1zM8 59h10v1h-10zM21 59h1v1h-1zM23 59h6v1h-6zM30 59h1v1h-1zM32 59h1v1h-1zM36 59h1v1h-1zM40 59h1v1h-1zM44 59h1v1h-1zM47 59h1v1h-1zM54 59h2v1h-2zM58 59h3v1h-3zM63 59h1v1h-1zM65 59h1v1h-1zM67 59h8v1h-8zM76 59h12v1h-12zM91 59h1v1h-1zM94 59h1v1h-1zM96 59h1v1h-1zM98 59h1v1h-1zM102 59h1v1h-1zM104 59h1v1h-1zM108 59h1v1h-1zM0 60h1v1h-1zM2 60h1v1h-1zM4 60h2v1h-2zM17 60h1v1h-1zM19 60h1v1h-1zM21 60h2v1h-2zM24 60h1v1h-1zM27 60h1v1h-1zM36 60h1v1h-1zM39 60h1v1h-1zM41 60h1v1h-1zM46 60h1v1h-1zM48 60h1v1h-1zM80 60h2v1h-2zM86 60h1v1h-1zM88 60h3v1h-3zM94 60h1v1h-1zM98 60h1v1h-1zM102 60h2v1h-2zM111 60h1v1h-1zM0 61h2v1h-2zM3 61h2v1h-2zM7 61h2v1h-2zM14 61h1v1h-1zM17 61h2v1h-2zM21 61h1v1h-1zM27 61h1v1h-1zM30 61h1v1h-1zM35 61h2v1h-2zM55 61h1v1h-1zM57 61h1v1h-1zM59 61h4v1h-4zM75 61h1v1h-1zM86 61h1v1h-1zM88 61h3v1h-3zM93 61h1v1h-1zM96 61h1v1h-1zM98 61h1v1h-1zM100 61h2v1h-2zM103 61h1v1h-1zM110 61h2v1h-2zM26 62h1v1h-1zM40 62h1v1h-1zM44 62h2v1h-2zM48 62h1v1h-1zM91 62h1v1h-1zM111 62h1v1h-1zM0 63h2v1h-2zM5 63h1v1h-1zM7 63h6v1h-6zM14 63h6v1h-6zM23 63h3v1h-3zM29 63h1v1h-1zM31 63h1v1h-1zM41 63h2v1h-2zM44 63h1v1h-1zM49 63h1v1h-1zM51 63h1v1h-1zM65 63h1v1h-1zM67 63h2v1h-2zM71 63h2v1h-2zM75 63h1v1h-1zM83 63h2v1h-2zM92 63h2v1h-2zM96 63h1v1h-1zM98 63h1v1h-1zM101 63h1v1h-1zM107 63h1v1h-1zM1 64h1v1h-1zM3 64h3v1h-3zM7 64h2v1h-2zM14 64h2v1h-2zM19 64h6v1h-6zM52 64h1v1h-1zM73 64h1v1h-1zM93 64h1v1h-1zM102 64h1v1h-1zM2 65h1v1h-1zM5 65h1v1h-1zM9 65h1v1h-1zM12 65h1v1h-1zM17 65h3v1h-3zM21 65h1v1h-1zM25 65h1v1h-1zM27 65h1v1h-1zM34 65h1v1h-1zM51 65h1v1h-1zM85 65h1v1h-1zM94 65h1v1h-1zM100 65h1v1h-1zM105 65h3v1h-3zM0 66h1v1h-1zM9 66h5v1h-5zM16 66h1v1h-1zM19 66h1v1h-1zM22 66h1v1h-1zM25 66h1v1h-1zM29 66h1v1h-1zM31 66h2v1h-2zM36 66h1v1h-1zM42 66h2v1h-2zM49 66h1v1h-1zM66 66h1v1h-1zM68 66h1v1h-1zM71 66h2v1h-2zM81 66h1v1h-1zM84 66h2v1h-2zM92 66h1v1h-1zM94 66h1v1h-1zM104 66h1v1h-1zM0 67h1v1h-1zM2 67h1v1h-1zM10 67h2v1h-2zM21 67h2v1h-2zM24 67h1v1h-1zM26 67h1v1h-1zM29 67h1v1h-1zM48 67h2v1h-2zM52 67h1v1h-1zM61 67h1v1h-1zM74 67h1v1h-1zM80 67h2v1h-2zM88 67h3v1h-3zM92 67h1v1h-1zM95 67h1v1h-1zM97 67h1v1h-1zM99 67h1v1h-1zM105 67h5v1h-5zM22 68h1v1h-1zM26 68h1v1h-1zM41 68h1v1h-1zM45 68h1v1h-1zM91 68h1v1h-1zM41 69h1v1h-1zM45 69h1v1h-1zM48 69h1v1h-1zM91 69h1v1h-1zM6 70h6v1h-6zM13 70h2v1h-2zM16 70h1v1h-1zM18 70h1v1h-1zM23 70h1v1h-1zM25 70h1v1h-1zM29 70h1v1h-1zM31 70h1v1h-1zM42 70h2v1h-2zM48 70h1v1h-1zM51 70h1v1h-1zM53 70h2v1h-2zM66 70h1v1h-1zM82 70h2v1h-2zM1 71h3v1h-3zM6 71h4v1h-4zM12 71h1v1h-1zM15 71h1v1h-1zM17 71h2v1h-2zM26 71h1v1h-1zM33 71h2v1h-2zM37 71h1v1h-1zM49 71h1v1h-1zM52 71h1v1h-1zM54 71h3v1h-3zM62 71h1v1h-1zM64 71h1v1h-1zM66 71h2v1h-2zM74 71h1v1h-1zM82 71h1v1h-1zM93 71h1v1h-1zM95 71h1v1h-1zM99 71h1v1h-1zM2 72h3v1h-3zM32 72h1v1h-1zM36 72h2v1h-2zM51 72h1v1h-1zM61 72h1v1h-1zM76 72h2v1h-2zM80 72h1v1h-1zM83 72h1v1h-1zM87 72h1v1h-1zM24 73h1v1h-1zM30 73h1v1h-1zM32 73h1v1h-1zM36 73h2v1h-2zM54 73h1v1h-1zM68 73h3v1h-3zM72 73h1v1h-1zM77 73h4v1h-4zM82 73h4v1h-4zM88 73h1v1h-1zM91 73h1v1h-1zM99 73h1v1h-1zM101 73h1v1h-1zM103 73h1v1h-1zM107 73h1v1h-1zM110 73h1v1h-1zM3 74h3v1h-3zM18 74h1v1h-1zM21 74h1v1h-1zM23 74h2v1h-2zM38 74h3v1h-3zM61 74h1v1h-1zM89 74h1v1h-1zM94 74h1v1h-1zM2 75h1v1h-1zM4 75h6v1h-6zM13 75h1v1h-1zM15 75h2v1h-2zM18 75h3v1h-3zM23 75h3v1h-3zM38 75h2v1h-2zM45 75h1v1h-1zM50 75h3v1h-3zM59 75h1v1h-1zM61 75h3v1h-3zM67 75h1v1h-1zM73 75h1v1h-1zM89 75h1v1h-1zM93 75h2v1h-2zM2 76h7v1h-7zM14 76h2v1h-2zM19 76h3v1h-3zM23 76h2v1h-2zM50 76h1v1h-1zM73 76h1v1h-1zM93 76h1v1h-1zM40 77h1v1h-1zM46 77h1v1h-1zM26 78h1v1h-1zM40 78h1v1h-1zM91 78h1v1h-1zM111 78h1v1h-1zM2 79h1v1h-1zM4 79h2v1h-2zM18 79h2v1h-2zM21 79h1v1h-1zM23 79h6v1h-6zM38 79h2v1h-2zM45 79h1v1h-1zM52 79h1v1h-1zM74 79h2v1h-2zM80 79h2v1h-2zM88 79h4v1h-4zM94 79h2v1h-2zM107 79h2v1h-2zM111 79h1v1h-1zM41 80h1v1h-1zM45 80h1v1h-1zM48 80h1v1h-1zM111 80h1v1h-1zM2 81h1v1h-1zM14 81h3v1h-3zM19 81h3v1h-3zM23 81h2v1h-2zM27 81h2v1h-2zM38 81h1v1h-1zM50 81h1v1h-1zM52 81h1v1h-1zM73 81h2v1h-2zM81 81h1v1h-1zM93 81h1v1h-1zM108 81h1v1h-1zM110 81h2v1h-2zM41 82h1v1h-1zM44 82h2v1h-2zM48 82h1v1h-1zM111 82h1v1h-1zM30 83h1v1h-1zM32 83h1v1h-1zM52 83h1v1h-1zM59 83h5v1h-5zM67 83h1v1h-1zM83 83h1v1h-1zM85 83h1v1h-1zM89 83h1v1h-1zM93 83h2v1h-2zM96 83h1v1h-1zM103 83h2v1h-2zM30 84h1v1h-1zM32 84h1v1h-1zM46 84h1v1h-1zM50 84h3v1h-3zM59 84h4v1h-4zM73 84h1v1h-1zM83 84h1v1h-1zM85 84h1v1h-1zM89 84h1v1h-1zM93 84h4v1h-4zM102 84h3v1h-3zM32 85h2v1h-2zM40 85h1v1h-1zM43 85h2v1h-2zM49 85h1v1h-1zM52 85h1v1h-1zM60 85h1v1h-1zM65 85h1v1h-1zM67 85h6v1h-6zM83 85h3v1h-3zM92 85h1v1h-1zM96 85h1v1h-1zM101 85h1v1h-1zM32 86h1v1h-1zM36 86h1v1h-1zM41 86h1v1h-1zM45 86h2v1h-2zM48 86h1v1h-1zM52 86h1v1h-1zM90 86h1v1h-1zM98 86h6v1h-6zM107 86h2v1h-2zM30 87h1v1h-1zM32 87h1v1h-1zM35 87h4v1h-4zM44 87h1v1h-1zM47 87h2v1h-2zM51 87h12v1h-12zM67 87h13v1h-13zM83 87h5v1h-5zM89 87h3v1h-3zM93 87h4v1h-4zM98 87h1v1h-1zM100 87h1v1h-1zM103 87h2v1h-2zM108 87h1v1h-1zM110 87h1v1h-1zM30 88h1v1h-1zM32 88h1v1h-1zM35 88h3v1h-3zM41 88h1v1h-1zM47 88h2v1h-2zM52 88h10v1h-10zM67 88h13v1h-13zM83 88h3v1h-3zM87 88h1v1h-1zM89 88h3v1h-3zM93 88h2v1h-2zM96 88h1v1h-1zM98 88h1v1h-1zM100 88h1v1h-1zM104 88h1v1h-1zM43 89h3v1h-3zM47 89h1v1h-1zM51 89h1v1h-1zM53 89h2v1h-2zM57 89h4v1h-4zM62 89h1v1h-1zM65 89h6v1h-6zM72 89h1v1h-1zM74 89h1v1h-1zM77 89h3v1h-3zM89 89h5v1h-5zM95 89h3v1h-3zM99 89h1v1h-1zM101 89h1v1h-1zM103 89h1v1h-1zM109 89h3v1h-3zM30 90h1v1h-1zM32 90h1v1h-1zM35 90h1v1h-1zM37 90h1v1h-1zM44 90h1v1h-1zM46 90h2v1h-2zM50 90h5v1h-5zM56 90h5v1h-5zM63 90h1v1h-1zM68 90h9v1h-9zM78 90h2v1h-2zM84 90h2v1h-2zM87 90h1v1h-1zM89 90h1v1h-1zM91 90h1v1h-1zM93 90h2v1h-2zM96 90h1v1h-1zM100 90h1v1h-1zM104 90h1v1h-1zM107 90h1v1h-1zM110 90h1v1h-1zM30 91h1v1h-1zM35 91h2v1h-2zM47 91h1v1h-1zM56 91h2v1h-2zM59 91h2v1h-2zM62 91h2v1h-2zM73 91h1v1h-1zM75 91h1v1h-1zM80 91h3v1h-3zM86 91h1v1h-1zM90 91h1v1h-1zM93 91h2v1h-2zM96 91h1v1h-1zM98 91h6v1h-6zM107 91h2v1h-2zM110 91h1v1h-1zM30 92h1v1h-1zM32 92h1v1h-1zM35 92h2v1h-2zM45 92h4v1h-4zM51 92h1v1h-1zM53 92h10v1h-10zM67 92h13v1h-13zM83 92h9v1h-9zM93 92h2v1h-2zM96 92h1v1h-1zM98 92h1v1h-1zM100 92h2v1h-2zM103 92h2v1h-2zM107 92h2v1h-2zM110 92h2v1h-2zM32 93h1v1h-1zM36 93h2v1h-2zM40 93h2v1h-2zM46 93h1v1h-1zM48 93h1v1h-1zM50 93h1v1h-1zM53 93h1v1h-1zM67 93h7v1h-7zM76 93h4v1h-4zM81 93h2v1h-2zM84 93h2v1h-2zM87 93h1v1h-1zM93 93h1v1h-1zM98 93h1v1h-1zM102 93h1v1h-1zM107 93h2v1h-2zM110 93h1v1h-1zM40 94h1v1h-1zM46 94h1v1h-1zM48 94h1v1h-1zM50 94h5v1h-5zM67 94h13v1h-13zM81 94h1v1h-1zM91 94h1v1h-1zM93 94h1v1h-1zM108 94h1v1h-1zM110 94h1v1h-1zM30 95h1v1h-1zM36 95h1v1h-1zM41 95h1v1h-1zM45 95h1v1h-1zM48 95h1v1h-1zM52 95h1v1h-1zM60 95h2v1h-2zM75 95h1v1h-1zM80 95h1v1h-1zM86 95h1v1h-1zM88 95h4v1h-4zM94 95h3v1h-3zM98 95h4v1h-4zM103 95h1v1h-1zM111 95h1v1h-1zM30 96h1v1h-1zM35 96h2v1h-2zM40 96h1v1h-1zM47 96h2v1h-2zM52 96h1v1h-1zM55 96h3v1h-3zM59 96h5v1h-5zM75 96h1v1h-1zM80 96h1v1h-1zM82 96h1v1h-1zM86 96h1v1h-1zM88 96h3v1h-3zM93 96h3v1h-3zM98 96h1v1h-1zM100 96h2v1h-2zM103 96h1v1h-1zM110 96h2v1h-2zM30 97h1v1h-1zM35 97h1v1h-1zM41 97h1v1h-1zM47 97h2v1h-2zM50 97h1v1h-1zM52 97h1v1h-1zM56 97h2v1h-2zM59 97h5v1h-5zM73 97h3v1h-3zM86 97h1v1h-1zM88 97h3v1h-3zM93 97h2v1h-2zM96 97h1v1h-1zM99 97h3v1h-3zM103 97h1v1h-1zM110 97h2v1h-2zM36 98h1v1h-1zM41 98h1v1h-1zM45 98h1v1h-1zM52 98h1v1h-1zM60 98h2v1h-2zM74 98h2v1h-2zM80 98h2v1h-2zM86 98h1v1h-1zM88 98h4v1h-4zM94 98h3v1h-3zM98 98h6v1h-6zM107 98h2v1h-2zM111 98h1v1h-1zM40 99h1v1h-1zM45 99h2v1h-2zM48 99h1v1h-1zM52 99h1v1h-1zM61 99h1v1h-1zM74 99h2v1h-2zM80 99h2v1h-2zM86 99h1v1h-1zM88 99h4v1h-4zM94 99h3v1h-3zM98 99h6v1h-6zM107 99h2v1h-2zM111 99h1v1h-1zM41 100h1v1h-1zM44 100h2v1h-2zM48 100h1v1h-1zM52 100h1v1h-1zM60 100h1v1h-1zM74 100h2v1h-2zM88 100h4v1h-4zM95 100h2v1h-2zM98 100h2v1h-2zM101 100h1v1h-1zM103 100h1v1h-1zM107 100h2v1h-2zM111 100h1v1h-1zM41 101h1v1h-1zM44 101h2v1h-2zM48 101h1v1h-1zM52 101h1v1h-1zM60 101h1v1h-1zM74 101h2v1h-2zM88 101h4v1h-4zM95 101h2v1h-2zM98 101h2v1h-2zM101 101h1v1h-1zM103 101h1v1h-1zM107 101h2v1h-2zM111 101h1v1h-1zM36 102h1v1h-1zM40 102h2v1h-2zM45 102h2v1h-2zM48 102h1v1h-1zM52 102h1v1h-1zM60 102h2v1h-2zM74 102h2v1h-2zM80 102h2v1h-2zM88 102h1v1h-1zM94 102h3v1h-3zM98 102h6v1h-6zM107 102h2v1h-2zM111 102h1v1h-1zM35 103h2v1h-2zM40 103h2v1h-2zM47 103h2v1h-2zM50 103h1v1h-1zM52 103h1v1h-1zM55 103h3v1h-3zM59 103h5v1h-5zM73 103h3v1h-3zM80 103h3v1h-3zM88 103h1v1h-1zM94 103h3v1h-3zM98 103h6v1h-6zM107 103h2v1h-2zM110 103h2v1h-2zM35 104h2v1h-2zM40 104h2v1h-2zM47 104h2v1h-2zM50 104h1v1h-1zM55 104h3v1h-3zM59 104h3v1h-3zM63 104h1v1h-1zM73 104h2v1h-2zM80 104h3v1h-3zM88 104h1v1h-1zM93 104h4v1h-4zM98 104h2v1h-2zM101 104h3v1h-3zM107 104h2v1h-2zM110 104h2v1h-2zM35 105h2v1h-2zM40 105h2v1h-2zM52 105h1v1h-1zM55 105h3v1h-3zM59 105h5v1h-5zM73 105h3v1h-3zM80 105h3v1h-3zM88 105h1v1h-1zM93 105h4v1h-4zM98 105h1v1h-1zM100 105h4v1h-4zM107 105h1v1h-1zM110 105h2v1h-2zM32 106h1v1h-1zM35 106h3v1h-3zM46 106h3v1h-3zM51 106h1v1h-1zM53 106h6v1h-6zM60 106h3v1h-3zM67 106h6v1h-6zM74 106h6v1h-6zM83 106h3v1h-3zM87 106h1v1h-1zM94 106h3v1h-3zM98 106h4v1h-4zM107 106h2v1h-2zM110 106h2v1h-2zM32 107h1v1h-1zM35 107h3v1h-3zM39 107h1v1h-1zM47 107h1v1h-1zM50 107h3v1h-3zM54 107h10v1h-10zM67 107h1v1h-1zM82 107h2v1h-2zM35 108h1v1h-1zM37 108h1v1h-1zM39 108h2v1h-2zM47 108h1v1h-1zM50 108h1v1h-1zM53 108h2v1h-2zM56 108h4v1h-4zM61 108h1v1h-1zM63 108h1v1h-1zM67 108h3v1h-3zM30 109h1v1h-1zM32 109h1v1h-1zM35 109h2v1h-2zM39 109h2v1h-2zM44 109h1v1h-1zM46 109h1v1h-1zM51 109h1v1h-1zM53 109h11v1h-11zM67 109h3v1h-3zM82 109h2v1h-2zM91 109h1v1h-1zM40 110h1v1h-1zM47 110h2v1h-2zM50 110h1v1h-1zM52 110h1v1h-1zM55 110h3v1h-3zM59 110h1v1h-1zM61 110h3v1h-3zM44 111h2v1h-2zM48 111h1v1h-1zM50 111h4v1h-4zM67 111h3v1h-3z"/><path fill="#ff7676" d="M18 0h1v1h-1zM21 0h1v1h-1zM38 2h1v1h-1zM38 3h2v1h-2zM38 5h1v1h-1zM38 6h1v1h-1zM38 7h1v1h-1zM38 9h1v1h-1zM40 9h1v1h-1zM45 9h2v1h-2zM48 9h1v1h-1zM23 10h2v1h-2zM52 10h1v1h-1zM38 11h1v1h-1zM21 12h1v1h-1zM23 12h2v1h-2zM40 17h1v1h-1zM45 18h1v1h-1zM46 19h1v1h-1zM15 20h1v1h-1zM50 20h1v1h-1zM21 23h4v1h-4zM38 24h1v1h-1zM38 25h1v1h-1zM40 28h1v1h-1zM38 30h1v1h-1zM38 35h1v1h-1zM22 36h1v1h-1zM40 42h1v1h-1zM39 43h2v1h-2zM39 44h1v1h-1zM40 48h1v1h-1zM22 50h1v1h-1zM3 51h1v1h-1zM39 58h1v1h-1zM22 59h1v1h-1zM101 59h1v1h-1zM38 60h1v1h-1zM40 60h1v1h-1zM44 60h1v1h-1zM40 61h1v1h-1zM46 61h1v1h-1zM91 61h1v1h-1zM3 63h2v1h-2zM22 63h1v1h-1zM102 63h1v1h-1zM44 64h1v1h-1zM0 65h1v1h-1zM4 65h1v1h-1zM6 65h2v1h-2zM10 65h2v1h-2zM13 65h4v1h-4zM23 65h1v1h-1zM28 65h1v1h-1zM42 65h2v1h-2zM50 65h1v1h-1zM92 65h1v1h-1zM102 65h1v1h-1zM1 66h1v1h-1zM3 66h6v1h-6zM15 66h1v1h-1zM93 66h1v1h-1zM102 66h1v1h-1zM3 67h2v1h-2zM6 67h4v1h-4zM14 67h1v1h-1zM16 67h1v1h-1zM19 67h2v1h-2zM27 67h2v1h-2zM47 67h1v1h-1zM51 67h1v1h-1zM46 68h1v1h-1zM46 69h1v1h-1zM5 70h1v1h-1zM21 70h2v1h-2zM24 70h1v1h-1zM27 70h2v1h-2zM0 71h1v1h-1zM5 71h1v1h-1zM10 71h2v1h-2zM13 71h2v1h-2zM16 71h1v1h-1zM19 71h2v1h-2zM25 71h1v1h-1zM27 71h2v1h-2zM50 71h2v1h-2zM63 71h1v1h-1zM68 71h2v1h-2zM83 71h1v1h-1zM94 71h1v1h-1zM102 71h1v1h-1zM0 72h1v1h-1zM5 72h5v1h-5zM12 72h2v1h-2zM17 72h1v1h-1zM19 72h2v1h-2zM24 72h3v1h-3zM34 72h2v1h-2zM53 72h1v1h-1zM67 72h2v1h-2zM108 72h1v1h-1zM2 73h2v1h-2zM13 73h1v1h-1zM17 73h3v1h-3zM22 73h1v1h-1zM25 73h1v1h-1zM27 73h1v1h-1zM31 73h1v1h-1zM34 73h1v1h-1zM51 73h1v1h-1zM76 73h1v1h-1zM81 73h1v1h-1zM86 73h2v1h-2zM100 73h1v1h-1zM102 73h1v1h-1zM104 73h3v1h-3zM108 73h2v1h-2zM39 76h1v1h-1zM38 77h2v1h-2zM38 80h1v1h-1zM40 83h2v1h-2zM44 83h1v1h-1zM46 83h1v1h-1zM38 84h1v1h-1zM40 84h2v1h-2zM44 84h1v1h-1zM39 85h1v1h-1zM38 86h3v1h-3zM39 87h1v1h-1zM41 87h1v1h-1zM88 87h1v1h-1zM99 87h1v1h-1zM101 87h1v1h-1zM46 88h1v1h-1zM88 88h1v1h-1zM99 88h1v1h-1zM101 88h1v1h-1zM38 89h1v1h-1zM41 89h1v1h-1zM48 89h1v1h-1zM52 89h1v1h-1zM61 89h1v1h-1zM75 89h1v1h-1zM88 89h1v1h-1zM41 90h1v1h-1zM88 90h1v1h-1zM99 90h1v1h-1zM111 90h1v1h-1zM39 91h2v1h-2zM44 91h1v1h-1zM38 92h3v1h-3zM44 92h1v1h-1zM38 93h1v1h-1zM111 93h1v1h-1zM38 94h2v1h-2zM40 95h1v1h-1zM44 95h1v1h-1zM46 95h1v1h-1zM45 96h2v1h-2zM91 96h1v1h-1zM40 97h1v1h-1zM44 97h1v1h-1zM46 97h1v1h-1zM38 98h3v1h-3zM46 98h1v1h-1zM39 99h1v1h-1zM40 100h1v1h-1zM46 100h1v1h-1zM40 101h1v1h-1zM46 101h1v1h-1zM39 102h1v1h-1zM44 102h1v1h-1zM39 103h1v1h-1zM44 103h2v1h-2zM39 104h1v1h-1zM44 104h3v1h-3zM39 105h1v1h-1zM44 105h3v1h-3zM39 106h3v1h-3zM45 106h1v1h-1zM44 107h3v1h-3zM48 107h1v1h-1zM38 108h1v1h-1zM44 108h2v1h-2zM48 108h1v1h-1zM60 108h1v1h-1zM38 109h1v1h-1zM45 110h1v1h-1zM39 111h2v1h-2zM46 111h1v1h-1z"/><path fill="#9d9dff" d="M27 0h1v1h-1zM36 0h1v1h-1zM39 0h1v1h-1zM42 0h4v1h-4zM56 0h2v1h-2zM61 0h1v1h-1zM63 0h1v1h-1zM65 0h2v1h-2zM82 0h1v1h-1zM91 0h4v1h-4zM96 0h2v1h-2zM101 0h1v1h-1zM1 1h1v1h-1zM26 1h1v1h-1zM32 1h1v1h-1zM35 1h1v1h-1zM37 1h1v1h-1zM46 1h3v1h-3zM53 1h6v1h-6zM70 1h4v1h-4zM82 1h1v1h-1zM84 1h2v1h-2zM88 1h1v1h-1zM93 1h1v1h-1zM99 1h1v1h-1zM101 1h1v1h-1zM104 1h1v1h-1zM3 2h1v1h-1zM26 2h1v1h-1zM41 2h1v1h-1zM48 2h1v1h-1zM95 2h2v1h-2zM103 2h1v1h-1zM3 3h1v1h-1zM26 3h1v1h-1zM45 3h1v1h-1zM53 3h1v1h-1zM70 3h3v1h-3zM84 3h1v1h-1zM88 3h1v1h-1zM90 3h2v1h-2zM96 3h1v1h-1zM23 4h1v1h-1zM27 4h1v1h-1zM42 4h1v1h-1zM53 4h1v1h-1zM70 4h3v1h-3zM80 4h1v1h-1zM84 4h1v1h-1zM86 4h1v1h-1zM90 4h1v1h-1zM92 4h1v1h-1zM97 4h2v1h-2zM100 4h1v1h-1zM102 4h1v1h-1zM40 5h1v1h-1zM40 6h1v1h-1zM6 7h4v1h-4zM22 7h1v1h-1zM32 7h1v1h-1zM35 7h3v1h-3zM40 7h1v1h-1zM59 7h1v1h-1zM73 7h1v1h-1zM76 7h3v1h-3zM80 7h4v1h-4zM91 7h1v1h-1zM93 7h2v1h-2zM110 7h1v1h-1zM17 8h1v1h-1zM29 8h1v1h-1zM31 8h1v1h-1zM33 8h1v1h-1zM40 8h1v1h-1zM44 8h1v1h-1zM61 8h1v1h-1zM65 8h1v1h-1zM70 8h3v1h-3zM79 8h2v1h-2zM86 8h1v1h-1zM89 8h2v1h-2zM92 8h1v1h-1zM94 8h2v1h-2zM100 8h1v1h-1zM102 8h1v1h-1zM109 8h1v1h-1zM3 9h1v1h-1zM16 9h1v1h-1zM32 9h1v1h-1zM37 9h1v1h-1zM70 9h3v1h-3zM77 9h3v1h-3zM90 9h1v1h-1zM95 9h1v1h-1zM99 9h1v1h-1zM101 9h1v1h-1zM103 9h1v1h-1zM107 9h1v1h-1zM0 10h3v1h-3zM27 10h1v1h-1zM30 10h2v1h-2zM33 10h1v1h-1zM35 10h1v1h-1zM46 10h1v1h-1zM73 10h1v1h-1zM80 10h3v1h-3zM91 10h2v1h-2zM97 10h1v1h-1zM102 10h1v1h-1zM110 10h2v1h-2zM3 11h1v1h-1zM18 11h1v1h-1zM32 11h1v1h-1zM53 11h1v1h-1zM58 11h1v1h-1zM60 11h1v1h-1zM70 11h3v1h-3zM88 11h1v1h-1zM90 11h1v1h-1zM96 11h1v1h-1zM103 11h1v1h-1zM107 11h1v1h-1zM1 12h2v1h-2zM17 12h1v1h-1zM30 12h2v1h-2zM33 12h1v1h-1zM36 12h1v1h-1zM45 12h1v1h-1zM55 12h3v1h-3zM75 12h1v1h-1zM81 12h2v1h-2zM88 12h2v1h-2zM92 12h1v1h-1zM94 12h1v1h-1zM102 12h1v1h-1zM110 12h1v1h-1zM0 13h1v1h-1zM3 13h1v1h-1zM53 13h1v1h-1zM70 13h3v1h-3zM74 13h2v1h-2zM88 13h1v1h-1zM95 13h2v1h-2zM107 13h1v1h-1zM3 14h1v1h-1zM18 14h1v1h-1zM26 14h1v1h-1zM39 14h1v1h-1zM48 14h1v1h-1zM60 14h1v1h-1zM101 14h1v1h-1zM107 14h1v1h-1zM111 14h1v1h-1zM2 15h1v1h-1zM17 15h1v1h-1zM31 15h1v1h-1zM33 15h1v1h-1zM41 15h1v1h-1zM53 15h1v1h-1zM65 15h2v1h-2zM69 15h1v1h-1zM74 15h1v1h-1zM81 15h1v1h-1zM92 15h1v1h-1zM98 15h1v1h-1zM100 15h1v1h-1zM108 15h2v1h-2zM111 15h1v1h-1zM0 16h1v1h-1zM2 16h1v1h-1zM33 16h1v1h-1zM48 16h1v1h-1zM53 16h1v1h-1zM60 16h2v1h-2zM65 16h2v1h-2zM74 16h1v1h-1zM86 16h1v1h-1zM92 16h1v1h-1zM98 16h1v1h-1zM102 16h2v1h-2zM109 16h1v1h-1zM25 17h1v1h-1zM53 17h1v1h-1zM83 17h1v1h-1zM90 17h2v1h-2zM99 17h1v1h-1zM103 17h2v1h-2zM111 17h1v1h-1zM1 18h1v1h-1zM3 18h1v1h-1zM8 18h1v1h-1zM25 18h1v1h-1zM53 18h1v1h-1zM55 18h5v1h-5zM62 18h2v1h-2zM67 18h3v1h-3zM82 18h2v1h-2zM104 18h1v1h-1zM110 18h2v1h-2zM3 19h1v1h-1zM39 19h1v1h-1zM41 19h1v1h-1zM60 19h1v1h-1zM90 19h1v1h-1zM95 19h2v1h-2zM99 19h1v1h-1zM101 19h1v1h-1zM103 19h1v1h-1zM107 19h1v1h-1zM111 19h1v1h-1zM4 20h1v1h-1zM26 20h1v1h-1zM45 20h2v1h-2zM54 20h1v1h-1zM61 20h1v1h-1zM67 20h1v1h-1zM75 20h1v1h-1zM81 20h1v1h-1zM85 20h1v1h-1zM94 20h1v1h-1zM101 20h1v1h-1zM104 20h1v1h-1zM108 20h1v1h-1zM111 20h1v1h-1zM0 21h1v1h-1zM4 21h1v1h-1zM18 21h1v1h-1zM26 21h2v1h-2zM29 21h1v1h-1zM31 21h1v1h-1zM40 21h1v1h-1zM46 21h1v1h-1zM61 21h1v1h-1zM70 21h3v1h-3zM74 21h2v1h-2zM81 21h1v1h-1zM84 21h1v1h-1zM92 21h1v1h-1zM94 21h1v1h-1zM100 21h1v1h-1zM102 21h2v1h-2zM107 21h2v1h-2zM3 22h1v1h-1zM18 22h1v1h-1zM39 22h1v1h-1zM46 22h1v1h-1zM48 22h1v1h-1zM68 22h1v1h-1zM75 22h1v1h-1zM99 22h1v1h-1zM103 22h1v1h-1zM42 23h1v1h-1zM46 23h1v1h-1zM59 23h1v1h-1zM62 23h2v1h-2zM65 23h2v1h-2zM73 23h1v1h-1zM82 23h1v1h-1zM98 23h3v1h-3zM108 23h1v1h-1zM110 23h1v1h-1zM4 24h1v1h-1zM25 24h1v1h-1zM27 24h2v1h-2zM30 24h1v1h-1zM32 24h1v1h-1zM44 24h1v1h-1zM47 24h1v1h-1zM59 24h1v1h-1zM61 24h3v1h-3zM67 24h1v1h-1zM3 25h1v1h-1zM9 25h1v1h-1zM25 25h1v1h-1zM32 25h1v1h-1zM40 25h1v1h-1zM44 25h1v1h-1zM46 25h1v1h-1zM60 25h1v1h-1zM67 25h3v1h-3zM95 25h1v1h-1zM103 25h1v1h-1zM107 25h1v1h-1zM4 26h1v1h-1zM25 26h1v1h-1zM30 26h1v1h-1zM32 26h1v1h-1zM35 26h3v1h-3zM44 26h1v1h-1zM47 26h1v1h-1zM54 26h6v1h-6zM61 26h3v1h-3zM67 26h1v1h-1zM91 26h1v1h-1zM110 26h1v1h-1zM2 27h1v1h-1zM4 27h1v1h-1zM17 27h1v1h-1zM30 27h1v1h-1zM35 27h2v1h-2zM44 27h1v1h-1zM55 27h3v1h-3zM59 27h1v1h-1zM61 27h3v1h-3zM90 27h1v1h-1zM107 27h2v1h-2zM110 27h1v1h-1zM1 28h1v1h-1zM14 28h1v1h-1zM22 28h1v1h-1zM25 28h1v1h-1zM30 28h1v1h-1zM32 28h1v1h-1zM35 28h1v1h-1zM37 28h1v1h-1zM44 28h1v1h-1zM46 28h1v1h-1zM51 28h1v1h-1zM56 28h4v1h-4zM61 28h3v1h-3zM67 28h1v1h-1zM73 28h1v1h-1zM76 28h3v1h-3zM93 28h2v1h-2zM104 28h1v1h-1zM1 29h1v1h-1zM14 29h1v1h-1zM25 29h1v1h-1zM30 29h1v1h-1zM32 29h1v1h-1zM47 29h1v1h-1zM50 29h1v1h-1zM59 29h1v1h-1zM62 29h1v1h-1zM67 29h7v1h-7zM88 29h1v1h-1zM93 29h1v1h-1zM99 29h1v1h-1zM101 29h1v1h-1zM104 29h1v1h-1zM110 29h2v1h-2zM3 30h1v1h-1zM16 30h1v1h-1zM25 30h1v1h-1zM37 30h1v1h-1zM67 30h3v1h-3zM90 30h2v1h-2zM96 30h1v1h-1zM99 30h1v1h-1zM101 30h1v1h-1zM104 30h1v1h-1zM3 31h1v1h-1zM25 31h1v1h-1zM37 31h1v1h-1zM46 31h1v1h-1zM67 31h3v1h-3zM101 31h1v1h-1zM103 31h2v1h-2zM107 31h1v1h-1zM0 32h3v1h-3zM4 32h1v1h-1zM27 32h2v1h-2zM35 32h2v1h-2zM40 32h1v1h-1zM47 32h1v1h-1zM59 32h5v1h-5zM102 32h2v1h-2zM1 33h1v1h-1zM4 33h1v1h-1zM6 33h1v1h-1zM25 33h1v1h-1zM27 33h2v1h-2zM35 33h3v1h-3zM48 33h1v1h-1zM50 33h1v1h-1zM59 33h1v1h-1zM61 33h3v1h-3zM67 33h1v1h-1zM83 33h1v1h-1zM102 33h1v1h-1zM104 33h1v1h-1zM1 34h1v1h-1zM4 34h1v1h-1zM25 34h1v1h-1zM27 34h2v1h-2zM35 34h3v1h-3zM40 34h1v1h-1zM47 34h1v1h-1zM59 34h1v1h-1zM62 34h2v1h-2zM83 34h1v1h-1zM102 34h1v1h-1zM104 34h1v1h-1zM1 35h1v1h-1zM4 35h1v1h-1zM15 35h2v1h-2zM25 35h3v1h-3zM35 35h3v1h-3zM47 35h1v1h-1zM50 35h1v1h-1zM59 35h1v1h-1zM61 35h3v1h-3zM67 35h1v1h-1zM83 35h1v1h-1zM104 35h1v1h-1zM2 36h2v1h-2zM41 36h1v1h-1zM89 36h3v1h-3zM98 36h2v1h-2zM60 37h1v1h-1zM68 37h1v1h-1zM90 37h1v1h-1zM95 37h2v1h-2zM98 37h1v1h-1zM1 38h1v1h-1zM13 38h1v1h-1zM15 38h2v1h-2zM25 38h1v1h-1zM44 38h1v1h-1zM50 38h1v1h-1zM53 38h6v1h-6zM62 38h2v1h-2zM67 38h3v1h-3zM82 38h2v1h-2zM88 38h1v1h-1zM101 38h1v1h-1zM104 38h1v1h-1zM110 38h1v1h-1zM0 39h3v1h-3zM4 39h1v1h-1zM55 39h3v1h-3zM59 39h3v1h-3zM63 39h1v1h-1zM82 39h1v1h-1zM90 39h1v1h-1zM98 39h1v1h-1zM100 39h1v1h-1zM102 39h2v1h-2zM107 39h2v1h-2zM110 39h1v1h-1zM0 40h3v1h-3zM4 40h1v1h-1zM39 40h1v1h-1zM44 40h1v1h-1zM50 40h1v1h-1zM55 40h1v1h-1zM57 40h1v1h-1zM59 40h4v1h-4zM82 40h1v1h-1zM90 40h1v1h-1zM98 40h1v1h-1zM100 40h1v1h-1zM102 40h2v1h-2zM107 40h2v1h-2zM110 40h1v1h-1zM0 41h3v1h-3zM4 41h1v1h-1zM20 41h1v1h-1zM39 41h1v1h-1zM56 41h2v1h-2zM59 41h2v1h-2zM62 41h2v1h-2zM82 41h1v1h-1zM90 41h1v1h-1zM98 41h1v1h-1zM100 41h1v1h-1zM102 41h2v1h-2zM107 41h2v1h-2zM110 41h1v1h-1zM20 42h1v1h-1zM56 42h2v1h-2zM59 42h2v1h-2zM63 42h1v1h-1zM73 42h1v1h-1zM80 42h3v1h-3zM86 42h1v1h-1zM93 42h1v1h-1zM96 42h1v1h-1zM47 43h1v1h-1zM55 43h3v1h-3zM59 43h2v1h-2zM63 43h1v1h-1zM73 43h2v1h-2zM80 43h3v1h-3zM86 43h1v1h-1zM89 43h1v1h-1zM93 43h1v1h-1zM25 44h1v1h-1zM27 44h1v1h-1zM54 44h6v1h-6zM63 44h1v1h-1zM73 44h1v1h-1zM76 44h1v1h-1zM78 44h1v1h-1zM80 44h4v1h-4zM85 44h3v1h-3zM91 44h1v1h-1zM93 44h1v1h-1zM26 45h1v1h-1zM38 45h2v1h-2zM48 45h1v1h-1zM52 45h1v1h-1zM60 45h1v1h-1zM88 45h1v1h-1zM95 45h2v1h-2zM111 45h1v1h-1zM38 46h1v1h-1zM41 46h1v1h-1zM60 46h1v1h-1zM88 46h1v1h-1zM95 46h2v1h-2zM103 46h1v1h-1zM111 46h1v1h-1zM44 47h1v1h-1zM46 47h1v1h-1zM22 48h1v1h-1zM25 48h1v1h-1zM30 48h1v1h-1zM35 48h1v1h-1zM41 48h1v1h-1zM47 48h1v1h-1zM53 48h2v1h-2zM67 48h4v1h-4zM72 48h2v1h-2zM76 48h4v1h-4zM83 48h3v1h-3zM87 48h2v1h-2zM93 48h1v1h-1zM111 48h1v1h-1zM7 49h1v1h-1zM25 49h1v1h-1zM30 49h1v1h-1zM35 49h1v1h-1zM41 49h1v1h-1zM47 49h2v1h-2zM51 49h1v1h-1zM53 49h2v1h-2zM70 49h2v1h-2zM73 49h1v1h-1zM76 49h4v1h-4zM82 49h4v1h-4zM87 49h2v1h-2zM93 49h1v1h-1zM25 50h1v1h-1zM32 50h1v1h-1zM46 50h1v1h-1zM51 50h1v1h-1zM54 50h1v1h-1zM60 50h1v1h-1zM71 50h2v1h-2zM76 50h1v1h-1zM78 50h2v1h-2zM83 50h3v1h-3zM87 50h1v1h-1zM90 50h2v1h-2zM95 50h1v1h-1zM103 50h1v1h-1zM111 50h1v1h-1zM17 51h2v1h-2zM31 51h1v1h-1zM33 51h1v1h-1zM36 51h1v1h-1zM39 51h1v1h-1zM42 51h1v1h-1zM44 51h1v1h-1zM53 51h1v1h-1zM61 51h1v1h-1zM65 51h2v1h-2zM68 51h5v1h-5zM74 51h1v1h-1zM79 51h1v1h-1zM86 51h1v1h-1zM92 51h1v1h-1zM95 51h1v1h-1zM97 51h1v1h-1zM100 51h1v1h-1zM13 52h1v1h-1zM25 52h1v1h-1zM30 52h1v1h-1zM44 52h1v1h-1zM46 52h2v1h-2zM53 52h2v1h-2zM67 52h6v1h-6zM76 52h4v1h-4zM82 52h4v1h-4zM87 52h2v1h-2zM93 52h1v1h-1zM104 52h1v1h-1zM25 53h4v1h-4zM30 53h1v1h-1zM36 53h2v1h-2zM44 53h1v1h-1zM48 53h1v1h-1zM67 53h1v1h-1zM73 53h1v1h-1zM83 53h1v1h-1zM85 53h1v1h-1zM93 53h1v1h-1zM100 53h1v1h-1zM110 53h1v1h-1zM25 54h2v1h-2zM30 54h1v1h-1zM67 54h7v1h-7zM83 54h3v1h-3zM93 54h1v1h-1zM99 54h1v1h-1zM110 54h2v1h-2zM25 55h1v1h-1zM30 55h1v1h-1zM37 55h1v1h-1zM41 55h1v1h-1zM50 55h1v1h-1zM67 55h4v1h-4zM72 55h2v1h-2zM83 55h3v1h-3zM93 55h1v1h-1zM99 55h1v1h-1zM110 55h2v1h-2zM14 56h1v1h-1zM20 56h1v1h-1zM25 56h2v1h-2zM30 56h1v1h-1zM37 56h1v1h-1zM67 56h2v1h-2zM71 56h3v1h-3zM84 56h2v1h-2zM93 56h1v1h-1zM99 56h1v1h-1zM110 56h1v1h-1zM25 57h1v1h-1zM27 57h2v1h-2zM35 57h3v1h-3zM45 57h3v1h-3zM51 57h1v1h-1zM59 57h1v1h-1zM61 57h3v1h-3zM67 57h1v1h-1zM73 57h1v1h-1zM85 57h1v1h-1zM91 57h1v1h-1zM110 57h1v1h-1zM27 58h2v1h-2zM36 58h1v1h-1zM40 58h1v1h-1zM47 58h1v1h-1zM52 58h1v1h-1zM59 58h2v1h-2zM62 58h2v1h-2zM73 58h1v1h-1zM93 58h4v1h-4zM98 58h1v1h-1zM100 58h1v1h-1zM107 58h2v1h-2zM110 58h1v1h-1zM19 59h1v1h-1zM33 59h1v1h-1zM38 59h2v1h-2zM41 59h1v1h-1zM48 59h1v1h-1zM53 59h1v1h-1zM66 59h1v1h-1zM7 60h1v1h-1zM14 60h1v1h-1zM28 60h1v1h-1zM32 60h1v1h-1zM45 60h1v1h-1zM47 60h1v1h-1zM54 60h1v1h-1zM61 60h2v1h-2zM83 60h1v1h-1zM6 61h1v1h-1zM15 61h2v1h-2zM20 61h1v1h-1zM37 61h1v1h-1zM41 61h1v1h-1zM47 61h2v1h-2zM56 61h1v1h-1zM71 61h1v1h-1zM73 61h1v1h-1zM76 61h1v1h-1zM78 61h1v1h-1zM82 61h1v1h-1zM3 62h1v1h-1zM21 62h2v1h-2zM41 62h1v1h-1zM20 63h1v1h-1zM33 63h1v1h-1zM37 63h1v1h-1zM39 63h2v1h-2zM43 63h1v1h-1zM46 63h1v1h-1zM50 63h1v1h-1zM52 63h1v1h-1zM58 63h1v1h-1zM62 63h1v1h-1zM66 63h1v1h-1zM78 63h1v1h-1zM89 63h1v1h-1zM95 63h1v1h-1zM97 63h1v1h-1zM109 63h2v1h-2zM6 64h1v1h-1zM26 64h1v1h-1zM30 64h1v1h-1zM32 64h1v1h-1zM37 64h1v1h-1zM50 64h2v1h-2zM53 64h2v1h-2zM59 64h1v1h-1zM62 64h2v1h-2zM68 64h1v1h-1zM76 64h2v1h-2zM79 64h1v1h-1zM82 64h1v1h-1zM85 64h1v1h-1zM87 64h1v1h-1zM110 64h1v1h-1zM30 65h1v1h-1zM35 65h4v1h-4zM41 65h1v1h-1zM44 65h1v1h-1zM48 65h1v1h-1zM54 65h1v1h-1zM59 65h1v1h-1zM61 65h1v1h-1zM64 65h1v1h-1zM80 65h1v1h-1zM83 65h1v1h-1zM86 65h1v1h-1zM88 65h4v1h-4zM101 65h1v1h-1zM110 65h1v1h-1zM37 66h1v1h-1zM40 66h1v1h-1zM51 66h1v1h-1zM54 66h1v1h-1zM91 66h1v1h-1zM99 66h1v1h-1zM108 66h1v1h-1zM111 66h1v1h-1zM34 67h1v1h-1zM38 67h1v1h-1zM46 67h1v1h-1zM58 67h3v1h-3zM64 67h1v1h-1zM71 67h1v1h-1zM73 67h1v1h-1zM83 67h5v1h-5zM103 67h1v1h-1zM111 67h1v1h-1zM38 68h2v1h-2zM48 68h1v1h-1zM111 68h1v1h-1zM22 69h3v1h-3zM26 69h1v1h-1zM38 69h2v1h-2zM60 69h1v1h-1zM88 69h1v1h-1zM107 69h1v1h-1zM111 69h1v1h-1zM33 70h1v1h-1zM39 70h2v1h-2zM46 70h1v1h-1zM49 70h2v1h-2zM52 70h1v1h-1zM56 70h1v1h-1zM62 70h2v1h-2zM65 70h1v1h-1zM75 70h1v1h-1zM92 70h1v1h-1zM96 70h1v1h-1zM109 70h1v1h-1zM36 71h1v1h-1zM41 71h1v1h-1zM45 71h1v1h-1zM48 71h1v1h-1zM53 71h1v1h-1zM77 71h1v1h-1zM79 71h1v1h-1zM86 71h1v1h-1zM90 71h1v1h-1zM103 71h4v1h-4zM41 72h3v1h-3zM48 72h1v1h-1zM52 72h1v1h-1zM60 72h1v1h-1zM66 72h1v1h-1zM70 72h2v1h-2zM89 72h1v1h-1zM92 72h1v1h-1zM97 72h1v1h-1zM111 72h1v1h-1zM42 73h3v1h-3zM46 73h1v1h-1zM52 73h1v1h-1zM65 73h2v1h-2zM1 74h1v1h-1zM20 74h1v1h-1zM27 74h2v1h-2zM30 74h1v1h-1zM32 74h1v1h-1zM45 74h4v1h-4zM50 74h1v1h-1zM54 74h3v1h-3zM58 74h1v1h-1zM76 74h3v1h-3zM80 74h2v1h-2zM83 74h1v1h-1zM85 74h1v1h-1zM102 74h1v1h-1zM104 74h1v1h-1zM110 74h1v1h-1zM12 75h1v1h-1zM32 75h1v1h-1zM40 75h1v1h-1zM46 75h1v1h-1zM53 75h2v1h-2zM58 75h1v1h-1zM60 75h1v1h-1zM76 75h4v1h-4zM84 75h2v1h-2zM99 75h1v1h-1zM104 75h1v1h-1zM111 75h1v1h-1zM1 76h1v1h-1zM26 76h1v1h-1zM32 76h1v1h-1zM46 76h1v1h-1zM54 76h1v1h-1zM62 76h2v1h-2zM76 76h4v1h-4zM83 76h3v1h-3zM101 76h1v1h-1zM104 76h1v1h-1zM110 76h1v1h-1zM44 77h1v1h-1zM22 78h1v1h-1zM41 78h1v1h-1zM48 78h1v1h-1zM52 78h1v1h-1zM60 78h1v1h-1zM95 78h2v1h-2zM99 78h1v1h-1zM101 78h1v1h-1zM103 78h1v1h-1zM1 79h1v1h-1zM15 79h1v1h-1zM30 79h1v1h-1zM35 79h3v1h-3zM47 79h1v1h-1zM51 79h1v1h-1zM61 79h1v1h-1zM82 79h2v1h-2zM85 79h3v1h-3zM100 79h1v1h-1zM102 79h1v1h-1zM104 79h1v1h-1zM110 79h1v1h-1zM3 80h1v1h-1zM18 80h1v1h-1zM26 80h1v1h-1zM60 80h1v1h-1zM90 80h1v1h-1zM96 80h1v1h-1zM99 80h1v1h-1zM101 80h1v1h-1zM103 80h1v1h-1zM1 81h1v1h-1zM6 81h4v1h-4zM12 81h1v1h-1zM22 81h1v1h-1zM26 81h1v1h-1zM32 81h1v1h-1zM37 81h1v1h-1zM46 81h2v1h-2zM55 81h5v1h-5zM62 81h2v1h-2zM82 81h4v1h-4zM87 81h1v1h-1zM99 81h1v1h-1zM101 81h1v1h-1zM3 82h1v1h-1zM18 82h1v1h-1zM21 82h2v1h-2zM26 82h1v1h-1zM90 82h1v1h-1zM103 82h1v1h-1zM37 83h1v1h-1zM51 83h1v1h-1zM53 83h2v1h-2zM58 83h1v1h-1zM77 83h3v1h-3zM87 83h1v1h-1zM37 84h1v1h-1zM53 84h2v1h-2zM58 84h1v1h-1zM67 84h1v1h-1zM76 84h4v1h-4zM87 84h1v1h-1zM90 84h1v1h-1zM101 84h1v1h-1zM107 84h1v1h-1zM111 84h1v1h-1zM2 85h1v1h-1zM19 85h1v1h-1zM21 85h1v1h-1zM29 85h3v1h-3zM35 85h1v1h-1zM42 85h1v1h-1zM47 85h1v1h-1zM55 85h1v1h-1zM57 85h2v1h-2zM66 85h1v1h-1zM76 85h1v1h-1zM90 85h2v1h-2zM97 85h1v1h-1zM108 85h3v1h-3zM54 86h6v1h-6zM61 86h3v1h-3zM67 86h1v1h-1zM73 86h1v1h-1zM76 86h3v1h-3zM80 86h4v1h-4zM85 86h3v1h-3zM93 86h2v1h-2zM42 87h1v1h-1zM42 88h1v1h-1zM107 88h1v1h-1zM2 89h1v1h-1zM29 89h2v1h-2zM33 89h1v1h-1zM42 89h1v1h-1zM49 89h1v1h-1zM63 89h1v1h-1zM83 89h1v1h-1zM104 89h1v1h-1zM26 90h1v1h-1zM29 90h1v1h-1zM49 90h1v1h-1zM37 91h1v1h-1zM48 91h1v1h-1zM50 91h1v1h-1zM55 91h1v1h-1zM69 91h2v1h-2zM26 92h1v1h-1zM52 92h1v1h-1zM29 93h1v1h-1zM31 93h1v1h-1zM60 93h1v1h-1zM89 93h2v1h-2zM97 93h1v1h-1zM100 93h1v1h-1zM60 94h1v1h-1zM84 94h1v1h-1zM96 94h1v1h-1zM99 94h1v1h-1zM103 94h1v1h-1zM50 95h1v1h-1zM73 95h1v1h-1zM76 95h1v1h-1zM81 95h1v1h-1zM102 95h1v1h-1zM32 96h1v1h-1zM50 96h1v1h-1zM73 96h1v1h-1zM76 96h1v1h-1zM51 97h1v1h-1zM55 97h1v1h-1zM82 97h2v1h-2zM59 98h1v1h-1zM73 98h1v1h-1zM30 99h1v1h-1zM36 99h1v1h-1zM30 102h1v1h-1zM86 102h1v1h-1zM104 102h1v1h-1zM30 103h1v1h-1zM93 103h1v1h-1zM104 103h1v1h-1zM30 104h1v1h-1zM51 104h1v1h-1zM62 104h1v1h-1zM104 104h1v1h-1zM30 105h1v1h-1zM47 105h1v1h-1zM50 105h1v1h-1zM78 105h1v1h-1zM104 105h1v1h-1zM70 107h3v1h-3zM76 107h4v1h-4zM84 107h2v1h-2zM87 107h1v1h-1zM90 107h2v1h-2zM29 108h1v1h-1zM31 108h1v1h-1zM49 108h1v1h-1zM75 108h1v1h-1zM80 108h2v1h-2zM86 108h1v1h-1zM89 108h1v1h-1zM92 108h2v1h-2zM97 108h2v1h-2zM100 108h1v1h-1zM102 108h1v1h-1zM108 108h2v1h-2zM22 109h1v1h-1zM26 109h1v1h-1zM70 109h3v1h-3zM75 109h1v1h-1zM79 109h1v1h-1zM84 109h1v1h-1zM95 109h2v1h-2zM99 109h1v1h-1zM101 109h1v1h-1zM30 110h1v1h-1zM32 110h1v1h-1zM35 110h1v1h-1zM37 110h1v1h-1zM70 110h4v1h-4zM76 110h4v1h-4zM82 110h2v1h-2zM93 110h1v1h-1zM99 110h1v1h-1zM101 110h1v1h-1zM110 110h1v1h-1zM70 111h3v1h-3zM79 111h1v1h-1zM90 111h1v1h-1zM95 111h1v1h-1zM98 111h1v1h-1zM101 111h1v1h-1z"/><path fill="#7676ff" d="M40 0h1v1h-1zM53 0h2v1h-2zM58 0h1v1h-1zM64 0h1v1h-1zM69 0h1v1h-1zM71 0h2v1h-2zM80 0h2v1h-2zM84 0h3v1h-3zM88 0h2v1h-2zM100 0h1v1h-1zM105 0h2v1h-2zM108 0h1v1h-1zM41 1h1v1h-1zM74 1h2v1h-2zM80 1h2v1h-2zM86 1h1v1h-1zM90 1h1v1h-1zM92 1h1v1h-1zM97 1h2v1h-2zM100 1h1v1h-1zM103 1h1v1h-1zM107 1h2v1h-2zM0 2h3v1h-3zM4 2h1v1h-1zM27 2h2v1h-2zM35 2h2v1h-2zM40 2h1v1h-1zM47 2h1v1h-1zM55 2h3v1h-3zM73 2h1v1h-1zM82 2h1v1h-1zM89 2h1v1h-1zM93 2h2v1h-2zM102 2h1v1h-1zM14 3h1v1h-1zM36 3h1v1h-1zM47 3h1v1h-1zM49 3h2v1h-2zM55 3h1v1h-1zM82 3h1v1h-1zM86 3h1v1h-1zM92 3h1v1h-1zM95 3h1v1h-1zM97 3h1v1h-1zM99 3h3v1h-3zM110 3h2v1h-2zM26 4h1v1h-1zM37 4h1v1h-1zM57 4h1v1h-1zM73 4h3v1h-3zM77 4h2v1h-2zM87 4h1v1h-1zM95 4h1v1h-1zM101 4h1v1h-1zM110 4h1v1h-1zM41 5h1v1h-1zM91 5h1v1h-1zM111 5h1v1h-1zM41 6h1v1h-1zM91 6h1v1h-1zM111 6h1v1h-1zM3 7h1v1h-1zM60 7h1v1h-1zM70 7h3v1h-3zM79 7h1v1h-1zM90 7h1v1h-1zM96 7h1v1h-1zM99 7h1v1h-1zM101 7h1v1h-1zM0 8h2v1h-2zM30 8h1v1h-1zM35 8h1v1h-1zM41 8h1v1h-1zM59 8h2v1h-2zM77 8h1v1h-1zM85 8h1v1h-1zM87 8h2v1h-2zM91 8h1v1h-1zM93 8h1v1h-1zM96 8h1v1h-1zM98 8h2v1h-2zM110 8h1v1h-1zM0 9h2v1h-2zM31 9h1v1h-1zM33 9h1v1h-1zM36 9h1v1h-1zM49 9h2v1h-2zM73 9h2v1h-2zM86 9h1v1h-1zM92 9h1v1h-1zM97 9h1v1h-1zM100 9h1v1h-1zM109 9h1v1h-1zM37 10h1v1h-1zM45 10h1v1h-1zM54 10h1v1h-1zM76 10h3v1h-3zM83 10h1v1h-1zM85 10h1v1h-1zM90 10h1v1h-1zM96 10h1v1h-1zM104 10h1v1h-1zM107 10h2v1h-2zM0 11h2v1h-2zM31 11h1v1h-1zM33 11h1v1h-1zM35 11h1v1h-1zM43 11h1v1h-1zM80 11h3v1h-3zM92 11h1v1h-1zM97 11h1v1h-1zM102 11h1v1h-1zM108 11h1v1h-1zM110 11h2v1h-2zM0 12h1v1h-1zM32 12h1v1h-1zM37 12h1v1h-1zM41 12h1v1h-1zM54 12h1v1h-1zM58 12h1v1h-1zM60 12h1v1h-1zM76 12h2v1h-2zM83 12h1v1h-1zM85 12h1v1h-1zM90 12h1v1h-1zM98 12h1v1h-1zM103 12h2v1h-2zM108 12h1v1h-1zM1 13h1v1h-1zM21 13h1v1h-1zM27 13h1v1h-1zM29 13h1v1h-1zM31 13h1v1h-1zM33 13h1v1h-1zM35 13h1v1h-1zM49 13h1v1h-1zM55 13h1v1h-1zM90 13h3v1h-3zM97 13h1v1h-1zM99 13h1v1h-1zM103 13h1v1h-1zM110 13h1v1h-1zM1 14h2v1h-2zM4 14h1v1h-1zM17 14h1v1h-1zM30 14h1v1h-1zM35 14h1v1h-1zM47 14h1v1h-1zM55 14h3v1h-3zM59 14h1v1h-1zM61 14h3v1h-3zM73 14h3v1h-3zM81 14h1v1h-1zM86 14h1v1h-1zM93 14h1v1h-1zM98 14h1v1h-1zM100 14h1v1h-1zM102 14h1v1h-1zM108 14h1v1h-1zM110 14h1v1h-1zM0 15h2v1h-2zM30 15h1v1h-1zM35 15h1v1h-1zM44 15h1v1h-1zM47 15h1v1h-1zM55 15h6v1h-6zM62 15h2v1h-2zM75 15h5v1h-5zM82 15h2v1h-2zM88 15h4v1h-4zM93 15h1v1h-1zM95 15h1v1h-1zM101 15h1v1h-1zM103 15h2v1h-2zM14 16h1v1h-1zM41 16h1v1h-1zM47 16h1v1h-1zM56 16h4v1h-4zM63 16h1v1h-1zM67 16h1v1h-1zM73 16h1v1h-1zM75 16h4v1h-4zM82 16h2v1h-2zM87 16h1v1h-1zM89 16h3v1h-3zM93 16h1v1h-1zM96 16h1v1h-1zM107 16h2v1h-2zM42 17h1v1h-1zM49 17h1v1h-1zM55 17h1v1h-1zM57 17h1v1h-1zM59 17h1v1h-1zM61 17h1v1h-1zM65 17h2v1h-2zM73 17h2v1h-2zM81 17h1v1h-1zM86 17h1v1h-1zM109 17h1v1h-1zM0 18h1v1h-1zM39 18h1v1h-1zM42 18h1v1h-1zM60 18h1v1h-1zM65 18h2v1h-2zM74 18h2v1h-2zM80 18h2v1h-2zM86 18h1v1h-1zM95 18h3v1h-3zM103 18h1v1h-1zM109 18h1v1h-1zM1 19h2v1h-2zM4 19h1v1h-1zM73 19h3v1h-3zM80 19h2v1h-2zM86 19h1v1h-1zM98 19h1v1h-1zM100 19h1v1h-1zM102 19h1v1h-1zM108 19h1v1h-1zM110 19h1v1h-1zM53 20h1v1h-1zM56 20h2v1h-2zM64 20h1v1h-1zM69 20h1v1h-1zM71 20h2v1h-2zM74 20h1v1h-1zM84 20h1v1h-1zM95 20h2v1h-2zM98 20h1v1h-1zM103 20h1v1h-1zM105 20h2v1h-2zM30 21h1v1h-1zM48 21h1v1h-1zM55 21h2v1h-2zM58 21h1v1h-1zM76 21h3v1h-3zM85 21h1v1h-1zM87 21h1v1h-1zM95 21h2v1h-2zM98 21h2v1h-2zM101 21h1v1h-1zM104 21h1v1h-1zM110 21h1v1h-1zM4 22h1v1h-1zM29 22h3v1h-3zM35 22h1v1h-1zM42 22h1v1h-1zM56 22h1v1h-1zM59 22h2v1h-2zM62 22h2v1h-2zM65 22h2v1h-2zM73 22h1v1h-1zM81 22h1v1h-1zM95 22h2v1h-2zM109 22h1v1h-1zM111 22h1v1h-1zM0 23h1v1h-1zM60 23h1v1h-1zM75 23h1v1h-1zM96 23h1v1h-1zM103 23h1v1h-1zM111 23h1v1h-1zM60 24h1v1h-1zM68 24h2v1h-2zM90 24h1v1h-1zM95 24h1v1h-1zM103 24h1v1h-1zM107 24h1v1h-1zM0 25h2v1h-2zM4 25h1v1h-1zM29 25h2v1h-2zM33 25h1v1h-1zM35 25h2v1h-2zM55 25h3v1h-3zM62 25h1v1h-1zM65 25h2v1h-2zM73 25h1v1h-1zM92 25h3v1h-3zM97 25h1v1h-1zM102 25h1v1h-1zM108 25h1v1h-1zM110 25h2v1h-2zM53 26h1v1h-1zM60 26h1v1h-1zM68 26h2v1h-2zM90 26h1v1h-1zM99 26h1v1h-1zM101 26h1v1h-1zM103 26h1v1h-1zM111 26h1v1h-1zM25 27h1v1h-1zM32 27h1v1h-1zM37 27h1v1h-1zM53 27h2v1h-2zM58 27h1v1h-1zM67 27h3v1h-3zM91 27h1v1h-1zM111 27h1v1h-1zM53 28h1v1h-1zM68 28h5v1h-5zM79 28h1v1h-1zM95 28h2v1h-2zM99 28h1v1h-1zM101 28h1v1h-1zM22 29h1v1h-1zM31 29h1v1h-1zM33 29h1v1h-1zM49 29h1v1h-1zM60 29h1v1h-1zM65 29h2v1h-2zM74 29h2v1h-2zM95 29h2v1h-2zM100 29h1v1h-1zM108 29h2v1h-2zM22 30h1v1h-1zM28 30h1v1h-1zM36 30h1v1h-1zM49 30h2v1h-2zM56 30h2v1h-2zM63 30h1v1h-1zM65 30h2v1h-2zM89 30h1v1h-1zM92 30h3v1h-3zM97 30h1v1h-1zM100 30h1v1h-1zM110 30h2v1h-2zM0 31h1v1h-1zM35 31h2v1h-2zM47 31h1v1h-1zM49 31h1v1h-1zM59 31h4v1h-4zM65 31h2v1h-2zM73 31h1v1h-1zM92 31h2v1h-2zM100 31h1v1h-1zM110 31h2v1h-2zM25 32h1v1h-1zM37 32h1v1h-1zM67 32h3v1h-3zM83 32h1v1h-1zM96 32h1v1h-1zM104 32h1v1h-1zM68 33h2v1h-2zM90 33h1v1h-1zM95 33h2v1h-2zM101 33h1v1h-1zM107 33h1v1h-1zM68 34h2v1h-2zM90 34h1v1h-1zM95 34h2v1h-2zM99 34h1v1h-1zM101 34h1v1h-1zM103 34h1v1h-1zM107 34h1v1h-1zM68 35h2v1h-2zM90 35h1v1h-1zM95 35h2v1h-2zM99 35h1v1h-1zM101 35h1v1h-1zM49 36h1v1h-1zM55 36h3v1h-3zM65 36h2v1h-2zM82 36h1v1h-1zM88 36h1v1h-1zM92 36h2v1h-2zM95 36h3v1h-3zM107 36h1v1h-1zM110 36h1v1h-1zM28 37h1v1h-1zM45 37h1v1h-1zM56 37h2v1h-2zM61 37h1v1h-1zM65 37h2v1h-2zM82 37h1v1h-1zM91 37h4v1h-4zM97 37h1v1h-1zM102 37h1v1h-1zM107 37h1v1h-1zM110 37h1v1h-1zM2 38h1v1h-1zM43 38h1v1h-1zM65 38h2v1h-2zM80 38h1v1h-1zM86 38h1v1h-1zM89 38h1v1h-1zM92 38h1v1h-1zM94 38h2v1h-2zM97 38h1v1h-1zM102 38h1v1h-1zM107 38h1v1h-1zM109 38h1v1h-1zM25 39h1v1h-1zM41 39h1v1h-1zM53 39h2v1h-2zM58 39h1v1h-1zM83 39h1v1h-1zM91 39h1v1h-1zM104 39h1v1h-1zM111 39h1v1h-1zM25 40h1v1h-1zM41 40h1v1h-1zM53 40h2v1h-2zM58 40h1v1h-1zM67 40h3v1h-3zM83 40h1v1h-1zM91 40h1v1h-1zM104 40h1v1h-1zM111 40h1v1h-1zM25 41h1v1h-1zM53 41h2v1h-2zM58 41h1v1h-1zM67 41h2v1h-2zM83 41h1v1h-1zM104 41h1v1h-1zM25 42h1v1h-1zM53 42h2v1h-2zM58 42h1v1h-1zM71 42h1v1h-1zM76 42h4v1h-4zM83 42h3v1h-3zM87 42h1v1h-1zM91 42h1v1h-1zM111 42h1v1h-1zM25 43h1v1h-1zM32 43h1v1h-1zM51 43h1v1h-1zM53 43h2v1h-2zM58 43h1v1h-1zM70 43h2v1h-2zM76 43h4v1h-4zM83 43h3v1h-3zM87 43h1v1h-1zM21 44h1v1h-1zM53 44h1v1h-1zM70 44h2v1h-2zM79 44h1v1h-1zM84 44h1v1h-1zM95 44h1v1h-1zM55 45h1v1h-1zM57 45h1v1h-1zM59 45h1v1h-1zM61 45h3v1h-3zM73 45h3v1h-3zM80 45h3v1h-3zM86 45h1v1h-1zM89 45h1v1h-1zM93 45h2v1h-2zM44 46h1v1h-1zM55 46h3v1h-3zM59 46h1v1h-1zM61 46h3v1h-3zM73 46h3v1h-3zM80 46h3v1h-3zM86 46h1v1h-1zM89 46h1v1h-1zM93 46h2v1h-2zM91 47h1v1h-1zM111 47h1v1h-1zM60 48h2v1h-2zM65 48h2v1h-2zM81 48h1v1h-1zM89 48h1v1h-1zM95 48h3v1h-3zM18 49h1v1h-1zM49 49h1v1h-1zM60 49h2v1h-2zM65 49h2v1h-2zM80 49h1v1h-1zM86 49h1v1h-1zM89 49h1v1h-1zM96 49h2v1h-2zM29 50h1v1h-1zM35 50h1v1h-1zM47 50h2v1h-2zM56 50h1v1h-1zM59 50h1v1h-1zM62 50h2v1h-2zM65 50h2v1h-2zM74 50h1v1h-1zM80 50h1v1h-1zM94 50h1v1h-1zM97 50h1v1h-1zM0 51h1v1h-1zM46 51h1v1h-1zM55 51h3v1h-3zM62 51h2v1h-2zM80 51h1v1h-1zM82 51h1v1h-1zM85 51h1v1h-1zM87 51h3v1h-3zM93 51h1v1h-1zM96 51h1v1h-1zM99 51h1v1h-1zM103 51h2v1h-2zM38 52h2v1h-2zM43 52h1v1h-1zM48 52h1v1h-1zM61 52h1v1h-1zM65 52h2v1h-2zM80 52h1v1h-1zM89 52h1v1h-1zM94 52h4v1h-4zM103 52h1v1h-1zM45 53h2v1h-2zM68 53h5v1h-5zM84 53h1v1h-1zM90 53h1v1h-1zM95 53h2v1h-2zM99 53h1v1h-1zM111 53h1v1h-1zM48 54h1v1h-1zM52 54h1v1h-1zM60 54h1v1h-1zM65 54h2v1h-2zM74 54h2v1h-2zM81 54h1v1h-1zM86 54h1v1h-1zM91 54h1v1h-1zM94 54h4v1h-4zM107 54h1v1h-1zM109 54h1v1h-1zM26 55h1v1h-1zM48 55h1v1h-1zM60 55h2v1h-2zM65 55h1v1h-1zM74 55h2v1h-2zM81 55h1v1h-1zM86 55h1v1h-1zM89 55h3v1h-3zM95 55h3v1h-3zM109 55h1v1h-1zM36 56h1v1h-1zM45 56h1v1h-1zM48 56h2v1h-2zM60 56h1v1h-1zM65 56h2v1h-2zM75 56h1v1h-1zM86 56h1v1h-1zM90 56h1v1h-1zM94 56h1v1h-1zM96 56h3v1h-3zM108 56h2v1h-2zM68 57h5v1h-5zM84 57h1v1h-1zM99 57h1v1h-1zM101 57h1v1h-1zM111 57h1v1h-1zM25 58h1v1h-1zM37 58h1v1h-1zM46 58h1v1h-1zM48 58h1v1h-1zM67 58h6v1h-6zM83 58h3v1h-3zM91 58h1v1h-1zM111 58h1v1h-1zM37 59h1v1h-1zM46 59h1v1h-1zM57 59h1v1h-1zM18 60h1v1h-1zM68 60h1v1h-1zM2 61h1v1h-1zM19 61h1v1h-1zM22 61h1v1h-1zM33 61h1v1h-1zM81 61h1v1h-1zM102 61h1v1h-1zM108 61h1v1h-1zM14 62h1v1h-1zM36 62h1v1h-1zM55 62h1v1h-1zM62 62h1v1h-1zM75 62h1v1h-1zM80 62h3v1h-3zM94 62h1v1h-1zM98 62h1v1h-1zM102 62h1v1h-1zM108 62h1v1h-1zM35 63h1v1h-1zM38 63h1v1h-1zM45 63h1v1h-1zM53 63h1v1h-1zM55 63h3v1h-3zM59 63h1v1h-1zM61 63h1v1h-1zM90 63h1v1h-1zM61 64h1v1h-1zM80 64h1v1h-1zM95 64h3v1h-3zM108 64h2v1h-2zM39 65h2v1h-2zM45 65h1v1h-1zM52 65h2v1h-2zM58 65h1v1h-1zM60 65h1v1h-1zM35 66h1v1h-1zM46 66h1v1h-1zM48 66h1v1h-1zM55 66h1v1h-1zM58 66h1v1h-1zM74 66h1v1h-1zM101 66h1v1h-1zM32 67h1v1h-1zM36 67h1v1h-1zM39 67h2v1h-2zM43 67h1v1h-1zM65 67h1v1h-1zM96 67h1v1h-1zM5 68h1v1h-1zM36 68h1v1h-1zM44 68h1v1h-1zM59 68h1v1h-1zM73 68h1v1h-1zM100 68h1v1h-1zM0 69h1v1h-1zM17 69h1v1h-1zM89 69h1v1h-1zM93 69h2v1h-2zM30 70h1v1h-1zM71 70h2v1h-2zM95 70h1v1h-1zM99 70h1v1h-1zM103 70h1v1h-1zM105 70h2v1h-2zM110 70h1v1h-1zM29 71h1v1h-1zM38 71h2v1h-2zM44 71h1v1h-1zM46 71h1v1h-1zM109 71h1v1h-1zM111 71h1v1h-1zM40 72h1v1h-1zM44 72h1v1h-1zM46 72h1v1h-1zM59 72h1v1h-1zM93 72h1v1h-1zM40 73h1v1h-1zM48 73h1v1h-1zM59 73h1v1h-1zM52 74h2v1h-2zM79 74h1v1h-1zM84 74h1v1h-1zM99 74h1v1h-1zM101 74h1v1h-1zM107 74h1v1h-1zM30 75h2v1h-2zM33 75h1v1h-1zM35 75h1v1h-1zM43 75h2v1h-2zM49 75h1v1h-1zM55 75h1v1h-1zM80 75h2v1h-2zM86 75h1v1h-1zM102 75h1v1h-1zM108 75h2v1h-2zM0 76h1v1h-1zM17 76h1v1h-1zM31 76h1v1h-1zM33 76h1v1h-1zM36 76h1v1h-1zM45 76h1v1h-1zM48 76h1v1h-1zM61 76h1v1h-1zM80 76h1v1h-1zM86 76h1v1h-1zM89 76h1v1h-1zM96 76h3v1h-3zM100 76h1v1h-1zM103 76h1v1h-1zM109 76h1v1h-1zM22 77h1v1h-1zM0 78h3v1h-3zM17 78h1v1h-1zM19 78h2v1h-2zM30 78h1v1h-1zM35 78h2v1h-2zM50 78h1v1h-1zM82 78h1v1h-1zM86 78h1v1h-1zM98 78h1v1h-1zM100 78h1v1h-1zM102 78h1v1h-1zM44 79h1v1h-1zM68 79h1v1h-1zM84 79h1v1h-1zM99 79h1v1h-1zM0 80h2v1h-2zM4 80h5v1h-5zM17 80h1v1h-1zM35 80h2v1h-2zM82 80h1v1h-1zM89 80h1v1h-1zM98 80h1v1h-1zM100 80h1v1h-1zM102 80h1v1h-1zM0 81h1v1h-1zM17 81h2v1h-2zM29 81h1v1h-1zM33 81h1v1h-1zM36 81h1v1h-1zM41 81h1v1h-1zM86 81h1v1h-1zM89 81h2v1h-2zM96 81h2v1h-2zM103 81h1v1h-1zM4 82h5v1h-5zM30 82h1v1h-1zM40 82h1v1h-1zM61 82h1v1h-1zM86 82h1v1h-1zM89 82h1v1h-1zM98 82h1v1h-1zM74 83h1v1h-1zM81 83h1v1h-1zM109 83h1v1h-1zM22 84h1v1h-1zM98 84h1v1h-1zM109 84h1v1h-1zM1 85h1v1h-1zM20 85h1v1h-1zM24 85h1v1h-1zM56 85h1v1h-1zM107 85h1v1h-1zM53 86h1v1h-1zM68 86h5v1h-5zM79 86h1v1h-1zM84 86h1v1h-1zM0 87h1v1h-1zM2 87h2v1h-2zM26 87h1v1h-1zM0 88h1v1h-1zM2 88h2v1h-2zM18 88h1v1h-1zM0 89h1v1h-1zM20 89h1v1h-1zM27 89h1v1h-1zM34 89h1v1h-1zM50 89h1v1h-1zM81 89h2v1h-2zM0 90h1v1h-1zM2 90h1v1h-1zM5 90h1v1h-1zM17 90h3v1h-3zM67 90h1v1h-1zM98 90h1v1h-1zM22 91h1v1h-1zM26 91h1v1h-1zM33 91h1v1h-1zM3 92h1v1h-1zM21 92h1v1h-1zM33 92h1v1h-1zM50 92h1v1h-1zM2 93h1v1h-1zM21 93h1v1h-1zM23 93h1v1h-1zM30 93h1v1h-1zM51 93h1v1h-1zM62 93h1v1h-1zM3 94h1v1h-1zM21 94h1v1h-1zM30 94h2v1h-2zM33 94h1v1h-1zM35 94h1v1h-1zM42 94h1v1h-1zM97 94h1v1h-1zM49 97h1v1h-1zM95 97h1v1h-1zM108 97h1v1h-1zM29 103h1v1h-1zM31 103h1v1h-1zM29 104h1v1h-1zM31 104h1v1h-1zM29 105h1v1h-1zM31 105h1v1h-1zM21 106h1v1h-1zM29 106h1v1h-1zM31 106h1v1h-1zM43 106h1v1h-1zM29 107h1v1h-1zM31 107h1v1h-1zM86 107h1v1h-1zM89 107h1v1h-1zM92 107h1v1h-1zM97 107h1v1h-1zM109 107h1v1h-1zM17 108h1v1h-1zM19 108h1v1h-1zM23 108h2v1h-2zM104 108h1v1h-1zM18 109h1v1h-1zM21 109h1v1h-1zM23 109h2v1h-2zM33 109h1v1h-1zM50 109h1v1h-1zM73 109h1v1h-1zM92 109h1v1h-1zM97 109h1v1h-1zM109 109h1v1h-1zM26 110h1v1h-1zM31 110h1v1h-1zM33 110h1v1h-1zM86 110h1v1h-1zM92 110h1v1h-1zM96 110h3v1h-3zM100 110h1v1h-1zM102 110h2v1h-2zM109 110h1v1h-1zM21 111h4v1h-4zM30 111h2v1h-2zM33 111h1v1h-1zM35 111h1v1h-1zM42 111h1v1h-1zM60 111h1v1h-1zM80 111h1v1h-1zM86 111h1v1h-1zM88 111h1v1h-1zM93 111h1v1h-1zM96 111h1v1h-1zM99 111h2v1h-2zM102 111h2v1h-2zM109 111h1v1h-1z"/><path fill="#4f4fff" d="M55 0h1v1h-1zM73 0h3v1h-3zM107 0h1v1h-1zM40 1h1v1h-1zM76 1h3v1h-3zM87 1h1v1h-1zM37 2h1v1h-1zM53 2h2v1h-2zM58 2h1v1h-1zM70 2h3v1h-3zM84 2h2v1h-2zM91 2h1v1h-1zM104 2h1v1h-1zM2 3h1v1h-1zM28 3h1v1h-1zM74 3h2v1h-2zM77 3h1v1h-1zM79 3h2v1h-2zM87 3h1v1h-1zM98 3h1v1h-1zM102 3h1v1h-1zM105 3h2v1h-2zM28 4h1v1h-1zM79 4h1v1h-1zM81 4h1v1h-1zM105 4h2v1h-2zM111 4h1v1h-1zM0 5h1v1h-1zM2 5h3v1h-3zM74 5h2v1h-2zM80 5h2v1h-2zM86 5h1v1h-1zM88 5h3v1h-3zM94 5h3v1h-3zM98 5h6v1h-6zM107 5h2v1h-2zM0 6h1v1h-1zM2 6h3v1h-3zM74 6h2v1h-2zM80 6h2v1h-2zM86 6h1v1h-1zM88 6h3v1h-3zM94 6h3v1h-3zM98 6h6v1h-6zM107 6h2v1h-2zM0 7h2v1h-2zM4 7h1v1h-1zM29 7h2v1h-2zM33 7h1v1h-1zM89 7h1v1h-1zM92 7h1v1h-1zM97 7h2v1h-2zM100 7h1v1h-1zM102 7h1v1h-1zM109 7h1v1h-1zM34 8h1v1h-1zM84 8h1v1h-1zM105 8h2v1h-2zM22 9h1v1h-1zM34 9h1v1h-1zM76 9h1v1h-1zM83 9h1v1h-1zM85 9h1v1h-1zM87 9h1v1h-1zM96 9h1v1h-1zM98 9h1v1h-1zM104 9h3v1h-3zM108 9h1v1h-1zM34 10h1v1h-1zM36 10h1v1h-1zM79 10h1v1h-1zM84 10h1v1h-1zM86 10h1v1h-1zM105 10h2v1h-2zM34 11h1v1h-1zM37 11h1v1h-1zM51 11h1v1h-1zM54 11h1v1h-1zM74 11h5v1h-5zM83 11h1v1h-1zM85 11h1v1h-1zM98 11h1v1h-1zM104 11h3v1h-3zM34 12h2v1h-2zM47 12h1v1h-1zM79 12h2v1h-2zM84 12h1v1h-1zM86 12h1v1h-1zM96 12h1v1h-1zM105 12h2v1h-2zM34 13h1v1h-1zM37 13h1v1h-1zM67 13h1v1h-1zM76 13h1v1h-1zM78 13h4v1h-4zM83 13h4v1h-4zM100 13h1v1h-1zM102 13h1v1h-1zM104 13h3v1h-3zM108 13h1v1h-1zM41 14h1v1h-1zM58 14h1v1h-1zM70 14h3v1h-3zM76 14h4v1h-4zM84 14h2v1h-2zM87 14h1v1h-1zM91 14h1v1h-1zM104 14h1v1h-1zM34 15h1v1h-1zM61 15h1v1h-1zM64 15h1v1h-1zM68 15h1v1h-1zM70 15h4v1h-4zM80 15h1v1h-1zM86 15h1v1h-1zM94 15h1v1h-1zM99 15h1v1h-1zM102 15h1v1h-1zM105 15h2v1h-2zM55 16h1v1h-1zM62 16h1v1h-1zM64 16h1v1h-1zM68 16h4v1h-4zM79 16h1v1h-1zM81 16h1v1h-1zM84 16h1v1h-1zM88 16h1v1h-1zM105 16h2v1h-2zM0 17h1v1h-1zM41 17h1v1h-1zM54 17h1v1h-1zM58 17h1v1h-1zM60 17h1v1h-1zM64 17h1v1h-1zM67 17h1v1h-1zM75 17h4v1h-4zM85 17h1v1h-1zM87 17h1v1h-1zM96 17h1v1h-1zM105 17h2v1h-2zM54 18h1v1h-1zM73 18h1v1h-1zM76 18h3v1h-3zM85 18h1v1h-1zM87 18h1v1h-1zM91 18h1v1h-1zM54 19h1v1h-1zM70 19h3v1h-3zM76 19h4v1h-4zM84 19h2v1h-2zM87 19h1v1h-1zM104 19h1v1h-1zM55 20h1v1h-1zM58 20h1v1h-1zM65 20h1v1h-1zM76 20h3v1h-3zM80 20h1v1h-1zM86 20h2v1h-2zM89 20h1v1h-1zM93 20h1v1h-1zM97 20h1v1h-1zM109 20h1v1h-1zM35 21h1v1h-1zM47 21h1v1h-1zM53 21h1v1h-1zM57 21h1v1h-1zM79 21h2v1h-2zM86 21h1v1h-1zM105 21h2v1h-2zM0 22h1v1h-1zM53 22h2v1h-2zM58 22h1v1h-1zM64 22h1v1h-1zM69 22h1v1h-1zM71 22h2v1h-2zM74 22h1v1h-1zM76 22h5v1h-5zM84 22h5v1h-5zM91 22h1v1h-1zM104 22h3v1h-3zM35 23h1v1h-1zM47 23h2v1h-2zM56 23h1v1h-1zM64 23h1v1h-1zM69 23h1v1h-1zM71 23h2v1h-2zM81 23h1v1h-1zM84 23h1v1h-1zM86 23h1v1h-1zM89 23h1v1h-1zM95 23h1v1h-1zM105 23h2v1h-2zM0 24h2v1h-2zM31 24h1v1h-1zM33 24h1v1h-1zM35 24h2v1h-2zM55 24h3v1h-3zM65 24h2v1h-2zM73 24h1v1h-1zM89 24h1v1h-1zM91 24h4v1h-4zM97 24h1v1h-1zM102 24h1v1h-1zM108 24h1v1h-1zM110 24h1v1h-1zM34 25h1v1h-1zM37 25h1v1h-1zM54 25h1v1h-1zM58 25h1v1h-1zM64 25h1v1h-1zM74 25h2v1h-2zM83 25h1v1h-1zM88 25h4v1h-4zM96 25h1v1h-1zM98 25h2v1h-2zM101 25h1v1h-1zM105 25h2v1h-2zM0 26h2v1h-2zM31 26h1v1h-1zM33 26h1v1h-1zM65 26h2v1h-2zM73 26h3v1h-3zM80 26h3v1h-3zM89 26h1v1h-1zM92 26h3v1h-3zM97 26h2v1h-2zM100 26h1v1h-1zM102 26h1v1h-1zM109 26h1v1h-1zM0 27h1v1h-1zM31 27h1v1h-1zM33 27h1v1h-1zM60 27h1v1h-1zM65 27h2v1h-2zM74 27h2v1h-2zM88 27h2v1h-2zM92 27h1v1h-1zM95 27h1v1h-1zM97 27h3v1h-3zM101 27h1v1h-1zM103 27h1v1h-1zM109 27h1v1h-1zM31 28h1v1h-1zM33 28h1v1h-1zM36 28h1v1h-1zM49 28h1v1h-1zM55 28h1v1h-1zM65 28h2v1h-2zM74 28h1v1h-1zM80 28h2v1h-2zM86 28h1v1h-1zM98 28h1v1h-1zM100 28h1v1h-1zM102 28h1v1h-1zM35 29h1v1h-1zM37 29h1v1h-1zM54 29h1v1h-1zM56 29h3v1h-3zM63 29h1v1h-1zM76 29h3v1h-3zM85 29h1v1h-1zM54 30h1v1h-1zM58 30h1v1h-1zM64 30h1v1h-1zM75 30h1v1h-1zM83 30h1v1h-1zM85 30h1v1h-1zM88 30h1v1h-1zM95 30h1v1h-1zM98 30h1v1h-1zM105 30h3v1h-3zM54 31h1v1h-1zM74 31h2v1h-2zM83 31h1v1h-1zM85 31h1v1h-1zM89 31h3v1h-3zM96 31h1v1h-1zM98 31h2v1h-2zM105 31h2v1h-2zM108 31h1v1h-1zM65 32h2v1h-2zM89 32h2v1h-2zM92 32h1v1h-1zM95 32h1v1h-1zM97 32h3v1h-3zM101 32h1v1h-1zM107 32h2v1h-2zM2 33h1v1h-1zM47 33h1v1h-1zM55 33h3v1h-3zM65 33h2v1h-2zM73 33h1v1h-1zM82 33h1v1h-1zM89 33h1v1h-1zM91 33h4v1h-4zM97 33h2v1h-2zM100 33h1v1h-1zM110 33h1v1h-1zM29 34h1v1h-1zM55 34h3v1h-3zM61 34h1v1h-1zM65 34h2v1h-2zM73 34h1v1h-1zM82 34h1v1h-1zM89 34h1v1h-1zM91 34h4v1h-4zM97 34h1v1h-1zM100 34h1v1h-1zM108 34h1v1h-1zM110 34h1v1h-1zM28 35h1v1h-1zM55 35h3v1h-3zM65 35h2v1h-2zM82 35h1v1h-1zM89 35h1v1h-1zM91 35h4v1h-4zM97 35h2v1h-2zM100 35h1v1h-1zM102 35h1v1h-1zM110 35h1v1h-1zM53 36h2v1h-2zM58 36h1v1h-1zM64 36h1v1h-1zM67 36h5v1h-5zM74 36h1v1h-1zM80 36h2v1h-2zM84 36h3v1h-3zM94 36h1v1h-1zM100 36h1v1h-1zM105 36h2v1h-2zM108 36h1v1h-1zM111 36h1v1h-1zM53 37h1v1h-1zM58 37h1v1h-1zM64 37h1v1h-1zM69 37h1v1h-1zM71 37h2v1h-2zM75 37h1v1h-1zM80 37h1v1h-1zM83 37h4v1h-4zM89 37h1v1h-1zM100 37h1v1h-1zM105 37h2v1h-2zM108 37h1v1h-1zM111 37h1v1h-1zM59 38h1v1h-1zM77 38h2v1h-2zM85 38h1v1h-1zM87 38h1v1h-1zM93 38h1v1h-1zM96 38h1v1h-1zM111 38h1v1h-1zM49 39h1v1h-1zM65 39h2v1h-2zM74 39h1v1h-1zM88 39h2v1h-2zM92 39h1v1h-1zM96 39h2v1h-2zM109 39h1v1h-1zM65 40h2v1h-2zM74 40h2v1h-2zM88 40h2v1h-2zM92 40h1v1h-1zM95 40h3v1h-3zM109 40h1v1h-1zM65 41h2v1h-2zM75 41h1v1h-1zM92 41h1v1h-1zM95 41h3v1h-3zM109 41h1v1h-1zM49 42h1v1h-1zM65 42h2v1h-2zM74 42h2v1h-2zM88 42h2v1h-2zM95 42h1v1h-1zM49 43h1v1h-1zM65 43h2v1h-2zM75 43h1v1h-1zM95 43h2v1h-2zM29 44h1v1h-1zM49 44h1v1h-1zM61 44h2v1h-2zM65 44h2v1h-2zM75 44h1v1h-1zM94 44h1v1h-1zM98 44h1v1h-1zM25 45h1v1h-1zM53 45h2v1h-2zM58 45h1v1h-1zM67 45h6v1h-6zM76 45h4v1h-4zM83 45h3v1h-3zM87 45h1v1h-1zM25 46h1v1h-1zM53 46h2v1h-2zM58 46h1v1h-1zM67 46h6v1h-6zM76 46h4v1h-4zM83 46h3v1h-3zM87 46h1v1h-1zM91 46h1v1h-1zM60 47h2v1h-2zM74 47h2v1h-2zM81 47h1v1h-1zM86 47h1v1h-1zM88 47h2v1h-2zM94 47h3v1h-3zM50 48h1v1h-1zM55 48h1v1h-1zM57 48h3v1h-3zM62 48h1v1h-1zM82 48h1v1h-1zM55 49h5v1h-5zM63 49h1v1h-1zM67 49h1v1h-1zM95 49h1v1h-1zM58 50h1v1h-1zM64 50h1v1h-1zM67 50h1v1h-1zM77 50h1v1h-1zM96 50h1v1h-1zM30 51h1v1h-1zM34 51h2v1h-2zM64 51h1v1h-1zM84 51h1v1h-1zM94 51h1v1h-1zM35 52h1v1h-1zM55 52h3v1h-3zM62 52h2v1h-2zM73 52h1v1h-1zM47 53h1v1h-1zM61 53h3v1h-3zM65 53h2v1h-2zM74 53h2v1h-2zM81 53h2v1h-2zM86 53h1v1h-1zM89 53h1v1h-1zM91 53h1v1h-1zM94 53h1v1h-1zM97 53h1v1h-1zM109 53h1v1h-1zM37 54h1v1h-1zM46 54h2v1h-2zM54 54h1v1h-1zM59 54h1v1h-1zM62 54h2v1h-2zM76 54h3v1h-3zM82 54h1v1h-1zM87 54h1v1h-1zM90 54h1v1h-1zM35 55h1v1h-1zM47 55h1v1h-1zM54 55h1v1h-1zM59 55h1v1h-1zM62 55h1v1h-1zM76 55h3v1h-3zM82 55h1v1h-1zM87 55h2v1h-2zM35 56h1v1h-1zM46 56h2v1h-2zM54 56h1v1h-1zM59 56h1v1h-1zM62 56h2v1h-2zM76 56h3v1h-3zM83 56h1v1h-1zM87 56h1v1h-1zM91 56h1v1h-1zM95 56h1v1h-1zM111 56h1v1h-1zM42 57h1v1h-1zM55 57h3v1h-3zM65 57h2v1h-2zM75 57h1v1h-1zM80 57h3v1h-3zM86 57h1v1h-1zM89 57h1v1h-1zM92 57h3v1h-3zM100 57h1v1h-1zM109 57h1v1h-1zM65 58h2v1h-2zM74 58h2v1h-2zM89 58h2v1h-2zM109 58h1v1h-1zM100 60h1v1h-1zM63 61h1v1h-1zM67 62h3v1h-3zM72 62h1v1h-1zM83 62h1v1h-1zM88 63h1v1h-1zM35 64h1v1h-1zM55 64h4v1h-4zM78 64h1v1h-1zM88 64h1v1h-1zM90 64h1v1h-1zM99 64h1v1h-1zM55 65h1v1h-1zM57 65h1v1h-1zM13 68h1v1h-1zM54 69h1v1h-1zM94 70h1v1h-1zM97 70h1v1h-1zM110 71h1v1h-1zM31 74h1v1h-1zM35 74h2v1h-2zM57 74h1v1h-1zM82 74h1v1h-1zM86 74h1v1h-1zM98 74h1v1h-1zM100 74h1v1h-1zM109 74h1v1h-1zM34 75h1v1h-1zM37 75h1v1h-1zM83 75h1v1h-1zM87 75h1v1h-1zM101 75h1v1h-1zM30 76h1v1h-1zM37 76h1v1h-1zM47 76h1v1h-1zM55 76h2v1h-2zM59 76h2v1h-2zM82 76h1v1h-1zM87 76h2v1h-2zM90 76h1v1h-1zM99 76h1v1h-1zM0 77h1v1h-1zM17 77h1v1h-1zM36 77h1v1h-1zM60 77h1v1h-1zM86 77h1v1h-1zM96 77h1v1h-1zM98 77h6v1h-6zM32 78h1v1h-1zM83 78h3v1h-3zM87 78h1v1h-1zM104 78h1v1h-1zM31 79h1v1h-1zM33 79h1v1h-1zM9 80h1v1h-1zM22 80h1v1h-1zM32 80h1v1h-1zM37 80h1v1h-1zM83 80h3v1h-3zM87 80h1v1h-1zM35 81h1v1h-1zM60 81h1v1h-1zM104 81h1v1h-1zM9 82h1v1h-1zM67 82h1v1h-1zM77 82h1v1h-1zM104 82h1v1h-1zM0 83h1v1h-1zM2 83h2v1h-2zM5 83h1v1h-1zM17 83h3v1h-3zM21 83h2v1h-2zM24 83h1v1h-1zM76 83h1v1h-1zM107 83h2v1h-2zM0 84h1v1h-1zM2 84h2v1h-2zM5 84h1v1h-1zM17 84h3v1h-3zM23 84h2v1h-2zM26 84h1v1h-1zM0 85h1v1h-1zM3 85h3v1h-3zM12 85h2v1h-2zM18 85h1v1h-1zM22 85h1v1h-1zM25 85h1v1h-1zM27 85h1v1h-1zM22 86h1v1h-1zM26 86h1v1h-1zM65 86h2v1h-2zM1 87h1v1h-1zM6 87h3v1h-3zM14 87h2v1h-2zM20 87h1v1h-1zM27 87h2v1h-2zM1 88h1v1h-1zM4 88h1v1h-1zM6 88h3v1h-3zM15 88h1v1h-1zM20 88h1v1h-1zM22 88h1v1h-1zM27 88h1v1h-1zM3 89h1v1h-1zM12 89h2v1h-2zM18 89h1v1h-1zM21 89h1v1h-1zM23 89h1v1h-1zM25 89h2v1h-2zM28 89h1v1h-1zM31 89h1v1h-1zM102 89h1v1h-1zM1 90h1v1h-1zM3 90h2v1h-2zM6 90h3v1h-3zM15 90h1v1h-1zM20 90h1v1h-1zM22 90h1v1h-1zM28 90h1v1h-1zM3 91h1v1h-1zM18 91h1v1h-1zM21 91h1v1h-1zM23 91h2v1h-2zM0 92h1v1h-1zM17 92h1v1h-1zM27 92h2v1h-2zM1 93h1v1h-1zM14 93h2v1h-2zM20 93h1v1h-1zM22 93h1v1h-1zM26 93h3v1h-3zM2 94h1v1h-1zM4 94h2v1h-2zM19 94h1v1h-1zM27 94h2v1h-2zM34 94h1v1h-1zM18 96h1v1h-1zM21 96h1v1h-1zM23 96h2v1h-2zM18 97h1v1h-1zM24 97h1v1h-1zM22 98h1v1h-1zM26 98h1v1h-1zM43 98h1v1h-1zM22 99h1v1h-1zM26 99h1v1h-1zM29 102h1v1h-1zM31 102h1v1h-1zM21 103h1v1h-1zM23 103h2v1h-2zM21 104h1v1h-1zM23 104h2v1h-2zM21 105h1v1h-1zM23 105h2v1h-2zM0 106h1v1h-1zM2 106h1v1h-1zM17 106h1v1h-1zM26 106h3v1h-3zM17 107h1v1h-1zM21 107h1v1h-1zM23 107h1v1h-1zM26 107h1v1h-1zM104 107h3v1h-3zM20 108h3v1h-3zM26 108h3v1h-3zM105 108h2v1h-2zM5 109h1v1h-1zM17 109h1v1h-1zM27 109h2v1h-2zM78 109h1v1h-1zM105 109h2v1h-2zM108 109h1v1h-1zM18 110h1v1h-1zM21 110h1v1h-1zM23 110h2v1h-2zM85 110h1v1h-1zM87 110h1v1h-1zM104 110h1v1h-1zM5 111h1v1h-1zM19 111h1v1h-1zM26 111h3v1h-3zM34 111h1v1h-1zM84 111h2v1h-2zM87 111h1v1h-1zM89 111h1v1h-1zM94 111h1v1h-1zM104 111h3v1h-3z"/><path fill="#2828ff" d="M70 0h1v1h-1zM76 0h4v1h-4zM87 0h1v1h-1zM109 0h2v1h-2zM79 1h1v1h-1zM105 1h2v1h-2zM109 1h1v1h-1zM111 1h1v1h-1zM74 2h8v1h-8zM86 2h3v1h-3zM90 2h1v1h-1zM92 2h1v1h-1zM97 2h5v1h-5zM105 2h4v1h-4zM110 2h2v1h-2zM73 3h1v1h-1zM76 3h1v1h-1zM78 3h1v1h-1zM81 3h1v1h-1zM107 3h1v1h-1zM109 3h1v1h-1zM76 4h1v1h-1zM108 4h2v1h-2zM1 5h1v1h-1zM70 5h4v1h-4zM76 5h4v1h-4zM84 5h2v1h-2zM87 5h1v1h-1zM92 5h2v1h-2zM97 5h1v1h-1zM104 5h1v1h-1zM109 5h2v1h-2zM1 6h1v1h-1zM70 6h4v1h-4zM76 6h4v1h-4zM84 6h2v1h-2zM87 6h1v1h-1zM92 6h2v1h-2zM97 6h1v1h-1zM104 6h1v1h-1zM109 6h2v1h-2zM31 7h1v1h-1zM34 7h1v1h-1zM84 7h4v1h-4zM103 7h1v1h-1zM105 7h2v1h-2zM97 8h1v1h-1zM104 8h1v1h-1zM80 9h3v1h-3zM84 9h1v1h-1zM74 10h2v1h-2zM87 10h1v1h-1zM98 10h3v1h-3zM109 10h1v1h-1zM36 11h1v1h-1zM79 11h1v1h-1zM84 11h1v1h-1zM86 11h2v1h-2zM99 11h1v1h-1zM101 11h1v1h-1zM109 11h1v1h-1zM74 12h1v1h-1zM78 12h1v1h-1zM87 12h1v1h-1zM97 12h1v1h-1zM100 12h2v1h-2zM109 12h1v1h-1zM36 13h1v1h-1zM77 13h1v1h-1zM82 13h1v1h-1zM87 13h1v1h-1zM101 13h1v1h-1zM109 13h1v1h-1zM0 14h1v1h-1zM80 14h1v1h-1zM88 14h3v1h-3zM92 14h1v1h-1zM94 14h3v1h-3zM99 14h1v1h-1zM103 14h1v1h-1zM105 14h2v1h-2zM109 14h1v1h-1zM32 15h1v1h-1zM84 15h2v1h-2zM87 15h1v1h-1zM97 15h1v1h-1zM49 16h1v1h-1zM72 16h1v1h-1zM80 16h1v1h-1zM85 16h1v1h-1zM94 16h1v1h-1zM97 16h1v1h-1zM56 17h1v1h-1zM62 17h2v1h-2zM68 17h5v1h-5zM79 17h2v1h-2zM84 17h1v1h-1zM88 17h2v1h-2zM92 17h2v1h-2zM95 17h1v1h-1zM97 17h1v1h-1zM64 18h1v1h-1zM70 18h3v1h-3zM79 18h1v1h-1zM84 18h1v1h-1zM88 18h2v1h-2zM92 18h1v1h-1zM94 18h1v1h-1zM105 18h2v1h-2zM0 19h1v1h-1zM42 19h1v1h-1zM88 19h2v1h-2zM93 19h2v1h-2zM97 19h1v1h-1zM105 19h2v1h-2zM109 19h1v1h-1zM70 20h1v1h-1zM79 20h1v1h-1zM88 20h1v1h-1zM90 20h1v1h-1zM88 21h2v1h-2zM91 21h1v1h-1zM97 21h1v1h-1zM109 21h1v1h-1zM55 22h1v1h-1zM57 22h1v1h-1zM61 22h1v1h-1zM70 22h1v1h-1zM90 22h1v1h-1zM92 22h3v1h-3zM97 22h1v1h-1zM53 23h3v1h-3zM57 23h2v1h-2zM61 23h1v1h-1zM70 23h1v1h-1zM74 23h1v1h-1zM76 23h5v1h-5zM85 23h1v1h-1zM87 23h1v1h-1zM90 23h5v1h-5zM97 23h1v1h-1zM109 23h1v1h-1zM34 24h1v1h-1zM37 24h1v1h-1zM53 24h2v1h-2zM58 24h1v1h-1zM64 24h1v1h-1zM70 24h3v1h-3zM74 24h5v1h-5zM80 24h4v1h-4zM85 24h2v1h-2zM88 24h1v1h-1zM96 24h1v1h-1zM98 24h4v1h-4zM104 24h3v1h-3zM109 24h1v1h-1zM111 24h1v1h-1zM31 25h1v1h-1zM53 25h1v1h-1zM70 25h3v1h-3zM76 25h7v1h-7zM84 25h2v1h-2zM87 25h1v1h-1zM100 25h1v1h-1zM104 25h1v1h-1zM109 25h1v1h-1zM34 26h1v1h-1zM64 26h1v1h-1zM70 26h3v1h-3zM76 26h4v1h-4zM83 26h1v1h-1zM86 26h3v1h-3zM95 26h2v1h-2zM104 26h3v1h-3zM1 27h1v1h-1zM34 27h1v1h-1zM64 27h1v1h-1zM70 27h4v1h-4zM76 27h8v1h-8zM86 27h1v1h-1zM93 27h2v1h-2zM96 27h1v1h-1zM100 27h1v1h-1zM102 27h1v1h-1zM104 27h3v1h-3zM34 28h1v1h-1zM54 28h1v1h-1zM60 28h1v1h-1zM64 28h1v1h-1zM82 28h1v1h-1zM84 28h2v1h-2zM87 28h1v1h-1zM34 29h1v1h-1zM36 29h1v1h-1zM53 29h1v1h-1zM55 29h1v1h-1zM64 29h1v1h-1zM79 29h3v1h-3zM83 29h2v1h-2zM86 29h2v1h-2zM98 29h1v1h-1zM102 29h1v1h-1zM53 30h1v1h-1zM55 30h1v1h-1zM70 30h5v1h-5zM76 30h5v1h-5zM82 30h1v1h-1zM84 30h1v1h-1zM86 30h2v1h-2zM102 30h1v1h-1zM108 30h2v1h-2zM53 31h1v1h-1zM55 31h4v1h-4zM63 31h2v1h-2zM70 31h3v1h-3zM76 31h4v1h-4zM81 31h2v1h-2zM84 31h1v1h-1zM86 31h3v1h-3zM94 31h2v1h-2zM97 31h1v1h-1zM102 31h1v1h-1zM109 31h1v1h-1zM53 32h6v1h-6zM64 32h1v1h-1zM70 32h6v1h-6zM80 32h3v1h-3zM84 32h3v1h-3zM88 32h1v1h-1zM91 32h1v1h-1zM93 32h2v1h-2zM100 32h1v1h-1zM105 32h2v1h-2zM109 32h3v1h-3zM53 33h2v1h-2zM58 33h1v1h-1zM64 33h1v1h-1zM70 33h3v1h-3zM74 33h4v1h-4zM80 33h2v1h-2zM84 33h5v1h-5zM99 33h1v1h-1zM105 33h2v1h-2zM108 33h2v1h-2zM111 33h1v1h-1zM53 34h2v1h-2zM58 34h1v1h-1zM64 34h1v1h-1zM67 34h1v1h-1zM70 34h3v1h-3zM74 34h3v1h-3zM78 34h1v1h-1zM80 34h2v1h-2zM84 34h5v1h-5zM98 34h1v1h-1zM105 34h2v1h-2zM109 34h1v1h-1zM111 34h1v1h-1zM53 35h2v1h-2zM58 35h1v1h-1zM64 35h1v1h-1zM70 35h6v1h-6zM77 35h2v1h-2zM80 35h2v1h-2zM84 35h5v1h-5zM105 35h5v1h-5zM111 35h1v1h-1zM62 36h1v1h-1zM72 36h2v1h-2zM76 36h4v1h-4zM87 36h1v1h-1zM101 36h1v1h-1zM109 36h1v1h-1zM54 37h2v1h-2zM70 37h1v1h-1zM73 37h1v1h-1zM76 37h4v1h-4zM81 37h1v1h-1zM87 37h2v1h-2zM99 37h1v1h-1zM101 37h1v1h-1zM109 37h1v1h-1zM64 38h1v1h-1zM70 38h3v1h-3zM74 38h3v1h-3zM79 38h1v1h-1zM81 38h1v1h-1zM84 38h1v1h-1zM105 38h2v1h-2zM108 38h1v1h-1zM62 39h1v1h-1zM64 39h1v1h-1zM67 39h5v1h-5zM73 39h1v1h-1zM75 39h7v1h-7zM84 39h4v1h-4zM93 39h3v1h-3zM105 39h2v1h-2zM56 40h1v1h-1zM63 40h2v1h-2zM70 40h1v1h-1zM72 40h2v1h-2zM76 40h6v1h-6zM84 40h4v1h-4zM93 40h2v1h-2zM105 40h2v1h-2zM55 41h1v1h-1zM61 41h1v1h-1zM64 41h1v1h-1zM69 41h1v1h-1zM71 41h4v1h-4zM76 41h6v1h-6zM84 41h6v1h-6zM91 41h1v1h-1zM93 41h2v1h-2zM105 41h2v1h-2zM111 41h1v1h-1zM55 42h1v1h-1zM61 42h2v1h-2zM64 42h1v1h-1zM67 42h2v1h-2zM70 42h1v1h-1zM72 42h1v1h-1zM94 42h1v1h-1zM61 43h2v1h-2zM64 43h1v1h-1zM67 43h1v1h-1zM69 43h1v1h-1zM72 43h1v1h-1zM94 43h1v1h-1zM64 44h1v1h-1zM68 44h2v1h-2zM72 44h1v1h-1zM77 44h1v1h-1zM56 45h1v1h-1zM64 45h2v1h-2zM64 46h1v1h-1zM66 46h1v1h-1zM25 47h1v1h-1zM53 47h7v1h-7zM62 47h2v1h-2zM65 47h9v1h-9zM76 47h5v1h-5zM82 47h4v1h-4zM87 47h1v1h-1zM93 47h1v1h-1zM56 48h1v1h-1zM64 48h1v1h-1zM71 48h1v1h-1zM80 48h1v1h-1zM94 48h1v1h-1zM64 49h1v1h-1zM68 49h2v1h-2zM72 49h1v1h-1zM75 49h1v1h-1zM94 49h1v1h-1zM53 50h1v1h-1zM55 50h1v1h-1zM57 50h1v1h-1zM68 50h3v1h-3zM88 50h2v1h-2zM54 51h1v1h-1zM58 51h2v1h-2zM83 51h1v1h-1zM58 52h1v1h-1zM60 52h1v1h-1zM64 52h1v1h-1zM35 53h1v1h-1zM53 53h5v1h-5zM59 53h2v1h-2zM64 53h1v1h-1zM76 53h5v1h-5zM87 53h2v1h-2zM35 54h1v1h-1zM53 54h1v1h-1zM55 54h2v1h-2zM58 54h1v1h-1zM61 54h1v1h-1zM64 54h1v1h-1zM79 54h2v1h-2zM88 54h2v1h-2zM53 55h1v1h-1zM55 55h1v1h-1zM57 55h2v1h-2zM63 55h2v1h-2zM66 55h1v1h-1zM71 55h1v1h-1zM79 55h2v1h-2zM94 55h1v1h-1zM53 56h1v1h-1zM56 56h3v1h-3zM61 56h1v1h-1zM64 56h1v1h-1zM69 56h2v1h-2zM74 56h1v1h-1zM79 56h4v1h-4zM88 56h2v1h-2zM53 57h1v1h-1zM58 57h1v1h-1zM60 57h1v1h-1zM64 57h1v1h-1zM74 57h1v1h-1zM76 57h4v1h-4zM83 57h1v1h-1zM87 57h2v1h-2zM35 58h1v1h-1zM54 58h5v1h-5zM61 58h1v1h-1zM64 58h1v1h-1zM76 58h7v1h-7zM86 58h3v1h-3zM95 62h1v1h-1zM47 63h1v1h-1zM48 64h1v1h-1zM92 69h1v1h-1zM38 72h1v1h-1zM39 73h1v1h-1zM33 74h2v1h-2zM87 74h1v1h-1zM82 75h1v1h-1zM98 75h1v1h-1zM100 75h1v1h-1zM34 76h1v1h-1zM53 76h1v1h-1zM57 76h2v1h-2zM1 77h1v1h-1zM30 77h4v1h-4zM35 77h1v1h-1zM37 77h1v1h-1zM82 77h4v1h-4zM87 77h1v1h-1zM104 77h1v1h-1zM31 78h1v1h-1zM34 78h1v1h-1zM37 78h1v1h-1zM34 79h1v1h-1zM96 79h1v1h-1zM29 80h2v1h-2zM33 80h2v1h-2zM86 80h1v1h-1zM104 80h1v1h-1zM31 81h1v1h-1zM34 81h1v1h-1zM31 82h1v1h-1zM1 83h1v1h-1zM4 83h1v1h-1zM6 83h11v1h-11zM20 83h1v1h-1zM23 83h1v1h-1zM25 83h3v1h-3zM1 84h1v1h-1zM4 84h1v1h-1zM6 84h11v1h-11zM20 84h2v1h-2zM25 84h1v1h-1zM28 84h1v1h-1zM6 85h6v1h-6zM14 85h4v1h-4zM23 85h1v1h-1zM28 85h1v1h-1zM0 86h10v1h-10zM12 86h10v1h-10zM23 86h2v1h-2zM27 86h2v1h-2zM64 86h1v1h-1zM4 87h2v1h-2zM9 87h5v1h-5zM16 87h4v1h-4zM21 87h3v1h-3zM25 87h1v1h-1zM5 88h1v1h-1zM9 88h6v1h-6zM16 88h2v1h-2zM19 88h1v1h-1zM21 88h1v1h-1zM24 88h3v1h-3zM28 88h1v1h-1zM1 89h1v1h-1zM4 89h8v1h-8zM14 89h4v1h-4zM19 89h1v1h-1zM24 89h1v1h-1zM9 90h6v1h-6zM16 90h1v1h-1zM23 90h3v1h-3zM27 90h1v1h-1zM0 91h3v1h-3zM4 91h14v1h-14zM19 91h1v1h-1zM25 91h1v1h-1zM27 91h2v1h-2zM1 92h2v1h-2zM4 92h13v1h-13zM18 92h1v1h-1zM20 92h1v1h-1zM22 92h4v1h-4zM0 93h1v1h-1zM3 93h11v1h-11zM16 93h2v1h-2zM19 93h1v1h-1zM24 93h2v1h-2zM0 94h2v1h-2zM6 94h11v1h-11zM18 94h1v1h-1zM20 94h1v1h-1zM22 94h5v1h-5zM0 95h10v1h-10zM12 95h3v1h-3zM17 95h12v1h-12zM0 96h15v1h-15zM17 96h1v1h-1zM19 96h2v1h-2zM22 96h1v1h-1zM25 96h4v1h-4zM0 97h14v1h-14zM15 97h3v1h-3zM19 97h5v1h-5zM25 97h4v1h-4zM0 98h10v1h-10zM12 98h1v1h-1zM14 98h8v1h-8zM23 98h3v1h-3zM27 98h2v1h-2zM0 99h10v1h-10zM13 99h9v1h-9zM23 99h3v1h-3zM27 99h2v1h-2zM0 100h9v1h-9zM14 100h2v1h-2zM17 100h8v1h-8zM26 100h3v1h-3zM0 101h9v1h-9zM14 101h2v1h-2zM17 101h8v1h-8zM26 101h3v1h-3zM0 102h6v1h-6zM12 102h17v1h-17zM0 103h8v1h-8zM10 103h11v1h-11zM22 103h1v1h-1zM25 103h4v1h-4zM0 104h7v1h-7zM8 104h1v1h-1zM10 104h11v1h-11zM22 104h1v1h-1zM25 104h4v1h-4zM0 105h6v1h-6zM7 105h2v1h-2zM10 105h11v1h-11zM22 105h1v1h-1zM25 105h4v1h-4zM1 106h1v1h-1zM3 106h2v1h-2zM6 106h11v1h-11zM18 106h3v1h-3zM22 106h4v1h-4zM0 107h4v1h-4zM5 107h12v1h-12zM18 107h3v1h-3zM22 107h1v1h-1zM24 107h2v1h-2zM27 107h2v1h-2zM0 108h3v1h-3zM4 108h13v1h-13zM18 108h1v1h-1zM25 108h1v1h-1zM0 109h2v1h-2zM3 109h2v1h-2zM6 109h11v1h-11zM19 109h2v1h-2zM25 109h1v1h-1zM0 110h1v1h-1zM2 110h16v1h-16zM19 110h2v1h-2zM22 110h1v1h-1zM25 110h1v1h-1zM27 110h2v1h-2zM34 110h1v1h-1zM84 110h1v1h-1zM105 110h2v1h-2zM1 111h4v1h-4zM6 111h13v1h-13zM20 111h1v1h-1zM25 111h1v1h-1zM92 111h1v1h-1zM97 111h1v1h-1z"/><path fill="#0000ff" d="M111 0h1v1h-1zM110 1h1v1h-1zM109 2h1v1h-1zM108 3h1v1h-1zM107 4h1v1h-1zM105 5h2v1h-2zM105 6h2v1h-2zM104 7h1v1h-1zM103 8h1v1h-1zM102 9h1v1h-1zM101 10h1v1h-1zM100 11h1v1h-1zM99 12h1v1h-1zM98 13h1v1h-1zM97 14h1v1h-1zM96 15h1v1h-1zM95 16h1v1h-1zM94 17h1v1h-1zM93 18h1v1h-1zM92 19h1v1h-1zM91 20h1v1h-1zM90 21h1v1h-1zM89 22h1v1h-1zM88 23h1v1h-1zM79 24h1v1h-1zM84 24h1v1h-1zM87 24h1v1h-1zM86 25h1v1h-1zM84 26h2v1h-2zM84 27h2v1h-2zM87 27h1v1h-1zM83 28h1v1h-1zM82 29h1v1h-1zM81 30h1v1h-1zM80 31h1v1h-1zM76 32h4v1h-4zM87 32h1v1h-1zM78 33h2v1h-2zM77 34h1v1h-1zM79 34h1v1h-1zM76 35h1v1h-1zM79 35h1v1h-1zM75 36h1v1h-1zM74 37h1v1h-1zM73 38h1v1h-1zM72 39h1v1h-1zM71 40h1v1h-1zM70 41h1v1h-1zM69 42h1v1h-1zM68 43h1v1h-1zM67 44h1v1h-1zM66 45h1v1h-1zM65 46h1v1h-1zM64 47h1v1h-1zM63 48h1v1h-1zM62 49h1v1h-1zM61 50h1v1h-1zM60 51h1v1h-1zM59 52h1v1h-1zM58 53h1v1h-1zM57 54h1v1h-1zM56 55h1v1h-1zM55 56h1v1h-1zM54 57h1v1h-1zM53 58h1v1h-1zM52 59h1v1h-1zM51 60h1v1h-1zM50 61h1v1h-1zM49 62h1v1h-1zM48 63h1v1h-1zM47 64h1v1h-1zM46 65h1v1h-1zM45 66h1v1h-1zM44 67h1v1h-1zM43 68h1v1h-1zM42 69h1v1h-1zM41 70h1v1h-1zM40 71h1v1h-1zM39 72h1v1h-1zM38 73h1v1h-1zM37 74h1v1h-1zM36 75h1v1h-1zM35 76h1v1h-1zM34 77h1v1h-1zM33 78h1v1h-1zM32 79h1v1h-1zM31 80h1v1h-1zM30 81h1v1h-1zM29 82h1v1h-1zM28 83h1v1h-1zM27 84h1v1h-1zM26 85h1v1h-1zM10 86h2v1h-2zM25 86h1v1h-1zM24 87h1v1h-1zM23 88h1v1h-1zM22 89h1v1h-1zM21 90h1v1h-1zM20 91h1v1h-1zM19 92h1v1h-1zM18 93h1v1h-1zM17 94h1v1h-1zM10 95h2v1h-2zM15 95h2v1h-2zM15 96h2v1h-2zM14 97h1v1h-1zM10 98h2v1h-2zM13 98h1v1h-1zM10 99h3v1h-3zM9 100h5v1h-5zM16 100h1v1h-1zM25 100h1v1h-1zM9 101h5v1h-5zM16 101h1v1h-1zM25 101h1v1h-1zM6 102h6v1h-6zM8 103h2v1h-2zM7 104h1v1h-1zM9 104h1v1h-1zM6 105h1v1h-1zM9 105h1v1h-1zM5 106h1v1h-1zM4 107h1v1h-1zM3 108h1v1h-1zM2 109h1v1h-1zM1 110h1v1h-1zM0 111h1v1h-1z"/><path fill="#ff4f4f" d="M39 9h1v1h-1zM39 13h1v1h-1zM39 29h1v1h-1zM39 30h1v1h-1zM38 37h1v1h-1zM39 62h1v1h-1zM1 65h1v1h-1zM22 65h1v1h-1zM24 65h1v1h-1zM18 67h1v1h-1zM1 72h1v1h-1zM10 72h2v1h-2zM15 72h1v1h-1zM22 72h2v1h-2zM49 72h1v1h-1zM81 72h2v1h-2zM98 72h1v1h-1zM102 72h1v1h-1zM0 73h1v1h-1zM4 73h1v1h-1zM6 73h3v1h-3zM10 73h2v1h-2zM14 73h2v1h-2zM20 73h1v1h-1zM23 73h1v1h-1zM74 73h1v1h-1zM46 87h1v1h-1zM38 88h2v1h-2zM39 89h1v1h-1zM46 89h1v1h-1zM38 91h1v1h-1zM44 93h1v1h-1zM38 96h2v1h-2zM38 97h1v1h-1zM38 100h2v1h-2zM38 101h2v1h-2zM38 103h1v1h-1zM38 104h1v1h-1zM38 105h1v1h-1zM38 107h1v1h-1zM39 110h1v1h-1zM46 110h1v1h-1zM38 111h1v1h-1z"/><path fill="#ff2828" d="M14 72h1v1h-1zM16 72h1v1h-1zM21 72h1v1h-1zM27 72h2v1h-2zM1 73h1v1h-1zM5 73h1v1h-1zM9 73h1v1h-1zM12 73h1v1h-1zM16 73h1v1h-1zM26 73h1v1h-1zM28 73h1v1h-1zM38 83h2v1h-2zM39 84h1v1h-1zM38 85h1v1h-1zM39 90h1v1h-1zM38 95h2v1h-2zM39 97h1v1h-1zM38 99h1v1h-1zM38 102h1v1h-1zM38 106h1v1h-1zM38 110h1v1h-1z"/></svg>
<rect x="351.25" y="258.75" width="548.6" height="564.15" fill="none" stroke="#000" stroke-width="2"/>
<path d="M397.8 0.8L628.3 0.8M397.8 0.8L397.8 233.4M628.3 0.8L628.3 173.4M541.3 173.4L716.0 173.4M541.3 173.4L541.3 226.4M716.0 173.4L716.0 205.3M643.8 205.3L788.6 205.3M643.8 205.3L643.8 233.4M788.6 205.3L788.6 222.2M744.6 222.2L832.6 222.2M744.6 222.2L744.6 234.7M832.6 222.2L832.6 232.0M511.3 226.4L571.3 226.4M511.3 226.4L511.3 239.9M571.3 226.4L571.3 238.9M362.4 233.4L434.1 233.4M362.4 233.4L362.4 243.1M434.1 233.4L434.1 235.9M401.5 235.9L464.8 235.9M401.5 235.9L401.5 241.2M464.8 235.9L464.8 239.6M384.8 241.2L419.9 241.2M384.8 241.2L384.8 245.3M419.9 241.2L419.9 245.3M448.3 239.6L481.9 239.6M448.3 239.6L448.3 243.1M481.9 239.6L481.9 243.4M357.3 243.1L369.3 243.1M357.3 243.1L357.3 247.0M369.3 243.1L369.3 245.3M622.9 233.4L665.8 233.4M622.9 233.4L622.9 244.4M665.8 233.4L665.8 239.6M651.3 239.6L678.8 239.6M651.3 239.6L651.3 244.4M678.8 239.6L678.8 243.0M723.6 234.7L765.4 234.7M723.6 234.7L723.6 240.4M765.4 234.7L765.4 238.6M708.5 240.4L739.4 240.4M708.5 240.4L708.5 244.0M739.4 240.4L739.4 244.7M757.7 238.6L773.4 238.6M757.7 238.6L757.7 245.0M773.4 238.6L773.4 244.7M802.6 232.0L862.5 232.0M802.6 232.0L802.6 241.5M862.5 232.0L862.5 237.7M791.8 241.5L814.5 241.5M791.8 241.5L791.8 245.0M814.5 241.5L814.5 245.0M848.7 237.7L878.0 237.7M848.7 237.7L848.7 241.5M878.0 237.7L878.0 239.0M837.3 241.5L857.2 241.5M837.3 241.5L837.3 245.0M857.2 241.5L857.2 245.0M870.5 239.0L886.6 239.0M870.5 239.0L870.5 249.5M886.6 239.0L886.6 243.5M880.0 243.5L892.3 243.5M880.0 243.5L880.0 246.0M892.3 243.5L892.3 246.0M499.5 239.9L521.9 239.9M499.5 239.9L499.5 244.0M521.9 239.9L521.9 241.9M515.4 241.9L529.9 241.9M515.4 241.9L515.4 245.0M529.9 241.9L529.9 245.0M550.4 238.9L590.7 238.9M550.4 238.9L550.4 243.0M590.7 238.9L590.7 240.0M583.0 240.0L598.0 240.0M583.0 240.0L583.0 245.0M598.0 240.0L598.0 245.0M543.0 243.0L558.0 243.0M543.0 243.0L543.0 246.0M558.0 243.0L558.0 246.0M354.5 246.5L359.4 246.5M354.5 246.5L354.5 249.8M359.4 246.5L359.4 249.8M366.7 245.3L374.1 245.3M366.7 245.3L366.7 247.4M364.3 247.4L369.2 247.4M364.3 247.4L364.3 249.8M369.2 247.4L369.2 249.8M374.1 245.3L374.1 249.8M381.4 245.3L393.6 245.3M381.4 245.3L381.4 246.6M378.9 246.6L383.8 246.6M378.9 246.6L378.9 249.8M383.8 246.6L383.8 249.8M393.6 245.3L393.6 246.3M391.2 246.3L398.5 246.3M391.2 246.3L391.2 247.4M388.7 247.4L393.6 247.4M388.7 247.4L388.7 249.8M393.6 247.4L393.6 249.8M398.5 246.3L398.5 249.8M405.8 245.3L422.9 245.3M405.8 245.3L405.8 246.6M403.4 246.6L408.2 246.6M403.4 246.6L403.4 249.8M408.2 246.6L408.2 249.8M422.9 245.3L422.9 246.0M418.0 246.0L430.2 246.0M418.0 246.0L418.0 246.7M415.6 246.7L422.9 246.7M415.6 246.7L415.6 247.4M413.1 247.4L418.0 247.4M413.1 247.4L413.1 249.8M418.0 247.4L418.0 249.8M422.9 246.7L422.9 249.8M430.2 246.0L430.2 246.8M427.8 246.8L432.6 246.8M427.8 246.8L427.8 249.8M432.6 246.8L432.6 249.8M437.5 243.1L452.2 243.1M437.5 243.1L437.5 249.8M452.2 243.1L452.2 244.1M442.4 244.1L454.6 244.1M442.4 244.1L442.4 249.8M454.6 244.1L454.6 245.9M449.7 245.9L459.5 245.9M449.7 245.9L449.7 247.2M447.3 247.2L452.2 247.2M447.3 247.2L447.3 249.8M452.2 247.2L452.2 249.8M459.5 245.9L459.5 247.2M457.0 247.2L461.9 247.2M457.0 247.2L457.0 249.8M461.9 247.2L461.9 249.8M471.7 243.4L483.9 243.4M471.7 243.4L471.7 244.1M466.8 244.1L474.1 244.1M466.8 244.1L466.8 249.8M474.1 244.1L474.1 246.0M471.7 246.0L476.6 246.0M471.7 246.0L471.7 249.8M476.6 246.0L476.6 249.8M483.9 243.4L483.9 246.0M481.5 246.0L486.3 246.0M481.5 246.0L481.5 249.8M486.3 246.0L486.3 249.8M496.1 244.0L505.9 244.0M496.1 244.0L496.1 244.7M493.7 244.7L501.0 244.7M493.7 244.7L493.7 246.0M491.2 246.0L496.1 246.0M491.2 246.0L491.2 249.8M496.1 246.0L496.1 249.8M501.0 244.7L501.0 249.8M505.9 244.0L505.9 249.8M510.7 245.0L518.1 245.0M510.7 245.0L510.7 249.8M518.1 245.0L518.1 247.4M515.6 247.4L520.5 247.4M515.6 247.4L515.6 249.8M520.5 247.4L520.5 249.8M525.4 245.0L532.7 245.0M525.4 245.0L525.4 249.8M532.7 245.0L532.7 247.4M530.3 247.4L535.1 247.4M530.3 247.4L530.3 249.8M535.1 247.4L535.1 249.8M540.0 246.0L547.3 246.0M540.0 246.0L540.0 249.8M547.3 246.0L547.3 246.8M544.9 246.8L549.8 246.8M544.9 246.8L544.9 249.8M549.8 246.8L549.8 249.8M554.7 246.0L564.4 246.0M554.7 246.0L554.7 249.8M564.4 246.0L564.4 247.4M562.0 247.4L569.3 247.4M562.0 247.4L562.0 247.4M559.6 247.4L564.4 247.4M559.6 247.4L559.6 249.8M564.4 247.4L564.4 249.8M569.3 247.4L569.3 249.8M574.2 245.0L584.0 245.0M574.2 245.0L574.2 249.8M584.0 245.0L584.0 246.4M581.5 246.4L588.8 246.4M581.5 246.4L581.5 247.2M579.1 247.2L584.0 247.2M579.1 247.2L579.1 249.8M584.0 247.2L584.0 249.8M588.8 246.4L588.8 249.8M596.2 245.0L605.9 245.0M596.2 245.0L596.2 245.8M593.7 245.8L598.6 245.8M593.7 245.8L593.7 249.8M598.6 245.8L598.6 249.8M605.9 245.0L605.9 246.3M603.5 246.3L608.4 246.3M603.5 246.3L603.5 249.8M608.4 246.3L608.4 249.8M613.2 244.4L625.5 244.4M613.2 244.4L613.2 249.8M625.5 244.4L625.5 245.1M618.1 245.1L627.9 245.1M618.1 245.1L618.1 249.8M627.9 245.1L627.9 246.9M623.0 246.9L630.3 246.9M623.0 246.9L623.0 249.8M630.3 246.9L630.3 247.4M627.9 247.4L632.8 247.4M627.9 247.4L627.9 249.8M632.8 247.4L632.8 249.8M642.5 244.4L657.2 244.4M642.5 244.4L642.5 245.4M640.1 245.4L647.4 245.4M640.1 245.4L640.1 246.2M637.7 246.2L642.5 246.2M637.7 246.2L637.7 249.8M642.5 246.2L642.5 249.8M647.4 245.4L647.4 249.8M657.2 244.4L657.2 246.2M654.7 246.2L662.1 246.2M654.7 246.2L654.7 247.0M652.3 247.0L657.2 247.0M652.3 247.0L652.3 249.8M657.2 247.0L657.2 249.8M662.1 246.2L662.1 249.8M671.8 243.0L686.5 243.0M671.8 243.0L671.8 244.4M669.4 244.4L676.7 244.4M669.4 244.4L669.4 245.2M666.9 245.2L671.8 245.2M666.9 245.2L666.9 249.8M671.8 245.2L671.8 249.8M676.7 244.4L676.7 249.8M686.5 243.0L686.5 243.7M684.0 243.7L691.3 243.7M684.0 243.7L684.0 244.5M681.6 244.5L686.5 244.5M681.6 244.5L681.6 249.8M686.5 244.5L686.5 249.8M691.3 243.7L691.3 249.8M703.5 244.0L718.2 244.0M703.5 244.0L703.5 245.4M696.2 245.4L706.0 245.4M696.2 245.4L696.2 249.8M706.0 245.4L706.0 246.4M703.5 246.4L710.9 246.4M703.5 246.4L703.5 247.4M701.1 247.4L706.0 247.4M701.1 247.4L701.1 249.8M706.0 247.4L706.0 249.8M710.9 246.4L710.9 249.8M718.2 244.0L718.2 246.6M715.8 246.6L720.6 246.6M715.8 246.6L715.8 249.8M720.6 246.6L720.6 249.8M725.5 244.7L737.7 244.7M725.5 244.7L725.5 249.8M737.7 244.7L737.7 246.5M735.3 246.5L745.0 246.5M735.3 246.5L735.3 247.4M730.4 247.4L737.7 247.4M730.4 247.4L730.4 249.8M737.7 247.4L737.7 247.4M735.3 247.4L740.2 247.4M735.3 247.4L735.3 249.8M740.2 247.4L740.2 249.8M745.0 246.5L745.0 249.8M749.9 245.0L759.7 245.0M749.9 245.0L749.9 249.8M759.7 245.0L759.7 246.0M754.8 246.0L762.1 246.0M754.8 246.0L754.8 249.8M762.1 246.0L762.1 247.4M759.7 247.4L764.6 247.4M759.7 247.4L759.7 249.8M764.6 247.4L764.6 249.8M771.9 244.7L779.2 244.7M771.9 244.7L771.9 247.3M769.4 247.3L774.3 247.3M769.4 247.3L769.4 249.8M774.3 247.3L774.3 249.8M779.2 244.7L779.2 249.8M784.1 245.0L793.9 245.0M784.1 245.0L784.1 249.8M793.9 245.0L793.9 246.4M789.0 246.4L796.3 246.4M789.0 246.4L789.0 249.8M796.3 246.4L796.3 247.4M793.9 247.4L798.7 247.4M793.9 247.4L793.9 249.8M798.7 247.4L798.7 249.8M806.1 245.0L818.3 245.0M806.1 245.0L806.1 247.4M803.6 247.4L808.5 247.4M803.6 247.4L803.6 249.8M808.5 247.4L808.5 249.8M818.3 245.0L818.3 246.4M813.4 246.4L820.7 246.4M813.4 246.4L813.4 249.8M820.7 246.4L820.7 247.2M818.3 247.2L823.1 247.2M818.3 247.2L818.3 249.8M823.1 247.2L823.1 249.8M828.0 245.0L837.8 245.0M828.0 245.0L828.0 249.8M837.8 245.0L837.8 246.4M832.9 246.4L840.2 246.4M832.9 246.4L832.9 249.8M840.2 246.4L840.2 247.4M837.8 247.4L842.7 247.4M837.8 247.4L837.8 249.8M842.7 247.4L842.7 249.8M852.4 245.0L862.2 245.0M852.4 245.0L852.4 246.8M847.5 246.8L854.9 246.8M847.5 246.8L847.5 249.8M854.9 246.8L854.9 247.4M852.4 247.4L857.3 247.4M852.4 247.4L852.4 249.8M857.3 247.4L857.3 249.8M862.2 245.0L862.2 249.8M867.1 249.5L872.0 249.5M867.1 249.5L867.1 249.8M872.0 249.5L872.0 249.8M876.8 246.0L881.7 246.0M876.8 246.0L876.8 249.8M881.7 246.0L881.7 249.8M889.0 246.0L896.4 246.0M889.0 246.0L889.0 247.3M886.6 247.3L891.5 247.3M886.6 247.3L886.6 249.8M891.5 247.3L891.5 249.8M896.4 246.0L896.4 249.8" fill="none" stroke="#000" stroke-width="1.45" stroke-linecap="square"/>
<path d="M102.7 778.1L102.7 539.6M102.7 778.1L327.6 778.1M102.7 539.6L269.6 539.6M269.6 629.7L269.6 448.9M269.6 629.7L320.9 629.7M269.6 448.9L300.5 448.9M300.5 523.6L300.5 373.8M300.5 523.6L327.6 523.6M300.5 373.8L316.8 373.8M316.8 419.3L316.8 328.3M316.8 419.3L328.9 419.3M316.8 328.3L326.3 328.3M320.9 660.7L320.9 598.6M320.9 660.7L333.9 660.7M320.9 598.6L332.9 598.6M327.6 814.7L327.6 740.6M327.6 814.7L337.0 814.7M327.6 740.6L330.0 740.6M330.0 774.3L330.0 708.8M330.0 774.3L335.2 774.3M330.0 708.8L333.6 708.8M335.2 791.6L335.2 755.3M335.2 791.6L339.1 791.6M335.2 755.3L339.1 755.3M333.6 725.9L333.6 691.1M333.6 725.9L337.0 725.9M333.6 691.1L337.3 691.1M337.0 820.0L337.0 807.6M337.0 820.0L340.8 820.0M337.0 807.6L339.1 807.6M327.6 545.2L327.6 500.8M327.6 545.2L338.3 545.2M327.6 500.8L333.6 500.8M333.6 515.8L333.6 487.4M333.6 515.8L338.3 515.8M333.6 487.4L336.9 487.4M328.9 441.0L328.9 397.8M328.9 441.0L334.4 441.0M328.9 397.8L332.7 397.8M334.4 456.7L334.4 424.7M334.4 456.7L337.9 456.7M334.4 424.7L338.6 424.7M332.7 405.8L332.7 389.5M332.7 405.8L338.8 405.8M332.7 389.5L338.6 389.5M326.3 359.3L326.3 297.3M326.3 359.3L335.5 359.3M326.3 297.3L331.8 297.3M335.5 370.5L335.5 347.0M335.5 370.5L338.8 370.5M335.5 347.0L338.8 347.0M331.8 311.6L331.8 281.3M331.8 311.6L335.5 311.6M331.8 281.3L333.0 281.3M335.5 323.4L335.5 302.8M335.5 323.4L338.8 323.4M335.5 302.8L338.8 302.8M333.0 289.1L333.0 272.4M333.0 289.1L343.2 289.1M333.0 272.4L337.4 272.4M337.4 279.2L337.4 266.5M337.4 279.2L339.8 279.2M337.4 266.5L339.8 266.5M333.9 672.9L333.9 649.7M333.9 672.9L337.9 672.9M333.9 649.7L335.8 649.7M335.8 656.4L335.8 641.4M335.8 656.4L338.8 656.4M335.8 641.4L338.8 641.4M332.9 620.2L332.9 578.5M332.9 620.2L336.9 620.2M332.9 578.5L334.0 578.5M334.0 586.5L334.0 571.0M334.0 586.5L338.8 586.5M334.0 571.0L338.8 571.0M336.9 627.9L336.9 612.4M336.9 627.9L339.8 627.9M336.9 612.4L339.8 612.4M340.3 822.9L340.3 817.8M340.3 822.9L343.5 822.9M340.3 817.8L343.5 817.8M339.1 810.2L339.1 802.7M339.1 810.2L341.2 810.2M341.2 812.8L341.2 807.7M341.2 812.8L343.5 812.8M341.2 807.7L343.5 807.7M339.1 802.7L343.5 802.7M339.1 795.1L339.1 782.5M339.1 795.1L340.4 795.1M340.4 797.6L340.4 792.6M340.4 797.6L343.5 797.6M340.4 792.6L343.5 792.6M339.1 782.5L340.1 782.5M340.1 785.0L340.1 777.4M340.1 785.0L341.2 785.0M341.2 787.5L341.2 782.5M341.2 787.5L343.5 787.5M341.2 782.5L343.5 782.5M340.1 777.4L343.5 777.4M339.1 769.8L339.1 752.2M339.1 769.8L340.4 769.8M340.4 772.4L340.4 767.3M340.4 772.4L343.5 772.4M340.4 767.3L343.5 767.3M339.1 752.2L339.8 752.2M339.8 757.2L339.8 744.6M339.8 757.2L340.5 757.2M340.5 759.7L340.5 752.2M340.5 759.7L341.2 759.7M341.2 762.3L341.2 757.2M341.2 762.3L343.5 762.3M341.2 757.2L343.5 757.2M340.5 752.2L343.5 752.2M339.8 744.6L340.6 744.6M340.6 747.1L340.6 742.1M340.6 747.1L343.5 747.1M340.6 742.1L343.5 742.1M337.0 737.0L337.0 721.9M337.0 737.0L343.5 737.0M337.0 721.9L338.0 721.9M338.0 732.0L338.0 719.3M338.0 732.0L343.5 732.0M338.0 719.3L339.7 719.3M339.7 724.4L339.7 714.3M339.7 724.4L341.0 724.4M341.0 726.9L341.0 721.9M341.0 726.9L343.5 726.9M341.0 721.9L343.5 721.9M339.7 714.3L341.0 714.3M341.0 716.8L341.0 711.8M341.0 716.8L343.5 716.8M341.0 711.8L343.5 711.8M337.3 701.7L337.3 689.0M337.3 701.7L338.0 701.7M338.0 706.7L338.0 699.1M338.0 706.7L343.5 706.7M338.0 699.1L339.8 699.1M339.8 701.7L339.8 696.6M339.8 701.7L343.5 701.7M339.8 696.6L343.5 696.6M337.3 689.0L339.8 689.0M339.8 691.6L339.8 686.5M339.8 691.6L343.5 691.6M339.8 686.5L343.5 686.5M337.9 676.4L337.9 666.3M337.9 676.4L338.6 676.4M338.6 678.9L338.6 671.4M338.6 678.9L339.8 678.9M339.8 681.5L339.8 676.4M339.8 681.5L343.5 681.5M339.8 676.4L343.5 676.4M338.6 671.4L343.5 671.4M337.9 666.3L343.5 666.3M338.8 661.3L338.8 653.7M338.8 661.3L343.5 661.3M338.8 653.7L341.2 653.7M341.2 656.2L341.2 651.2M341.2 656.2L343.5 656.2M341.2 651.2L343.5 651.2M338.8 646.1L338.8 638.5M338.8 646.1L343.5 646.1M338.8 638.5L341.2 638.5M341.2 641.1L341.2 636.0M341.2 641.1L343.5 641.1M341.2 636.0L343.5 636.0M339.8 631.0L339.8 623.4M339.8 631.0L343.5 631.0M339.8 623.4L340.6 623.4M340.6 625.9L340.6 620.9M340.6 625.9L343.5 625.9M340.6 620.9L343.5 620.9M339.8 615.8L339.8 605.7M339.8 615.8L343.5 615.8M339.8 605.7L341.2 605.7M341.2 608.2L341.2 600.7M341.2 608.2L341.2 608.2M341.2 610.8L341.2 605.7M341.2 610.8L343.5 610.8M341.2 605.7L343.5 605.7M341.2 600.7L343.5 600.7M338.8 595.6L338.8 585.5M338.8 595.6L343.5 595.6M338.8 585.5L340.2 585.5M340.2 588.0L340.2 580.5M340.2 588.0L341.0 588.0M341.0 590.6L341.0 585.5M341.0 590.6L343.5 590.6M341.0 585.5L343.5 585.5M340.2 580.5L343.5 580.5M338.8 572.9L338.8 562.8M338.8 572.9L339.6 572.9M339.6 575.4L339.6 570.4M339.6 575.4L343.5 575.4M339.6 570.4L343.5 570.4M338.8 562.8L340.1 562.8M340.1 565.3L340.1 560.3M340.1 565.3L343.5 565.3M340.1 560.3L343.5 560.3M338.3 555.2L338.3 542.6M338.3 555.2L343.5 555.2M338.3 542.6L338.9 542.6M338.9 550.2L338.9 540.1M338.9 550.2L343.5 550.2M338.9 540.1L340.7 540.1M340.7 545.1L340.7 537.5M340.7 545.1L343.5 545.1M340.7 537.5L341.2 537.5M341.2 540.1L341.2 535.0M341.2 540.1L343.5 540.1M341.2 535.0L343.5 535.0M338.3 524.9L338.3 509.8M338.3 524.9L339.2 524.9M339.2 527.4L339.2 519.9M339.2 527.4L340.0 527.4M340.0 530.0L340.0 524.9M340.0 530.0L343.5 530.0M340.0 524.9L343.5 524.9M339.2 519.9L343.5 519.9M338.3 509.8L340.0 509.8M340.0 512.3L340.0 504.7M340.0 512.3L340.8 512.3M340.8 514.8L340.8 509.8M340.8 514.8L343.5 514.8M340.8 509.8L343.5 509.8M340.0 504.7L343.5 504.7M336.9 494.6L336.9 479.5M336.9 494.6L338.3 494.6M338.3 497.1L338.3 489.6M338.3 497.1L339.0 497.1M339.0 499.7L339.0 494.6M339.0 499.7L343.5 499.7M339.0 494.6L343.5 494.6M338.3 489.6L343.5 489.6M336.9 479.5L337.6 479.5M337.6 482.0L337.6 474.4M337.6 482.0L338.4 482.0M338.4 484.5L338.4 479.5M338.4 484.5L343.5 484.5M338.4 479.5L343.5 479.5M337.6 474.4L343.5 474.4M337.9 461.8L337.9 446.6M337.9 461.8L339.2 461.8M339.2 469.4L339.2 459.3M339.2 469.4L343.5 469.4M339.2 459.3L340.2 459.3M340.2 461.8L340.2 454.2M340.2 461.8L341.2 461.8M341.2 464.3L341.2 459.3M341.2 464.3L343.5 464.3M341.2 459.3L343.5 459.3M340.2 454.2L343.5 454.2M337.9 446.6L340.4 446.6M340.4 449.2L340.4 444.1M340.4 449.2L343.5 449.2M340.4 444.1L343.5 444.1M338.6 439.1L338.6 426.4M338.6 439.1L343.5 439.1M338.6 426.4L340.3 426.4M340.3 429.0L340.3 418.9M340.3 429.0L341.2 429.0M341.2 434.0L341.2 426.4M341.2 434.0L343.5 434.0M341.2 426.4L341.2 426.4M341.2 429.0L341.2 423.9M341.2 429.0L343.5 429.0M341.2 423.9L343.5 423.9M340.3 418.9L343.5 418.9M338.8 413.8L338.8 403.7M338.8 413.8L343.5 413.8M338.8 403.7L339.8 403.7M339.8 408.8L339.8 401.2M339.8 408.8L343.5 408.8M339.8 401.2L341.2 401.2M341.2 403.7L341.2 398.7M341.2 403.7L343.5 403.7M341.2 398.7L343.5 398.7M338.6 391.1L338.6 383.5M338.6 391.1L341.1 391.1M341.1 393.6L341.1 388.6M341.1 393.6L343.5 393.6M341.1 388.6L343.5 388.6M338.6 383.5L343.5 383.5M338.8 378.5L338.8 368.4M338.8 378.5L343.5 378.5M338.8 368.4L340.2 368.4M340.2 373.4L340.2 365.8M340.2 373.4L343.5 373.4M340.2 365.8L341.2 365.8M341.2 368.4L341.2 363.3M341.2 368.4L343.5 368.4M341.2 363.3L343.5 363.3M338.8 355.7L338.8 343.1M338.8 355.7L341.2 355.7M341.2 358.3L341.2 353.2M341.2 358.3L343.5 358.3M341.2 353.2L343.5 353.2M338.8 343.1L340.2 343.1M340.2 348.2L340.2 340.6M340.2 348.2L343.5 348.2M340.2 340.6L341.0 340.6M341.0 343.1L341.0 338.1M341.0 343.1L343.5 343.1M341.0 338.1L343.5 338.1M338.8 333.0L338.8 322.9M338.8 333.0L343.5 333.0M338.8 322.9L340.2 322.9M340.2 328.0L340.2 320.4M340.2 328.0L343.5 328.0M340.2 320.4L341.2 320.4M341.2 322.9L341.2 317.9M341.2 322.9L343.5 322.9M341.2 317.9L343.5 317.9M338.8 307.8L338.8 297.7M338.8 307.8L340.6 307.8M340.6 312.8L340.6 305.2M340.6 312.8L343.5 312.8M340.6 305.2L341.2 305.2M341.2 307.8L341.2 302.7M341.2 307.8L343.5 307.8M341.2 302.7L343.5 302.7M338.8 297.7L343.5 297.7M343.2 292.6L343.2 287.6M343.2 292.6L343.5 292.6M343.2 287.6L343.5 287.6M339.8 282.5L339.8 277.5M339.8 282.5L343.5 282.5M339.8 277.5L343.5 277.5M339.8 269.9L339.8 262.3M339.8 269.9L341.1 269.9M341.1 272.4L341.1 267.4M341.1 272.4L343.5 272.4M341.1 267.4L343.5 267.4M339.8 262.3L343.5 262.3" fill="none" stroke="#000" stroke-width="1.45" stroke-linecap="square"/>
<rect x="350.2" y="837.3" width="549.7" height="26.5" fill="#c5e0b4"/><rect x="478.0" y="837.3" width="4.80" height="26.5" fill="#404040"/><rect x="541.0" y="837.3" width="9.70" height="26.5" fill="#404040"/><rect x="572.3" y="837.3" width="4.60" height="26.5" fill="#404040"/><rect x="606.1" y="837.3" width="182.80" height="26.5" fill="#404040"/><rect x="795.9" y="837.3" width="4.20" height="26.5" fill="#404040"/><rect x="805.0" y="837.3" width="19.20" height="26.5" fill="#404040"/><rect x="894.3" y="837.3" width="5.60" height="26.5" fill="#404040"/><rect x="350.7" y="837.8" width="548.7" height="25.5" fill="none" stroke="#3a3a3a" stroke-width="1"/><rect x="350.2" y="887.6" width="549.7" height="27.8" fill="#c5e0b4"/><rect x="350.2" y="887.6" width="144.45" height="27.8" fill="#404040"/><rect x="350.7" y="888.1" width="548.7" height="26.8" fill="none" stroke="#3a3a3a" stroke-width="1"/><rect x="923.2" y="258.2" width="26.9" height="564.4" fill="#c5e0b4"/><rect x="923.2" y="686.45" width="26.9" height="4.93" fill="#404040"/><rect x="923.2" y="616.74" width="26.9" height="9.96" fill="#404040"/><rect x="923.2" y="589.84" width="26.9" height="4.72" fill="#404040"/><rect x="923.2" y="372.17" width="26.9" height="187.69" fill="#404040"/><rect x="923.2" y="360.67" width="26.9" height="4.31" fill="#404040"/><rect x="923.2" y="335.92" width="26.9" height="19.71" fill="#404040"/><rect x="923.2" y="258.20" width="26.9" height="5.75" fill="#404040"/><rect x="923.7" y="258.7" width="25.9" height="563.4" fill="none" stroke="#3a3a3a" stroke-width="1"/><rect x="973.2" y="258.2" width="28.6" height="564.4" fill="#c5e0b4"/><rect x="973.2" y="674.29" width="28.6" height="148.31" fill="#404040"/><rect x="973.7" y="258.7" width="27.6" height="563.4" fill="none" stroke="#3a3a3a" stroke-width="1"/>
<rect x="15.6" y="145.7" width="243.3" height="36.3" fill="url(#cb)" stroke="#000" stroke-width="1.3"/>
<text x="-0.2" y="137.5" font-size="24.4" textLength="49.8" lengthAdjust="spacingAndGlyphs">−0.5</text>
<text x="236" y="137.5" font-size="24.4" textLength="47.3" lengthAdjust="spacingAndGlyphs">+0.5</text>
<text x="50.1" y="206.6" font-size="24.4" textLength="182.7" lengthAdjust="spacingAndGlyphs">Product-moment</text>
<text x="83.7" y="236.3" font-size="24.4" textLength="115.8" lengthAdjust="spacingAndGlyphs">correlation</text>
<rect x="23.5" y="381.5" width="28" height="28.8" fill="#c5e0b4" stroke="#222" stroke-width="1.1"/>
<rect x="23.5" y="417.3" width="28" height="28.8" fill="#404040" stroke="#222" stroke-width="1.1"/>
<text x="62.2" y="402.9" font-size="22.4" textLength="91.4" lengthAdjust="spacingAndGlyphs">Wild-type</text>
<text x="62.0" y="438.6" font-size="22.4" textLength="68.2" lengthAdjust="spacingAndGlyphs">Mutant</text>
<text x="220.0" y="858.4" font-size="24.4" textLength="118" lengthAdjust="spacingAndGlyphs"><tspan class="i">CTNNB1</tspan>m</text>
<text x="260.2" y="909.3" font-size="24.4" textLength="77.8" lengthAdjust="spacingAndGlyphs"><tspan class="i">TP53</tspan>m</text>
<text transform="translate(945.1 248.2) rotate(-90)" font-size="24.1"><tspan class="i">CTNNB1</tspan>m</text>
<text transform="translate(995.5 248.7) rotate(-90)" font-size="24.05"><tspan class="i">TP53</tspan>m</text>
</svg>
</body></html>
